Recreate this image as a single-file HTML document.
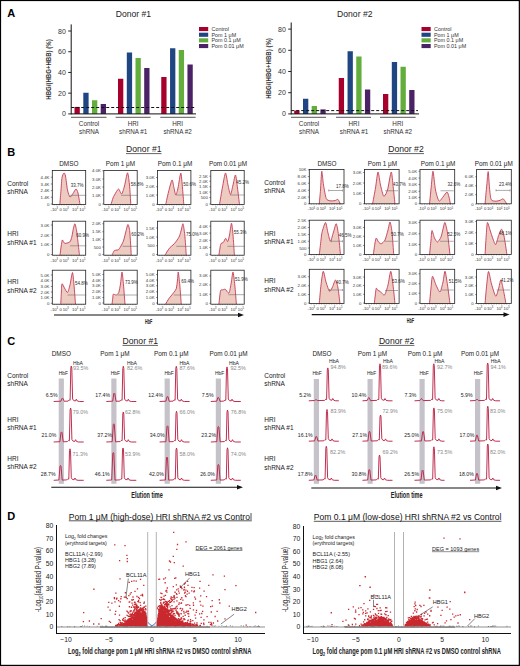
<!DOCTYPE html>
<html><head><meta charset="utf-8"><title>Figure</title>
<style>
html,body{margin:0;padding:0;background:#fff;}
body{width:520px;height:666px;overflow:hidden;}
svg{display:block;font-family:"Liberation Sans", sans-serif;}
</style></head><body>
<svg width="520" height="666" viewBox="0 0 520 666">
<rect x="0" y="0" width="520" height="666" fill="#fff"/>
<text x="7.2" y="16.7" font-size="11" fill="#000" font-weight="bold">A</text>
<text x="7.2" y="155.5" font-size="11" fill="#000" font-weight="bold">B</text>
<text x="7.2" y="344.5" font-size="11" fill="#000" font-weight="bold">C</text>
<text x="7.2" y="519.5" font-size="11" fill="#000" font-weight="bold">D</text>
<text x="133.4" y="17.4" font-size="8.6" fill="#222" text-anchor="middle">Donor #1</text>
<line x1="71.2" y1="24.4" x2="71.2" y2="114.4" stroke="#111" stroke-width="1"/>
<line x1="68.2" y1="113.9" x2="71.2" y2="113.9" stroke="#111" stroke-width="0.9"/>
<text x="65.9" y="116.4" font-size="7" fill="#333" text-anchor="end">0</text>
<line x1="68.2" y1="93.18" x2="71.2" y2="93.18" stroke="#111" stroke-width="0.9"/>
<text x="65.9" y="95.68" font-size="7" fill="#333" text-anchor="end">20</text>
<line x1="68.2" y1="72.46" x2="71.2" y2="72.46" stroke="#111" stroke-width="0.9"/>
<text x="65.9" y="74.96" font-size="7" fill="#333" text-anchor="end">40</text>
<line x1="68.2" y1="51.74" x2="71.2" y2="51.74" stroke="#111" stroke-width="0.9"/>
<text x="65.9" y="54.24" font-size="7" fill="#333" text-anchor="end">60</text>
<line x1="68.2" y1="31.02" x2="71.2" y2="31.02" stroke="#111" stroke-width="0.9"/>
<text x="65.9" y="33.52" font-size="7" fill="#333" text-anchor="end">80</text>
<text transform="translate(51.4 69.5) rotate(-90)" x="0" y="0" font-size="7.4" fill="#333" text-anchor="middle" font-weight="bold" textLength="60.5" lengthAdjust="spacingAndGlyphs">HBG/(HBG+HBB) (%)</text>
<rect x="74.5" y="106.9" width="5.3" height="7" fill="#a8002c"/>
<rect x="83.3" y="92.75" width="5.3" height="21.15" fill="#1f4582"/>
<rect x="92" y="100.25" width="5.3" height="13.65" fill="#62ad3c"/>
<rect x="100.7" y="104" width="5.3" height="9.9" fill="#4b2266"/>
<rect x="118" y="78.75" width="5.3" height="35.15" fill="#a8002c"/>
<rect x="126.8" y="52.5" width="5.3" height="61.4" fill="#1f4582"/>
<rect x="135.5" y="58" width="5.3" height="55.9" fill="#62ad3c"/>
<rect x="144.2" y="68" width="5.3" height="45.9" fill="#4b2266"/>
<rect x="161.25" y="77" width="5.3" height="36.9" fill="#a8002c"/>
<rect x="170.05" y="48.25" width="5.3" height="65.65" fill="#1f4582"/>
<rect x="178.75" y="50" width="5.3" height="63.9" fill="#62ad3c"/>
<rect x="187.45" y="64.5" width="5.3" height="49.4" fill="#4b2266"/>
<line x1="71.2" y1="113.9" x2="196" y2="113.9" stroke="#111" stroke-width="1"/>
<line x1="71.2" y1="107.5" x2="195" y2="107.5" stroke="#111" stroke-width="1" stroke-dasharray="3 2"/>
<line x1="71" y1="117.3" x2="106.5" y2="117.3" stroke="#555" stroke-width="1"/>
<line x1="115.6" y1="117.3" x2="150.6" y2="117.3" stroke="#555" stroke-width="1"/>
<line x1="160.25" y1="117.3" x2="195.6" y2="117.3" stroke="#555" stroke-width="1"/>
<text x="89" y="125.6" font-size="6.3" fill="#333" text-anchor="middle">Control</text>
<text x="89" y="133.6" font-size="6.3" fill="#333" text-anchor="middle">shRNA</text>
<text x="133.2" y="125.6" font-size="6.3" fill="#333" text-anchor="middle">HRI</text>
<text x="133.2" y="133.6" font-size="6.3" fill="#333" text-anchor="middle">shRNA #1</text>
<text x="177.6" y="125.6" font-size="6.3" fill="#333" text-anchor="middle">HRI</text>
<text x="177.6" y="133.6" font-size="6.3" fill="#333" text-anchor="middle">shRNA #2</text>
<rect x="199" y="27" width="9.2" height="4.1" fill="#a8002c"/>
<text x="211.5" y="31" font-size="5.4" fill="#333">Control</text>
<rect x="199" y="32.7" width="9.2" height="4.1" fill="#1f4582"/>
<text x="211.5" y="36.7" font-size="5.4" fill="#333">Pom 1 μM</text>
<rect x="199" y="38.3" width="9.2" height="4.1" fill="#62ad3c"/>
<text x="211.5" y="42.3" font-size="5.4" fill="#333">Pom 0.1 μM</text>
<rect x="199" y="44" width="9.2" height="4.1" fill="#4b2266"/>
<text x="211.5" y="48" font-size="5.4" fill="#333">Pom 0.01 μM</text>
<text x="354.8" y="17.4" font-size="8.6" fill="#222" text-anchor="middle">Donor #2</text>
<line x1="291.2" y1="22.5" x2="291.2" y2="114.4" stroke="#111" stroke-width="1"/>
<line x1="288.2" y1="113.9" x2="291.2" y2="113.9" stroke="#111" stroke-width="0.9"/>
<text x="285.9" y="116.4" font-size="7" fill="#333" text-anchor="end">0</text>
<line x1="288.2" y1="92.7" x2="291.2" y2="92.7" stroke="#111" stroke-width="0.9"/>
<text x="285.9" y="95.2" font-size="7" fill="#333" text-anchor="end">20</text>
<line x1="288.2" y1="71.5" x2="291.2" y2="71.5" stroke="#111" stroke-width="0.9"/>
<text x="285.9" y="74" font-size="7" fill="#333" text-anchor="end">40</text>
<line x1="288.2" y1="50.3" x2="291.2" y2="50.3" stroke="#111" stroke-width="0.9"/>
<text x="285.9" y="52.8" font-size="7" fill="#333" text-anchor="end">60</text>
<line x1="288.2" y1="29.1" x2="291.2" y2="29.1" stroke="#111" stroke-width="0.9"/>
<text x="285.9" y="31.6" font-size="7" fill="#333" text-anchor="end">80</text>
<text transform="translate(271.1 68.4) rotate(-90)" x="0" y="0" font-size="7.4" fill="#333" text-anchor="middle" font-weight="bold" textLength="60.5" lengthAdjust="spacingAndGlyphs">HBG/(HBG+HBB) (%)</text>
<rect x="294.2" y="110.6" width="5.3" height="3.3" fill="#a8002c"/>
<rect x="303" y="98.75" width="5.3" height="15.15" fill="#1f4582"/>
<rect x="311.7" y="106" width="5.3" height="7.9" fill="#62ad3c"/>
<rect x="320.4" y="109.4" width="5.3" height="4.5" fill="#4b2266"/>
<rect x="338.75" y="78" width="5.3" height="35.9" fill="#a8002c"/>
<rect x="347.55" y="51.25" width="5.3" height="62.65" fill="#1f4582"/>
<rect x="356.25" y="56.5" width="5.3" height="57.4" fill="#62ad3c"/>
<rect x="364.95" y="89.5" width="5.3" height="24.4" fill="#4b2266"/>
<rect x="383" y="94" width="5.3" height="19.9" fill="#a8002c"/>
<rect x="391.8" y="62" width="5.3" height="51.9" fill="#1f4582"/>
<rect x="400.5" y="66.75" width="5.3" height="47.15" fill="#62ad3c"/>
<rect x="409.2" y="90" width="5.3" height="23.9" fill="#4b2266"/>
<line x1="291.2" y1="113.9" x2="419" y2="113.9" stroke="#111" stroke-width="1"/>
<line x1="291.2" y1="110.6" x2="418" y2="110.6" stroke="#111" stroke-width="1" stroke-dasharray="3 2"/>
<line x1="291" y1="117.3" x2="326" y2="117.3" stroke="#555" stroke-width="1"/>
<line x1="336" y1="117.3" x2="371" y2="117.3" stroke="#555" stroke-width="1"/>
<line x1="380" y1="117.3" x2="415.6" y2="117.3" stroke="#555" stroke-width="1"/>
<text x="309" y="125.6" font-size="6.3" fill="#333" text-anchor="middle">Control</text>
<text x="309" y="133.6" font-size="6.3" fill="#333" text-anchor="middle">shRNA</text>
<text x="354" y="125.6" font-size="6.3" fill="#333" text-anchor="middle">HRI</text>
<text x="354" y="133.6" font-size="6.3" fill="#333" text-anchor="middle">shRNA #1</text>
<text x="397.8" y="125.6" font-size="6.3" fill="#333" text-anchor="middle">HRI</text>
<text x="397.8" y="133.6" font-size="6.3" fill="#333" text-anchor="middle">shRNA #2</text>
<rect x="421.5" y="27" width="9.2" height="4.1" fill="#a8002c"/>
<text x="434" y="31" font-size="5.4" fill="#333">Control</text>
<rect x="421.5" y="32.7" width="9.2" height="4.1" fill="#1f4582"/>
<text x="434" y="36.7" font-size="5.4" fill="#333">Pom 1 μM</text>
<rect x="421.5" y="38.3" width="9.2" height="4.1" fill="#62ad3c"/>
<text x="434" y="42.3" font-size="5.4" fill="#333">Pom 0.1 μM</text>
<rect x="421.5" y="44" width="9.2" height="4.1" fill="#4b2266"/>
<text x="434" y="48" font-size="5.4" fill="#333">Pom 0.01 μM</text>
<text x="143.8" y="152.25" font-size="8.6" fill="#222" text-anchor="middle">Donor #1</text>
<line x1="126" y1="153.6" x2="161.5" y2="153.6" stroke="#222" stroke-width="0.7"/>
<text x="406" y="152.25" font-size="8.6" fill="#222" text-anchor="middle">Donor #2</text>
<line x1="388" y1="153.6" x2="424" y2="153.6" stroke="#222" stroke-width="0.7"/>
<text x="68.8" y="166.3" font-size="6.4" fill="#222" text-anchor="middle">DMSO</text>
<text x="120.5" y="166.3" font-size="6.4" fill="#222" text-anchor="middle">Pom 1 μM</text>
<text x="175" y="166.3" font-size="6.4" fill="#222" text-anchor="middle">Pom 0.1 μM</text>
<text x="228" y="166.3" font-size="6.4" fill="#222" text-anchor="middle">Pom 0.01 μM</text>
<text x="327" y="166.3" font-size="6.4" fill="#222" text-anchor="middle">DMSO</text>
<text x="382.5" y="166.3" font-size="6.4" fill="#222" text-anchor="middle">Pom 1 μM</text>
<text x="438" y="166.3" font-size="6.4" fill="#222" text-anchor="middle">Pom 0.1 μM</text>
<text x="493.8" y="166.3" font-size="6.4" fill="#222" text-anchor="middle">Pom 0.01 μM</text>
<text x="7.3" y="185.5" font-size="6.5" fill="#222">Control</text>
<text x="7.3" y="193.75" font-size="6.5" fill="#222">shRNA</text>
<text x="7.3" y="236" font-size="6.5" fill="#222">HRI</text>
<text x="7.3" y="244.5" font-size="6.5" fill="#222">shRNA #1</text>
<text x="7.3" y="283.75" font-size="6.5" fill="#222">HRI</text>
<text x="7.3" y="292.5" font-size="6.5" fill="#222">shRNA #2</text>
<text x="264.3" y="185" font-size="6.5" fill="#222">Control</text>
<text x="264.3" y="193" font-size="6.5" fill="#222">shRNA</text>
<text x="264.3" y="235.5" font-size="6.5" fill="#222">HRI</text>
<text x="264.3" y="243.75" font-size="6.5" fill="#222">shRNA #1</text>
<text x="264.3" y="283" font-size="6.5" fill="#222">HRI</text>
<text x="264.3" y="291.75" font-size="6.5" fill="#222">shRNA #2</text>
<path d="M59.8 204.5C59.94 202.76 60.74 193.24 61 190C61.26 186.76 61.64 179.54 62 177.5C62.36 175.46 63.58 173.18 64 173C64.42 172.82 65.08 173.96 65.5 176C65.92 178.04 66.96 187.48 67.5 190C68.04 192.52 69.34 196.58 70 197C70.66 197.42 72.28 194.46 73 193.5C73.72 192.54 75.4 189.06 76 189C76.6 188.94 77.52 191.14 78 193C78.48 194.86 79.76 203.12 80 204.5L80 204.5Z" fill="#edcbc0" stroke="none"/>
<path d="M59.8 204.5C59.94 202.76 60.74 193.24 61 190C61.26 186.76 61.64 179.54 62 177.5C62.36 175.46 63.58 173.18 64 173C64.42 172.82 65.08 173.96 65.5 176C65.92 178.04 66.96 187.48 67.5 190C68.04 192.52 69.34 196.58 70 197C70.66 197.42 72.28 194.46 73 193.5C73.72 192.54 75.4 189.06 76 189C76.6 188.94 77.52 191.14 78 193C78.48 194.86 79.76 203.12 80 204.5" fill="none" stroke="#c43a58" stroke-width="0.9" stroke-linejoin="round"/>
<rect x="52.3" y="170.5" width="33.4" height="34" fill="none" stroke="#222" stroke-width="0.8"/>
<line x1="50.8" y1="177.25" x2="52.3" y2="177.25" stroke="#222" stroke-width="0.5"/>
<text x="49.4" y="178.75" font-size="4.3" fill="#333" text-anchor="end">4.4K</text>
<line x1="50.8" y1="184" x2="52.3" y2="184" stroke="#222" stroke-width="0.5"/>
<text x="49.4" y="185.5" font-size="4.3" fill="#333" text-anchor="end">3.4K</text>
<line x1="50.8" y1="190.6" x2="52.3" y2="190.6" stroke="#222" stroke-width="0.5"/>
<text x="49.4" y="192.1" font-size="4.3" fill="#333" text-anchor="end">2.4K</text>
<line x1="50.8" y1="197.25" x2="52.3" y2="197.25" stroke="#222" stroke-width="0.5"/>
<text x="49.4" y="198.75" font-size="4.3" fill="#333" text-anchor="end">1.4K</text>
<line x1="50.8" y1="204" x2="52.3" y2="204" stroke="#222" stroke-width="0.5"/>
<text x="49.4" y="205.5" font-size="4.3" fill="#333" text-anchor="end">0</text>
<line x1="54.3" y1="204.5" x2="54.3" y2="205.4" stroke="#222" stroke-width="0.4"/>
<line x1="56.75" y1="204.5" x2="56.75" y2="205.4" stroke="#222" stroke-width="0.4"/>
<line x1="59.2" y1="204.5" x2="59.2" y2="205.4" stroke="#222" stroke-width="0.4"/>
<line x1="61.65" y1="204.5" x2="61.65" y2="205.4" stroke="#222" stroke-width="0.4"/>
<line x1="64.1" y1="204.5" x2="64.1" y2="205.4" stroke="#222" stroke-width="0.4"/>
<line x1="66.55" y1="204.5" x2="66.55" y2="205.4" stroke="#222" stroke-width="0.4"/>
<line x1="69" y1="204.5" x2="69" y2="205.4" stroke="#222" stroke-width="0.4"/>
<line x1="71.45" y1="204.5" x2="71.45" y2="205.4" stroke="#222" stroke-width="0.4"/>
<line x1="73.9" y1="204.5" x2="73.9" y2="205.4" stroke="#222" stroke-width="0.4"/>
<line x1="76.35" y1="204.5" x2="76.35" y2="205.4" stroke="#222" stroke-width="0.4"/>
<line x1="78.8" y1="204.5" x2="78.8" y2="205.4" stroke="#222" stroke-width="0.4"/>
<line x1="81.25" y1="204.5" x2="81.25" y2="205.4" stroke="#222" stroke-width="0.4"/>
<line x1="83.7" y1="204.5" x2="83.7" y2="205.4" stroke="#222" stroke-width="0.4"/>
<text x="50.5" y="210.9" font-size="4.2" fill="#333">-10<tspan font-size="2.6" dy="-1.6">3</tspan></text>
<text x="59.6" y="210.9" font-size="4.2" fill="#333">0</text>
<text x="62.7" y="210.9" font-size="4.2" fill="#333">10<tspan font-size="2.6" dy="-1.6">3</tspan></text>
<text x="72.1" y="210.9" font-size="4.2" fill="#333">10<tspan font-size="2.6" dy="-1.6">4</tspan></text>
<text x="79.3" y="210.9" font-size="4.2" fill="#333">10<tspan font-size="2.6" dy="-1.6">5</tspan></text>
<line x1="70" y1="195.3" x2="86.3" y2="195.3" stroke="#666" stroke-width="0.55"/>
<text x="70.8" y="186.5" font-size="4.5" fill="#2a2a2a">33.7%</text>
<path d="M111 204.5C111.24 203.72 112.58 199.14 113 198C113.42 196.86 113.84 196.08 114.5 195C115.16 193.92 117.65 189.12 118.5 189C119.35 188.88 120.88 194.36 121.6 194C122.32 193.64 123.79 188.54 124.5 186C125.21 183.46 126.9 172.92 127.5 172.8C128.1 172.68 129.1 181.2 129.5 185C129.9 188.8 130.64 202.16 130.8 204.5L130.8 204.5Z" fill="#edcbc0" stroke="none"/>
<path d="M111 204.5C111.24 203.72 112.58 199.14 113 198C113.42 196.86 113.84 196.08 114.5 195C115.16 193.92 117.65 189.12 118.5 189C119.35 188.88 120.88 194.36 121.6 194C122.32 193.64 123.79 188.54 124.5 186C125.21 183.46 126.9 172.92 127.5 172.8C128.1 172.68 129.1 181.2 129.5 185C129.9 188.8 130.64 202.16 130.8 204.5" fill="none" stroke="#c43a58" stroke-width="0.9" stroke-linejoin="round"/>
<rect x="103.8" y="170.5" width="33.4" height="34" fill="none" stroke="#222" stroke-width="0.8"/>
<line x1="102.3" y1="170.8" x2="103.8" y2="170.8" stroke="#222" stroke-width="0.5"/>
<text x="100.9" y="172.3" font-size="4.3" fill="#333" text-anchor="end">4.0K</text>
<line x1="102.3" y1="179" x2="103.8" y2="179" stroke="#222" stroke-width="0.5"/>
<text x="100.9" y="180.5" font-size="4.3" fill="#333" text-anchor="end">3.0K</text>
<line x1="102.3" y1="187" x2="103.8" y2="187" stroke="#222" stroke-width="0.5"/>
<text x="100.9" y="188.5" font-size="4.3" fill="#333" text-anchor="end">2.0K</text>
<line x1="102.3" y1="195" x2="103.8" y2="195" stroke="#222" stroke-width="0.5"/>
<text x="100.9" y="196.5" font-size="4.3" fill="#333" text-anchor="end">1.0K</text>
<line x1="102.3" y1="204" x2="103.8" y2="204" stroke="#222" stroke-width="0.5"/>
<text x="100.9" y="205.5" font-size="4.3" fill="#333" text-anchor="end">0</text>
<line x1="105.8" y1="204.5" x2="105.8" y2="205.4" stroke="#222" stroke-width="0.4"/>
<line x1="108.25" y1="204.5" x2="108.25" y2="205.4" stroke="#222" stroke-width="0.4"/>
<line x1="110.7" y1="204.5" x2="110.7" y2="205.4" stroke="#222" stroke-width="0.4"/>
<line x1="113.15" y1="204.5" x2="113.15" y2="205.4" stroke="#222" stroke-width="0.4"/>
<line x1="115.6" y1="204.5" x2="115.6" y2="205.4" stroke="#222" stroke-width="0.4"/>
<line x1="118.05" y1="204.5" x2="118.05" y2="205.4" stroke="#222" stroke-width="0.4"/>
<line x1="120.5" y1="204.5" x2="120.5" y2="205.4" stroke="#222" stroke-width="0.4"/>
<line x1="122.95" y1="204.5" x2="122.95" y2="205.4" stroke="#222" stroke-width="0.4"/>
<line x1="125.4" y1="204.5" x2="125.4" y2="205.4" stroke="#222" stroke-width="0.4"/>
<line x1="127.85" y1="204.5" x2="127.85" y2="205.4" stroke="#222" stroke-width="0.4"/>
<line x1="130.3" y1="204.5" x2="130.3" y2="205.4" stroke="#222" stroke-width="0.4"/>
<line x1="132.75" y1="204.5" x2="132.75" y2="205.4" stroke="#222" stroke-width="0.4"/>
<line x1="135.2" y1="204.5" x2="135.2" y2="205.4" stroke="#222" stroke-width="0.4"/>
<text x="102" y="210.9" font-size="4.2" fill="#333">-10<tspan font-size="2.6" dy="-1.6">3</tspan></text>
<text x="111.1" y="210.9" font-size="4.2" fill="#333">0</text>
<text x="114.2" y="210.9" font-size="4.2" fill="#333">10<tspan font-size="2.6" dy="-1.6">3</tspan></text>
<text x="123.6" y="210.9" font-size="4.2" fill="#333">10<tspan font-size="2.6" dy="-1.6">4</tspan></text>
<text x="130.8" y="210.9" font-size="4.2" fill="#333">10<tspan font-size="2.6" dy="-1.6">5</tspan></text>
<line x1="121" y1="195.3" x2="137.8" y2="195.3" stroke="#666" stroke-width="0.55"/>
<text x="130.8" y="186" font-size="4.5" fill="#2a2a2a">58.8%</text>
<path d="M165.7 204.5C166.04 203 167.74 194.94 168.5 192C169.26 189.06 171.34 180.48 172 180C172.66 179.52 173.54 186.2 174 188C174.46 189.8 175.32 195 175.8 195C176.28 195 177.4 190.64 178 188C178.6 185.36 180.26 173 180.8 173C181.34 173 182.14 184.22 182.5 188C182.86 191.78 183.64 202.52 183.8 204.5L183.8 204.5Z" fill="#edcbc0" stroke="none"/>
<path d="M165.7 204.5C166.04 203 167.74 194.94 168.5 192C169.26 189.06 171.34 180.48 172 180C172.66 179.52 173.54 186.2 174 188C174.46 189.8 175.32 195 175.8 195C176.28 195 177.4 190.64 178 188C178.6 185.36 180.26 173 180.8 173C181.34 173 182.14 184.22 182.5 188C182.86 191.78 183.64 202.52 183.8 204.5" fill="none" stroke="#c43a58" stroke-width="0.9" stroke-linejoin="round"/>
<rect x="157.5" y="170.5" width="33.4" height="34" fill="none" stroke="#222" stroke-width="0.8"/>
<line x1="156" y1="177.5" x2="157.5" y2="177.5" stroke="#222" stroke-width="0.5"/>
<text x="154.6" y="179" font-size="4.3" fill="#333" text-anchor="end">3.0K</text>
<line x1="156" y1="186.75" x2="157.5" y2="186.75" stroke="#222" stroke-width="0.5"/>
<text x="154.6" y="188.25" font-size="4.3" fill="#333" text-anchor="end">2.0K</text>
<line x1="156" y1="195" x2="157.5" y2="195" stroke="#222" stroke-width="0.5"/>
<text x="154.6" y="196.5" font-size="4.3" fill="#333" text-anchor="end">1.0K</text>
<line x1="156" y1="204.3" x2="157.5" y2="204.3" stroke="#222" stroke-width="0.5"/>
<text x="154.6" y="205.8" font-size="4.3" fill="#333" text-anchor="end">0</text>
<line x1="159.5" y1="204.5" x2="159.5" y2="205.4" stroke="#222" stroke-width="0.4"/>
<line x1="161.95" y1="204.5" x2="161.95" y2="205.4" stroke="#222" stroke-width="0.4"/>
<line x1="164.4" y1="204.5" x2="164.4" y2="205.4" stroke="#222" stroke-width="0.4"/>
<line x1="166.85" y1="204.5" x2="166.85" y2="205.4" stroke="#222" stroke-width="0.4"/>
<line x1="169.3" y1="204.5" x2="169.3" y2="205.4" stroke="#222" stroke-width="0.4"/>
<line x1="171.75" y1="204.5" x2="171.75" y2="205.4" stroke="#222" stroke-width="0.4"/>
<line x1="174.2" y1="204.5" x2="174.2" y2="205.4" stroke="#222" stroke-width="0.4"/>
<line x1="176.65" y1="204.5" x2="176.65" y2="205.4" stroke="#222" stroke-width="0.4"/>
<line x1="179.1" y1="204.5" x2="179.1" y2="205.4" stroke="#222" stroke-width="0.4"/>
<line x1="181.55" y1="204.5" x2="181.55" y2="205.4" stroke="#222" stroke-width="0.4"/>
<line x1="184" y1="204.5" x2="184" y2="205.4" stroke="#222" stroke-width="0.4"/>
<line x1="186.45" y1="204.5" x2="186.45" y2="205.4" stroke="#222" stroke-width="0.4"/>
<line x1="188.9" y1="204.5" x2="188.9" y2="205.4" stroke="#222" stroke-width="0.4"/>
<text x="155.7" y="210.9" font-size="4.2" fill="#333">-10<tspan font-size="2.6" dy="-1.6">3</tspan></text>
<text x="164.8" y="210.9" font-size="4.2" fill="#333">0</text>
<text x="167.9" y="210.9" font-size="4.2" fill="#333">10<tspan font-size="2.6" dy="-1.6">3</tspan></text>
<text x="177.3" y="210.9" font-size="4.2" fill="#333">10<tspan font-size="2.6" dy="-1.6">4</tspan></text>
<text x="184.5" y="210.9" font-size="4.2" fill="#333">10<tspan font-size="2.6" dy="-1.6">5</tspan></text>
<line x1="175.8" y1="195" x2="191.5" y2="195" stroke="#666" stroke-width="0.55"/>
<text x="183.3" y="185.5" font-size="4.5" fill="#2a2a2a">50.6%</text>
<path d="M219.5 204.5C219.86 202.4 221.78 190.78 222.5 187C223.22 183.22 224.84 173.24 225.5 173C226.16 172.76 227.4 182.42 228 185C228.6 187.58 229.9 194.5 230.5 194.5C231.1 194.5 232.4 187.34 233 185C233.6 182.66 234.96 174.64 235.5 175C236.04 175.36 237.02 184.46 237.5 188C237.98 191.54 239.26 202.52 239.5 204.5L239.5 204.5Z" fill="#edcbc0" stroke="none"/>
<path d="M219.5 204.5C219.86 202.4 221.78 190.78 222.5 187C223.22 183.22 224.84 173.24 225.5 173C226.16 172.76 227.4 182.42 228 185C228.6 187.58 229.9 194.5 230.5 194.5C231.1 194.5 232.4 187.34 233 185C233.6 182.66 234.96 174.64 235.5 175C236.04 175.36 237.02 184.46 237.5 188C237.98 191.54 239.26 202.52 239.5 204.5" fill="none" stroke="#c43a58" stroke-width="0.9" stroke-linejoin="round"/>
<rect x="210.8" y="170.5" width="33.4" height="34" fill="none" stroke="#222" stroke-width="0.8"/>
<line x1="209.3" y1="176.25" x2="210.8" y2="176.25" stroke="#222" stroke-width="0.5"/>
<text x="207.9" y="177.75" font-size="4.3" fill="#333" text-anchor="end">2.5K</text>
<line x1="209.3" y1="181.25" x2="210.8" y2="181.25" stroke="#222" stroke-width="0.5"/>
<text x="207.9" y="182.75" font-size="4.3" fill="#333" text-anchor="end">2.0K</text>
<line x1="209.3" y1="186.75" x2="210.8" y2="186.75" stroke="#222" stroke-width="0.5"/>
<text x="207.9" y="188.25" font-size="4.3" fill="#333" text-anchor="end">1.5K</text>
<line x1="209.3" y1="192" x2="210.8" y2="192" stroke="#222" stroke-width="0.5"/>
<text x="207.9" y="193.5" font-size="4.3" fill="#333" text-anchor="end">1.0K</text>
<line x1="209.3" y1="197.5" x2="210.8" y2="197.5" stroke="#222" stroke-width="0.5"/>
<text x="207.9" y="199" font-size="4.3" fill="#333" text-anchor="end">500</text>
<line x1="209.3" y1="204" x2="210.8" y2="204" stroke="#222" stroke-width="0.5"/>
<text x="207.9" y="205.5" font-size="4.3" fill="#333" text-anchor="end">0</text>
<line x1="212.8" y1="204.5" x2="212.8" y2="205.4" stroke="#222" stroke-width="0.4"/>
<line x1="215.25" y1="204.5" x2="215.25" y2="205.4" stroke="#222" stroke-width="0.4"/>
<line x1="217.7" y1="204.5" x2="217.7" y2="205.4" stroke="#222" stroke-width="0.4"/>
<line x1="220.15" y1="204.5" x2="220.15" y2="205.4" stroke="#222" stroke-width="0.4"/>
<line x1="222.6" y1="204.5" x2="222.6" y2="205.4" stroke="#222" stroke-width="0.4"/>
<line x1="225.05" y1="204.5" x2="225.05" y2="205.4" stroke="#222" stroke-width="0.4"/>
<line x1="227.5" y1="204.5" x2="227.5" y2="205.4" stroke="#222" stroke-width="0.4"/>
<line x1="229.95" y1="204.5" x2="229.95" y2="205.4" stroke="#222" stroke-width="0.4"/>
<line x1="232.4" y1="204.5" x2="232.4" y2="205.4" stroke="#222" stroke-width="0.4"/>
<line x1="234.85" y1="204.5" x2="234.85" y2="205.4" stroke="#222" stroke-width="0.4"/>
<line x1="237.3" y1="204.5" x2="237.3" y2="205.4" stroke="#222" stroke-width="0.4"/>
<line x1="239.75" y1="204.5" x2="239.75" y2="205.4" stroke="#222" stroke-width="0.4"/>
<line x1="242.2" y1="204.5" x2="242.2" y2="205.4" stroke="#222" stroke-width="0.4"/>
<text x="209" y="210.9" font-size="4.2" fill="#333">-10<tspan font-size="2.6" dy="-1.6">3</tspan></text>
<text x="218.1" y="210.9" font-size="4.2" fill="#333">0</text>
<text x="221.2" y="210.9" font-size="4.2" fill="#333">10<tspan font-size="2.6" dy="-1.6">3</tspan></text>
<text x="230.6" y="210.9" font-size="4.2" fill="#333">10<tspan font-size="2.6" dy="-1.6">4</tspan></text>
<text x="237.8" y="210.9" font-size="4.2" fill="#333">10<tspan font-size="2.6" dy="-1.6">5</tspan></text>
<line x1="230" y1="195" x2="244.8" y2="195" stroke="#666" stroke-width="0.55"/>
<text x="236.3" y="183.8" font-size="4.5" fill="#2a2a2a">45.2%</text>
<path d="M60 255.2C60.14 254.1 60.92 247.82 61.2 246C61.48 244.18 62.02 240.48 62.3 240C62.58 239.52 63.18 241.58 63.5 242C63.82 242.42 64.58 243.38 65 243.5C65.42 243.62 66.52 243.12 67 243C67.48 242.88 68.58 242.74 69 242.5C69.42 242.26 70.14 241.78 70.5 241C70.86 240.22 71.64 237.56 72 236C72.36 234.44 73.14 229.46 73.5 228C73.86 226.54 74.6 223.32 75 223.8C75.4 224.28 76.4 229.46 76.8 232C77.2 234.54 77.98 242.22 78.3 245C78.62 247.78 79.36 253.98 79.5 255.2L79.5 255.2Z" fill="#edcbc0" stroke="none"/>
<path d="M60 255.2C60.14 254.1 60.92 247.82 61.2 246C61.48 244.18 62.02 240.48 62.3 240C62.58 239.52 63.18 241.58 63.5 242C63.82 242.42 64.58 243.38 65 243.5C65.42 243.62 66.52 243.12 67 243C67.48 242.88 68.58 242.74 69 242.5C69.42 242.26 70.14 241.78 70.5 241C70.86 240.22 71.64 237.56 72 236C72.36 234.44 73.14 229.46 73.5 228C73.86 226.54 74.6 223.32 75 223.8C75.4 224.28 76.4 229.46 76.8 232C77.2 234.54 77.98 242.22 78.3 245C78.62 247.78 79.36 253.98 79.5 255.2" fill="none" stroke="#c43a58" stroke-width="0.9" stroke-linejoin="round"/>
<rect x="52.3" y="221.2" width="33.4" height="34" fill="none" stroke="#222" stroke-width="0.8"/>
<line x1="50.8" y1="225" x2="52.3" y2="225" stroke="#222" stroke-width="0.5"/>
<text x="49.4" y="226.5" font-size="4.3" fill="#333" text-anchor="end">3.0K</text>
<line x1="50.8" y1="235" x2="52.3" y2="235" stroke="#222" stroke-width="0.5"/>
<text x="49.4" y="236.5" font-size="4.3" fill="#333" text-anchor="end">2.0K</text>
<line x1="50.8" y1="244.5" x2="52.3" y2="244.5" stroke="#222" stroke-width="0.5"/>
<text x="49.4" y="246" font-size="4.3" fill="#333" text-anchor="end">1.0K</text>
<line x1="50.8" y1="254.5" x2="52.3" y2="254.5" stroke="#222" stroke-width="0.5"/>
<text x="49.4" y="256" font-size="4.3" fill="#333" text-anchor="end">0</text>
<line x1="54.3" y1="255.2" x2="54.3" y2="256.1" stroke="#222" stroke-width="0.4"/>
<line x1="56.75" y1="255.2" x2="56.75" y2="256.1" stroke="#222" stroke-width="0.4"/>
<line x1="59.2" y1="255.2" x2="59.2" y2="256.1" stroke="#222" stroke-width="0.4"/>
<line x1="61.65" y1="255.2" x2="61.65" y2="256.1" stroke="#222" stroke-width="0.4"/>
<line x1="64.1" y1="255.2" x2="64.1" y2="256.1" stroke="#222" stroke-width="0.4"/>
<line x1="66.55" y1="255.2" x2="66.55" y2="256.1" stroke="#222" stroke-width="0.4"/>
<line x1="69" y1="255.2" x2="69" y2="256.1" stroke="#222" stroke-width="0.4"/>
<line x1="71.45" y1="255.2" x2="71.45" y2="256.1" stroke="#222" stroke-width="0.4"/>
<line x1="73.9" y1="255.2" x2="73.9" y2="256.1" stroke="#222" stroke-width="0.4"/>
<line x1="76.35" y1="255.2" x2="76.35" y2="256.1" stroke="#222" stroke-width="0.4"/>
<line x1="78.8" y1="255.2" x2="78.8" y2="256.1" stroke="#222" stroke-width="0.4"/>
<line x1="81.25" y1="255.2" x2="81.25" y2="256.1" stroke="#222" stroke-width="0.4"/>
<line x1="83.7" y1="255.2" x2="83.7" y2="256.1" stroke="#222" stroke-width="0.4"/>
<text x="50.5" y="261.6" font-size="4.2" fill="#333">-10<tspan font-size="2.6" dy="-1.6">3</tspan></text>
<text x="59.6" y="261.6" font-size="4.2" fill="#333">0</text>
<text x="62.7" y="261.6" font-size="4.2" fill="#333">10<tspan font-size="2.6" dy="-1.6">3</tspan></text>
<text x="72.1" y="261.6" font-size="4.2" fill="#333">10<tspan font-size="2.6" dy="-1.6">4</tspan></text>
<text x="79.3" y="261.6" font-size="4.2" fill="#333">10<tspan font-size="2.6" dy="-1.6">5</tspan></text>
<line x1="70" y1="245.8" x2="86.3" y2="245.8" stroke="#666" stroke-width="0.55"/>
<text x="76.3" y="236.7" font-size="4.5" fill="#2a2a2a">60.9%</text>
<path d="M112 255.2C112.18 254.82 113.2 252.56 113.5 252C113.8 251.44 114.08 250.74 114.5 250.5C114.92 250.26 116.49 250.12 117 250C117.51 249.88 118.21 250.1 118.75 249.5C119.29 248.9 120.9 246.14 121.5 245C122.1 243.86 123.21 241.68 123.75 240C124.29 238.32 125.49 232.86 126 231C126.51 229.14 127.54 224.38 128 224.5C128.46 224.62 129.41 228.32 129.8 232C130.19 235.68 131.08 252.42 131.25 255.2L131.25 255.2Z" fill="#edcbc0" stroke="none"/>
<path d="M112 255.2C112.18 254.82 113.2 252.56 113.5 252C113.8 251.44 114.08 250.74 114.5 250.5C114.92 250.26 116.49 250.12 117 250C117.51 249.88 118.21 250.1 118.75 249.5C119.29 248.9 120.9 246.14 121.5 245C122.1 243.86 123.21 241.68 123.75 240C124.29 238.32 125.49 232.86 126 231C126.51 229.14 127.54 224.38 128 224.5C128.46 224.62 129.41 228.32 129.8 232C130.19 235.68 131.08 252.42 131.25 255.2" fill="none" stroke="#c43a58" stroke-width="0.9" stroke-linejoin="round"/>
<rect x="103.8" y="221.2" width="33.4" height="34" fill="none" stroke="#222" stroke-width="0.8"/>
<line x1="102.3" y1="223.75" x2="103.8" y2="223.75" stroke="#222" stroke-width="0.5"/>
<text x="100.9" y="225.25" font-size="4.3" fill="#333" text-anchor="end">2.0K</text>
<line x1="102.3" y1="231.75" x2="103.8" y2="231.75" stroke="#222" stroke-width="0.5"/>
<text x="100.9" y="233.25" font-size="4.3" fill="#333" text-anchor="end">1.5K</text>
<line x1="102.3" y1="239.25" x2="103.8" y2="239.25" stroke="#222" stroke-width="0.5"/>
<text x="100.9" y="240.75" font-size="4.3" fill="#333" text-anchor="end">1.0K</text>
<line x1="102.3" y1="247" x2="103.8" y2="247" stroke="#222" stroke-width="0.5"/>
<text x="100.9" y="248.5" font-size="4.3" fill="#333" text-anchor="end">500</text>
<line x1="102.3" y1="254.5" x2="103.8" y2="254.5" stroke="#222" stroke-width="0.5"/>
<text x="100.9" y="256" font-size="4.3" fill="#333" text-anchor="end">0</text>
<line x1="105.8" y1="255.2" x2="105.8" y2="256.1" stroke="#222" stroke-width="0.4"/>
<line x1="108.25" y1="255.2" x2="108.25" y2="256.1" stroke="#222" stroke-width="0.4"/>
<line x1="110.7" y1="255.2" x2="110.7" y2="256.1" stroke="#222" stroke-width="0.4"/>
<line x1="113.15" y1="255.2" x2="113.15" y2="256.1" stroke="#222" stroke-width="0.4"/>
<line x1="115.6" y1="255.2" x2="115.6" y2="256.1" stroke="#222" stroke-width="0.4"/>
<line x1="118.05" y1="255.2" x2="118.05" y2="256.1" stroke="#222" stroke-width="0.4"/>
<line x1="120.5" y1="255.2" x2="120.5" y2="256.1" stroke="#222" stroke-width="0.4"/>
<line x1="122.95" y1="255.2" x2="122.95" y2="256.1" stroke="#222" stroke-width="0.4"/>
<line x1="125.4" y1="255.2" x2="125.4" y2="256.1" stroke="#222" stroke-width="0.4"/>
<line x1="127.85" y1="255.2" x2="127.85" y2="256.1" stroke="#222" stroke-width="0.4"/>
<line x1="130.3" y1="255.2" x2="130.3" y2="256.1" stroke="#222" stroke-width="0.4"/>
<line x1="132.75" y1="255.2" x2="132.75" y2="256.1" stroke="#222" stroke-width="0.4"/>
<line x1="135.2" y1="255.2" x2="135.2" y2="256.1" stroke="#222" stroke-width="0.4"/>
<text x="102" y="261.6" font-size="4.2" fill="#333">-10<tspan font-size="2.6" dy="-1.6">3</tspan></text>
<text x="111.1" y="261.6" font-size="4.2" fill="#333">0</text>
<text x="114.2" y="261.6" font-size="4.2" fill="#333">10<tspan font-size="2.6" dy="-1.6">3</tspan></text>
<text x="123.6" y="261.6" font-size="4.2" fill="#333">10<tspan font-size="2.6" dy="-1.6">4</tspan></text>
<text x="130.8" y="261.6" font-size="4.2" fill="#333">10<tspan font-size="2.6" dy="-1.6">5</tspan></text>
<line x1="122.5" y1="246.3" x2="137.8" y2="246.3" stroke="#666" stroke-width="0.55"/>
<text x="131.3" y="236.2" font-size="4.5" fill="#2a2a2a">60.2%</text>
<path d="M165 255.2C165.3 254.7 166.9 251.92 167.5 251C168.1 250.08 169.34 248.22 170 247.5C170.66 246.78 172.25 245.75 173 245C173.75 244.25 175.47 242.33 176.25 241.25C177.03 240.17 178.87 237.47 179.5 236C180.13 234.53 181.08 230.46 181.5 229C181.92 227.54 182.6 223.08 183 223.8C183.4 224.52 184.41 231.23 184.8 235C185.19 238.77 186.08 252.78 186.25 255.2L186.25 255.2Z" fill="#edcbc0" stroke="none"/>
<path d="M165 255.2C165.3 254.7 166.9 251.92 167.5 251C168.1 250.08 169.34 248.22 170 247.5C170.66 246.78 172.25 245.75 173 245C173.75 244.25 175.47 242.33 176.25 241.25C177.03 240.17 178.87 237.47 179.5 236C180.13 234.53 181.08 230.46 181.5 229C181.92 227.54 182.6 223.08 183 223.8C183.4 224.52 184.41 231.23 184.8 235C185.19 238.77 186.08 252.78 186.25 255.2" fill="none" stroke="#c43a58" stroke-width="0.9" stroke-linejoin="round"/>
<rect x="157.5" y="221.2" width="33.4" height="34" fill="none" stroke="#222" stroke-width="0.8"/>
<line x1="156" y1="228" x2="157.5" y2="228" stroke="#222" stroke-width="0.5"/>
<text x="154.6" y="229.5" font-size="4.3" fill="#333" text-anchor="end">1.5K</text>
<line x1="156" y1="237" x2="157.5" y2="237" stroke="#222" stroke-width="0.5"/>
<text x="154.6" y="238.5" font-size="4.3" fill="#333" text-anchor="end">1.0K</text>
<line x1="156" y1="245.75" x2="157.5" y2="245.75" stroke="#222" stroke-width="0.5"/>
<text x="154.6" y="247.25" font-size="4.3" fill="#333" text-anchor="end">500</text>
<line x1="156" y1="254.5" x2="157.5" y2="254.5" stroke="#222" stroke-width="0.5"/>
<text x="154.6" y="256" font-size="4.3" fill="#333" text-anchor="end">0</text>
<line x1="159.5" y1="255.2" x2="159.5" y2="256.1" stroke="#222" stroke-width="0.4"/>
<line x1="161.95" y1="255.2" x2="161.95" y2="256.1" stroke="#222" stroke-width="0.4"/>
<line x1="164.4" y1="255.2" x2="164.4" y2="256.1" stroke="#222" stroke-width="0.4"/>
<line x1="166.85" y1="255.2" x2="166.85" y2="256.1" stroke="#222" stroke-width="0.4"/>
<line x1="169.3" y1="255.2" x2="169.3" y2="256.1" stroke="#222" stroke-width="0.4"/>
<line x1="171.75" y1="255.2" x2="171.75" y2="256.1" stroke="#222" stroke-width="0.4"/>
<line x1="174.2" y1="255.2" x2="174.2" y2="256.1" stroke="#222" stroke-width="0.4"/>
<line x1="176.65" y1="255.2" x2="176.65" y2="256.1" stroke="#222" stroke-width="0.4"/>
<line x1="179.1" y1="255.2" x2="179.1" y2="256.1" stroke="#222" stroke-width="0.4"/>
<line x1="181.55" y1="255.2" x2="181.55" y2="256.1" stroke="#222" stroke-width="0.4"/>
<line x1="184" y1="255.2" x2="184" y2="256.1" stroke="#222" stroke-width="0.4"/>
<line x1="186.45" y1="255.2" x2="186.45" y2="256.1" stroke="#222" stroke-width="0.4"/>
<line x1="188.9" y1="255.2" x2="188.9" y2="256.1" stroke="#222" stroke-width="0.4"/>
<text x="155.7" y="261.6" font-size="4.2" fill="#333">-10<tspan font-size="2.6" dy="-1.6">3</tspan></text>
<text x="164.8" y="261.6" font-size="4.2" fill="#333">0</text>
<text x="167.9" y="261.6" font-size="4.2" fill="#333">10<tspan font-size="2.6" dy="-1.6">3</tspan></text>
<text x="177.3" y="261.6" font-size="4.2" fill="#333">10<tspan font-size="2.6" dy="-1.6">4</tspan></text>
<text x="184.5" y="261.6" font-size="4.2" fill="#333">10<tspan font-size="2.6" dy="-1.6">5</tspan></text>
<line x1="176.25" y1="246.3" x2="191.5" y2="246.3" stroke="#666" stroke-width="0.55"/>
<text x="186" y="236.2" font-size="4.5" fill="#2a2a2a">75.0%</text>
<path d="M218.9 255.2C219.03 254.34 219.75 249.39 220 248C220.25 246.61 220.59 244.28 221 243.6C221.41 242.92 222.84 242.94 223.4 242.3C223.96 241.66 225.18 238.38 225.7 238.3C226.22 238.22 227.24 242 227.7 241.6C228.16 241.2 229.04 237.21 229.5 235C229.96 232.79 231.08 223.2 231.5 223.2C231.92 223.2 232.65 231.16 233 235C233.35 238.84 234.23 252.78 234.4 255.2L234.4 255.2Z" fill="#edcbc0" stroke="none"/>
<path d="M218.9 255.2C219.03 254.34 219.75 249.39 220 248C220.25 246.61 220.59 244.28 221 243.6C221.41 242.92 222.84 242.94 223.4 242.3C223.96 241.66 225.18 238.38 225.7 238.3C226.22 238.22 227.24 242 227.7 241.6C228.16 241.2 229.04 237.21 229.5 235C229.96 232.79 231.08 223.2 231.5 223.2C231.92 223.2 232.65 231.16 233 235C233.35 238.84 234.23 252.78 234.4 255.2" fill="none" stroke="#c43a58" stroke-width="0.9" stroke-linejoin="round"/>
<rect x="210.8" y="221.2" width="33.4" height="34" fill="none" stroke="#222" stroke-width="0.8"/>
<line x1="209.3" y1="226.2" x2="210.8" y2="226.2" stroke="#222" stroke-width="0.5"/>
<text x="207.9" y="227.7" font-size="4.3" fill="#333" text-anchor="end">4.0K</text>
<line x1="209.3" y1="233.1" x2="210.8" y2="233.1" stroke="#222" stroke-width="0.5"/>
<text x="207.9" y="234.6" font-size="4.3" fill="#333" text-anchor="end">3.0K</text>
<line x1="209.3" y1="240.3" x2="210.8" y2="240.3" stroke="#222" stroke-width="0.5"/>
<text x="207.9" y="241.8" font-size="4.3" fill="#333" text-anchor="end">2.0K</text>
<line x1="209.3" y1="247.4" x2="210.8" y2="247.4" stroke="#222" stroke-width="0.5"/>
<text x="207.9" y="248.9" font-size="4.3" fill="#333" text-anchor="end">1.0K</text>
<line x1="209.3" y1="254.4" x2="210.8" y2="254.4" stroke="#222" stroke-width="0.5"/>
<text x="207.9" y="255.9" font-size="4.3" fill="#333" text-anchor="end">0</text>
<line x1="212.8" y1="255.2" x2="212.8" y2="256.1" stroke="#222" stroke-width="0.4"/>
<line x1="215.25" y1="255.2" x2="215.25" y2="256.1" stroke="#222" stroke-width="0.4"/>
<line x1="217.7" y1="255.2" x2="217.7" y2="256.1" stroke="#222" stroke-width="0.4"/>
<line x1="220.15" y1="255.2" x2="220.15" y2="256.1" stroke="#222" stroke-width="0.4"/>
<line x1="222.6" y1="255.2" x2="222.6" y2="256.1" stroke="#222" stroke-width="0.4"/>
<line x1="225.05" y1="255.2" x2="225.05" y2="256.1" stroke="#222" stroke-width="0.4"/>
<line x1="227.5" y1="255.2" x2="227.5" y2="256.1" stroke="#222" stroke-width="0.4"/>
<line x1="229.95" y1="255.2" x2="229.95" y2="256.1" stroke="#222" stroke-width="0.4"/>
<line x1="232.4" y1="255.2" x2="232.4" y2="256.1" stroke="#222" stroke-width="0.4"/>
<line x1="234.85" y1="255.2" x2="234.85" y2="256.1" stroke="#222" stroke-width="0.4"/>
<line x1="237.3" y1="255.2" x2="237.3" y2="256.1" stroke="#222" stroke-width="0.4"/>
<line x1="239.75" y1="255.2" x2="239.75" y2="256.1" stroke="#222" stroke-width="0.4"/>
<line x1="242.2" y1="255.2" x2="242.2" y2="256.1" stroke="#222" stroke-width="0.4"/>
<text x="209" y="261.6" font-size="4.2" fill="#333">-10<tspan font-size="2.6" dy="-1.6">3</tspan></text>
<text x="218.1" y="261.6" font-size="4.2" fill="#333">0</text>
<text x="221.2" y="261.6" font-size="4.2" fill="#333">10<tspan font-size="2.6" dy="-1.6">3</tspan></text>
<text x="230.6" y="261.6" font-size="4.2" fill="#333">10<tspan font-size="2.6" dy="-1.6">4</tspan></text>
<text x="237.8" y="261.6" font-size="4.2" fill="#333">10<tspan font-size="2.6" dy="-1.6">5</tspan></text>
<line x1="227.4" y1="246.3" x2="244.8" y2="246.3" stroke="#666" stroke-width="0.55"/>
<text x="233.7" y="234" font-size="4.5" fill="#2a2a2a">55.3%</text>
<path d="M60.75 304.2C60.83 302.74 61.25 294.45 61.4 292C61.55 289.55 61.63 284.28 62 283.8C62.37 283.32 63.84 286.96 64.5 288C65.16 289.04 66.84 292.86 67.5 292.5C68.16 292.14 69.4 287.4 70 285C70.6 282.6 72.02 272.5 72.5 272.5C72.98 272.5 73.64 281.2 74 285C74.36 288.8 75.32 301.9 75.5 304.2L75.5 304.2Z" fill="#edcbc0" stroke="none"/>
<path d="M60.75 304.2C60.83 302.74 61.25 294.45 61.4 292C61.55 289.55 61.63 284.28 62 283.8C62.37 283.32 63.84 286.96 64.5 288C65.16 289.04 66.84 292.86 67.5 292.5C68.16 292.14 69.4 287.4 70 285C70.6 282.6 72.02 272.5 72.5 272.5C72.98 272.5 73.64 281.2 74 285C74.36 288.8 75.32 301.9 75.5 304.2" fill="none" stroke="#c43a58" stroke-width="0.9" stroke-linejoin="round"/>
<rect x="52.3" y="270.2" width="33.4" height="34" fill="none" stroke="#222" stroke-width="0.8"/>
<line x1="50.8" y1="275" x2="52.3" y2="275" stroke="#222" stroke-width="0.5"/>
<text x="49.4" y="276.5" font-size="4.3" fill="#333" text-anchor="end">5.0K</text>
<line x1="50.8" y1="280.75" x2="52.3" y2="280.75" stroke="#222" stroke-width="0.5"/>
<text x="49.4" y="282.25" font-size="4.3" fill="#333" text-anchor="end">4.0K</text>
<line x1="50.8" y1="286.5" x2="52.3" y2="286.5" stroke="#222" stroke-width="0.5"/>
<text x="49.4" y="288" font-size="4.3" fill="#333" text-anchor="end">3.0K</text>
<line x1="50.8" y1="292" x2="52.3" y2="292" stroke="#222" stroke-width="0.5"/>
<text x="49.4" y="293.5" font-size="4.3" fill="#333" text-anchor="end">2.0K</text>
<line x1="50.8" y1="297.5" x2="52.3" y2="297.5" stroke="#222" stroke-width="0.5"/>
<text x="49.4" y="299" font-size="4.3" fill="#333" text-anchor="end">1.0K</text>
<line x1="50.8" y1="303.25" x2="52.3" y2="303.25" stroke="#222" stroke-width="0.5"/>
<text x="49.4" y="304.75" font-size="4.3" fill="#333" text-anchor="end">0</text>
<line x1="54.3" y1="304.2" x2="54.3" y2="305.1" stroke="#222" stroke-width="0.4"/>
<line x1="56.75" y1="304.2" x2="56.75" y2="305.1" stroke="#222" stroke-width="0.4"/>
<line x1="59.2" y1="304.2" x2="59.2" y2="305.1" stroke="#222" stroke-width="0.4"/>
<line x1="61.65" y1="304.2" x2="61.65" y2="305.1" stroke="#222" stroke-width="0.4"/>
<line x1="64.1" y1="304.2" x2="64.1" y2="305.1" stroke="#222" stroke-width="0.4"/>
<line x1="66.55" y1="304.2" x2="66.55" y2="305.1" stroke="#222" stroke-width="0.4"/>
<line x1="69" y1="304.2" x2="69" y2="305.1" stroke="#222" stroke-width="0.4"/>
<line x1="71.45" y1="304.2" x2="71.45" y2="305.1" stroke="#222" stroke-width="0.4"/>
<line x1="73.9" y1="304.2" x2="73.9" y2="305.1" stroke="#222" stroke-width="0.4"/>
<line x1="76.35" y1="304.2" x2="76.35" y2="305.1" stroke="#222" stroke-width="0.4"/>
<line x1="78.8" y1="304.2" x2="78.8" y2="305.1" stroke="#222" stroke-width="0.4"/>
<line x1="81.25" y1="304.2" x2="81.25" y2="305.1" stroke="#222" stroke-width="0.4"/>
<line x1="83.7" y1="304.2" x2="83.7" y2="305.1" stroke="#222" stroke-width="0.4"/>
<text x="50.5" y="310.6" font-size="4.2" fill="#333">-10<tspan font-size="2.6" dy="-1.6">3</tspan></text>
<text x="59.6" y="310.6" font-size="4.2" fill="#333">0</text>
<text x="62.7" y="310.6" font-size="4.2" fill="#333">10<tspan font-size="2.6" dy="-1.6">3</tspan></text>
<text x="72.1" y="310.6" font-size="4.2" fill="#333">10<tspan font-size="2.6" dy="-1.6">4</tspan></text>
<text x="79.3" y="310.6" font-size="4.2" fill="#333">10<tspan font-size="2.6" dy="-1.6">5</tspan></text>
<line x1="67.5" y1="295" x2="86.3" y2="295" stroke="#666" stroke-width="0.55"/>
<text x="75" y="284.8" font-size="4.5" fill="#2a2a2a">54.8%</text>
<path d="M112 304.2C112.1 303.46 112.65 299.19 112.8 298C112.95 296.81 112.84 294.61 113.25 294.25C113.66 293.89 115.59 295.21 116.25 295C116.91 294.79 118.24 293.82 118.75 292.5C119.26 291.18 120.11 286.46 120.5 284C120.89 281.54 121.64 271.88 122 272C122.36 272.12 123.14 281.14 123.5 285C123.86 288.86 124.82 301.9 125 304.2L125 304.2Z" fill="#edcbc0" stroke="none"/>
<path d="M112 304.2C112.1 303.46 112.65 299.19 112.8 298C112.95 296.81 112.84 294.61 113.25 294.25C113.66 293.89 115.59 295.21 116.25 295C116.91 294.79 118.24 293.82 118.75 292.5C119.26 291.18 120.11 286.46 120.5 284C120.89 281.54 121.64 271.88 122 272C122.36 272.12 123.14 281.14 123.5 285C123.86 288.86 124.82 301.9 125 304.2" fill="none" stroke="#c43a58" stroke-width="0.9" stroke-linejoin="round"/>
<rect x="103.8" y="270.2" width="33.4" height="34" fill="none" stroke="#222" stroke-width="0.8"/>
<line x1="102.3" y1="274.5" x2="103.8" y2="274.5" stroke="#222" stroke-width="0.5"/>
<text x="100.9" y="276" font-size="4.3" fill="#333" text-anchor="end">5.0K</text>
<line x1="102.3" y1="280" x2="103.8" y2="280" stroke="#222" stroke-width="0.5"/>
<text x="100.9" y="281.5" font-size="4.3" fill="#333" text-anchor="end">4.0K</text>
<line x1="102.3" y1="285.75" x2="103.8" y2="285.75" stroke="#222" stroke-width="0.5"/>
<text x="100.9" y="287.25" font-size="4.3" fill="#333" text-anchor="end">3.0K</text>
<line x1="102.3" y1="291.75" x2="103.8" y2="291.75" stroke="#222" stroke-width="0.5"/>
<text x="100.9" y="293.25" font-size="4.3" fill="#333" text-anchor="end">2.0K</text>
<line x1="102.3" y1="297.5" x2="103.8" y2="297.5" stroke="#222" stroke-width="0.5"/>
<text x="100.9" y="299" font-size="4.3" fill="#333" text-anchor="end">1.0K</text>
<line x1="102.3" y1="303" x2="103.8" y2="303" stroke="#222" stroke-width="0.5"/>
<text x="100.9" y="304.5" font-size="4.3" fill="#333" text-anchor="end">0</text>
<line x1="105.8" y1="304.2" x2="105.8" y2="305.1" stroke="#222" stroke-width="0.4"/>
<line x1="108.25" y1="304.2" x2="108.25" y2="305.1" stroke="#222" stroke-width="0.4"/>
<line x1="110.7" y1="304.2" x2="110.7" y2="305.1" stroke="#222" stroke-width="0.4"/>
<line x1="113.15" y1="304.2" x2="113.15" y2="305.1" stroke="#222" stroke-width="0.4"/>
<line x1="115.6" y1="304.2" x2="115.6" y2="305.1" stroke="#222" stroke-width="0.4"/>
<line x1="118.05" y1="304.2" x2="118.05" y2="305.1" stroke="#222" stroke-width="0.4"/>
<line x1="120.5" y1="304.2" x2="120.5" y2="305.1" stroke="#222" stroke-width="0.4"/>
<line x1="122.95" y1="304.2" x2="122.95" y2="305.1" stroke="#222" stroke-width="0.4"/>
<line x1="125.4" y1="304.2" x2="125.4" y2="305.1" stroke="#222" stroke-width="0.4"/>
<line x1="127.85" y1="304.2" x2="127.85" y2="305.1" stroke="#222" stroke-width="0.4"/>
<line x1="130.3" y1="304.2" x2="130.3" y2="305.1" stroke="#222" stroke-width="0.4"/>
<line x1="132.75" y1="304.2" x2="132.75" y2="305.1" stroke="#222" stroke-width="0.4"/>
<line x1="135.2" y1="304.2" x2="135.2" y2="305.1" stroke="#222" stroke-width="0.4"/>
<text x="102" y="310.6" font-size="4.2" fill="#333">-10<tspan font-size="2.6" dy="-1.6">3</tspan></text>
<text x="111.1" y="310.6" font-size="4.2" fill="#333">0</text>
<text x="114.2" y="310.6" font-size="4.2" fill="#333">10<tspan font-size="2.6" dy="-1.6">3</tspan></text>
<text x="123.6" y="310.6" font-size="4.2" fill="#333">10<tspan font-size="2.6" dy="-1.6">4</tspan></text>
<text x="130.8" y="310.6" font-size="4.2" fill="#333">10<tspan font-size="2.6" dy="-1.6">5</tspan></text>
<line x1="117.5" y1="295" x2="137.8" y2="295" stroke="#666" stroke-width="0.55"/>
<text x="125" y="283.5" font-size="4.5" fill="#2a2a2a">73.9%</text>
<path d="M165.5 304.2C165.89 303.55 168.09 299.73 168.75 298.75C169.41 297.77 170.4 296.75 171 296C171.6 295.25 173.12 293.37 173.75 292.5C174.38 291.63 175.8 290.25 176.25 288.75C176.7 287.25 177.26 282.01 177.5 280C177.74 277.99 177.97 271.4 178.25 272C178.53 272.6 179.44 281.14 179.8 285C180.16 288.86 181.08 301.9 181.25 304.2L181.25 304.2Z" fill="#edcbc0" stroke="none"/>
<path d="M165.5 304.2C165.89 303.55 168.09 299.73 168.75 298.75C169.41 297.77 170.4 296.75 171 296C171.6 295.25 173.12 293.37 173.75 292.5C174.38 291.63 175.8 290.25 176.25 288.75C176.7 287.25 177.26 282.01 177.5 280C177.74 277.99 177.97 271.4 178.25 272C178.53 272.6 179.44 281.14 179.8 285C180.16 288.86 181.08 301.9 181.25 304.2" fill="none" stroke="#c43a58" stroke-width="0.9" stroke-linejoin="round"/>
<rect x="157.5" y="270.2" width="33.4" height="34" fill="none" stroke="#222" stroke-width="0.8"/>
<line x1="156" y1="274.5" x2="157.5" y2="274.5" stroke="#222" stroke-width="0.5"/>
<text x="154.6" y="276" font-size="4.3" fill="#333" text-anchor="end">5.0K</text>
<line x1="156" y1="280" x2="157.5" y2="280" stroke="#222" stroke-width="0.5"/>
<text x="154.6" y="281.5" font-size="4.3" fill="#333" text-anchor="end">4.0K</text>
<line x1="156" y1="285.75" x2="157.5" y2="285.75" stroke="#222" stroke-width="0.5"/>
<text x="154.6" y="287.25" font-size="4.3" fill="#333" text-anchor="end">3.0K</text>
<line x1="156" y1="291.75" x2="157.5" y2="291.75" stroke="#222" stroke-width="0.5"/>
<text x="154.6" y="293.25" font-size="4.3" fill="#333" text-anchor="end">2.0K</text>
<line x1="156" y1="297.5" x2="157.5" y2="297.5" stroke="#222" stroke-width="0.5"/>
<text x="154.6" y="299" font-size="4.3" fill="#333" text-anchor="end">1.0K</text>
<line x1="156" y1="303" x2="157.5" y2="303" stroke="#222" stroke-width="0.5"/>
<text x="154.6" y="304.5" font-size="4.3" fill="#333" text-anchor="end">0</text>
<line x1="159.5" y1="304.2" x2="159.5" y2="305.1" stroke="#222" stroke-width="0.4"/>
<line x1="161.95" y1="304.2" x2="161.95" y2="305.1" stroke="#222" stroke-width="0.4"/>
<line x1="164.4" y1="304.2" x2="164.4" y2="305.1" stroke="#222" stroke-width="0.4"/>
<line x1="166.85" y1="304.2" x2="166.85" y2="305.1" stroke="#222" stroke-width="0.4"/>
<line x1="169.3" y1="304.2" x2="169.3" y2="305.1" stroke="#222" stroke-width="0.4"/>
<line x1="171.75" y1="304.2" x2="171.75" y2="305.1" stroke="#222" stroke-width="0.4"/>
<line x1="174.2" y1="304.2" x2="174.2" y2="305.1" stroke="#222" stroke-width="0.4"/>
<line x1="176.65" y1="304.2" x2="176.65" y2="305.1" stroke="#222" stroke-width="0.4"/>
<line x1="179.1" y1="304.2" x2="179.1" y2="305.1" stroke="#222" stroke-width="0.4"/>
<line x1="181.55" y1="304.2" x2="181.55" y2="305.1" stroke="#222" stroke-width="0.4"/>
<line x1="184" y1="304.2" x2="184" y2="305.1" stroke="#222" stroke-width="0.4"/>
<line x1="186.45" y1="304.2" x2="186.45" y2="305.1" stroke="#222" stroke-width="0.4"/>
<line x1="188.9" y1="304.2" x2="188.9" y2="305.1" stroke="#222" stroke-width="0.4"/>
<text x="155.7" y="310.6" font-size="4.2" fill="#333">-10<tspan font-size="2.6" dy="-1.6">3</tspan></text>
<text x="164.8" y="310.6" font-size="4.2" fill="#333">0</text>
<text x="167.9" y="310.6" font-size="4.2" fill="#333">10<tspan font-size="2.6" dy="-1.6">3</tspan></text>
<text x="177.3" y="310.6" font-size="4.2" fill="#333">10<tspan font-size="2.6" dy="-1.6">4</tspan></text>
<text x="184.5" y="310.6" font-size="4.2" fill="#333">10<tspan font-size="2.6" dy="-1.6">5</tspan></text>
<line x1="173.75" y1="295" x2="191.5" y2="295" stroke="#666" stroke-width="0.55"/>
<text x="181.3" y="283" font-size="4.5" fill="#2a2a2a">69.4%</text>
<path d="M218.9 304.2C219.01 303.22 219.58 297.67 219.8 296C220.02 294.33 220.32 291.04 220.7 290.3C221.08 289.56 222.45 289.92 223 289.8C223.55 289.68 224.58 288.92 225.3 289.3C226.02 289.68 228.29 293.76 229 293C229.71 292.24 230.72 285.51 231.2 283C231.68 280.49 232.57 271.86 233 272.1C233.43 272.34 234.39 281.15 234.8 285C235.21 288.85 236.21 301.9 236.4 304.2L236.4 304.2Z" fill="#edcbc0" stroke="none"/>
<path d="M218.9 304.2C219.01 303.22 219.58 297.67 219.8 296C220.02 294.33 220.32 291.04 220.7 290.3C221.08 289.56 222.45 289.92 223 289.8C223.55 289.68 224.58 288.92 225.3 289.3C226.02 289.68 228.29 293.76 229 293C229.71 292.24 230.72 285.51 231.2 283C231.68 280.49 232.57 271.86 233 272.1C233.43 272.34 234.39 281.15 234.8 285C235.21 288.85 236.21 301.9 236.4 304.2" fill="none" stroke="#c43a58" stroke-width="0.9" stroke-linejoin="round"/>
<rect x="210.8" y="270.2" width="33.4" height="34" fill="none" stroke="#222" stroke-width="0.8"/>
<line x1="209.3" y1="275.9" x2="210.8" y2="275.9" stroke="#222" stroke-width="0.5"/>
<text x="207.9" y="277.4" font-size="4.3" fill="#333" text-anchor="end">3.0K</text>
<line x1="209.3" y1="284.9" x2="210.8" y2="284.9" stroke="#222" stroke-width="0.5"/>
<text x="207.9" y="286.4" font-size="4.3" fill="#333" text-anchor="end">2.0K</text>
<line x1="209.3" y1="294.3" x2="210.8" y2="294.3" stroke="#222" stroke-width="0.5"/>
<text x="207.9" y="295.8" font-size="4.3" fill="#333" text-anchor="end">1.0K</text>
<line x1="209.3" y1="303.3" x2="210.8" y2="303.3" stroke="#222" stroke-width="0.5"/>
<text x="207.9" y="304.8" font-size="4.3" fill="#333" text-anchor="end">0</text>
<line x1="212.8" y1="304.2" x2="212.8" y2="305.1" stroke="#222" stroke-width="0.4"/>
<line x1="215.25" y1="304.2" x2="215.25" y2="305.1" stroke="#222" stroke-width="0.4"/>
<line x1="217.7" y1="304.2" x2="217.7" y2="305.1" stroke="#222" stroke-width="0.4"/>
<line x1="220.15" y1="304.2" x2="220.15" y2="305.1" stroke="#222" stroke-width="0.4"/>
<line x1="222.6" y1="304.2" x2="222.6" y2="305.1" stroke="#222" stroke-width="0.4"/>
<line x1="225.05" y1="304.2" x2="225.05" y2="305.1" stroke="#222" stroke-width="0.4"/>
<line x1="227.5" y1="304.2" x2="227.5" y2="305.1" stroke="#222" stroke-width="0.4"/>
<line x1="229.95" y1="304.2" x2="229.95" y2="305.1" stroke="#222" stroke-width="0.4"/>
<line x1="232.4" y1="304.2" x2="232.4" y2="305.1" stroke="#222" stroke-width="0.4"/>
<line x1="234.85" y1="304.2" x2="234.85" y2="305.1" stroke="#222" stroke-width="0.4"/>
<line x1="237.3" y1="304.2" x2="237.3" y2="305.1" stroke="#222" stroke-width="0.4"/>
<line x1="239.75" y1="304.2" x2="239.75" y2="305.1" stroke="#222" stroke-width="0.4"/>
<line x1="242.2" y1="304.2" x2="242.2" y2="305.1" stroke="#222" stroke-width="0.4"/>
<text x="209" y="310.6" font-size="4.2" fill="#333">-10<tspan font-size="2.6" dy="-1.6">3</tspan></text>
<text x="218.1" y="310.6" font-size="4.2" fill="#333">0</text>
<text x="221.2" y="310.6" font-size="4.2" fill="#333">10<tspan font-size="2.6" dy="-1.6">3</tspan></text>
<text x="230.6" y="310.6" font-size="4.2" fill="#333">10<tspan font-size="2.6" dy="-1.6">4</tspan></text>
<text x="237.8" y="310.6" font-size="4.2" fill="#333">10<tspan font-size="2.6" dy="-1.6">5</tspan></text>
<line x1="228.4" y1="294.7" x2="244.8" y2="294.7" stroke="#666" stroke-width="0.55"/>
<text x="235" y="281.2" font-size="4.5" fill="#2a2a2a">51.9%</text>
<path d="M319.25 204.3C319.4 202.58 320.2 193.96 320.5 190C320.8 186.04 321.39 171.9 321.75 171.3C322.11 170.7 322.96 181.74 323.5 185C324.04 188.26 325.47 196.6 326.25 198.5C327.03 200.4 328.95 200.55 330 200.8C331.05 201.05 334.04 200.76 335 200.6C335.96 200.44 337.34 199.06 338 199.5C338.66 199.94 340.2 203.72 340.5 204.3L340.5 203.8Z" fill="#edcbc0" stroke="none"/>
<path d="M319.25 204.3C319.4 202.58 320.2 193.96 320.5 190C320.8 186.04 321.39 171.9 321.75 171.3C322.11 170.7 322.96 181.74 323.5 185C324.04 188.26 325.47 196.6 326.25 198.5C327.03 200.4 328.95 200.55 330 200.8C331.05 201.05 334.04 200.76 335 200.6C335.96 200.44 337.34 199.06 338 199.5C338.66 199.94 340.2 203.72 340.5 204.3" fill="none" stroke="#c43a58" stroke-width="0.9" stroke-linejoin="round"/>
<rect x="309.3" y="169.5" width="34.7" height="34.3" fill="none" stroke="#222" stroke-width="0.8"/>
<line x1="307.8" y1="169.8" x2="309.3" y2="169.8" stroke="#222" stroke-width="0.5"/>
<text x="306.4" y="171.3" font-size="4.3" fill="#333" text-anchor="end">10K</text>
<line x1="307.8" y1="176.5" x2="309.3" y2="176.5" stroke="#222" stroke-width="0.5"/>
<text x="306.4" y="178" font-size="4.3" fill="#333" text-anchor="end">8.0K</text>
<line x1="307.8" y1="183.25" x2="309.3" y2="183.25" stroke="#222" stroke-width="0.5"/>
<text x="306.4" y="184.75" font-size="4.3" fill="#333" text-anchor="end">6.0K</text>
<line x1="307.8" y1="190.25" x2="309.3" y2="190.25" stroke="#222" stroke-width="0.5"/>
<text x="306.4" y="191.75" font-size="4.3" fill="#333" text-anchor="end">4.0K</text>
<line x1="307.8" y1="197" x2="309.3" y2="197" stroke="#222" stroke-width="0.5"/>
<text x="306.4" y="198.5" font-size="4.3" fill="#333" text-anchor="end">2.0K</text>
<line x1="307.8" y1="203.75" x2="309.3" y2="203.75" stroke="#222" stroke-width="0.5"/>
<text x="306.4" y="205.25" font-size="4.3" fill="#333" text-anchor="end">0</text>
<line x1="311.3" y1="203.8" x2="311.3" y2="204.7" stroke="#222" stroke-width="0.4"/>
<line x1="313.86" y1="203.8" x2="313.86" y2="204.7" stroke="#222" stroke-width="0.4"/>
<line x1="316.42" y1="203.8" x2="316.42" y2="204.7" stroke="#222" stroke-width="0.4"/>
<line x1="318.98" y1="203.8" x2="318.98" y2="204.7" stroke="#222" stroke-width="0.4"/>
<line x1="321.53" y1="203.8" x2="321.53" y2="204.7" stroke="#222" stroke-width="0.4"/>
<line x1="324.09" y1="203.8" x2="324.09" y2="204.7" stroke="#222" stroke-width="0.4"/>
<line x1="326.65" y1="203.8" x2="326.65" y2="204.7" stroke="#222" stroke-width="0.4"/>
<line x1="329.21" y1="203.8" x2="329.21" y2="204.7" stroke="#222" stroke-width="0.4"/>
<line x1="331.77" y1="203.8" x2="331.77" y2="204.7" stroke="#222" stroke-width="0.4"/>
<line x1="334.32" y1="203.8" x2="334.32" y2="204.7" stroke="#222" stroke-width="0.4"/>
<line x1="336.88" y1="203.8" x2="336.88" y2="204.7" stroke="#222" stroke-width="0.4"/>
<line x1="339.44" y1="203.8" x2="339.44" y2="204.7" stroke="#222" stroke-width="0.4"/>
<line x1="342" y1="203.8" x2="342" y2="204.7" stroke="#222" stroke-width="0.4"/>
<text x="307.5" y="210.2" font-size="4.2" fill="#333">-10<tspan font-size="2.6" dy="-1.6">3</tspan></text>
<text x="316.6" y="210.2" font-size="4.2" fill="#333">0</text>
<text x="319.7" y="210.2" font-size="4.2" fill="#333">10<tspan font-size="2.6" dy="-1.6">3</tspan></text>
<text x="329.1" y="210.2" font-size="4.2" fill="#333">10<tspan font-size="2.6" dy="-1.6">4</tspan></text>
<text x="336.3" y="210.2" font-size="4.2" fill="#333">10<tspan font-size="2.6" dy="-1.6">5</tspan></text>
<line x1="328.75" y1="190.5" x2="342.5" y2="190.5" stroke="#666" stroke-width="0.55"/>
<line x1="328.75" y1="189.5" x2="328.75" y2="191.5" stroke="#555" stroke-width="0.5"/>
<line x1="342.5" y1="189.5" x2="342.5" y2="191.5" stroke="#555" stroke-width="0.5"/>
<text x="336" y="187.5" font-size="4.5" fill="#2a2a2a">17.8%</text>
<path d="M372.5 204.3C372.86 202.34 374.84 191.88 375.5 188C376.16 184.12 377.4 172.36 378 172C378.6 171.64 379.81 182.1 380.5 185C381.19 187.9 382.91 195.6 383.75 196.2C384.59 196.8 386.6 192.9 387.5 190C388.4 187.1 390.55 172.24 391.25 172C391.95 171.76 392.85 184.12 393.3 188C393.75 191.88 394.8 202.34 395 204.3L395 203.8Z" fill="#edcbc0" stroke="none"/>
<path d="M372.5 204.3C372.86 202.34 374.84 191.88 375.5 188C376.16 184.12 377.4 172.36 378 172C378.6 171.64 379.81 182.1 380.5 185C381.19 187.9 382.91 195.6 383.75 196.2C384.59 196.8 386.6 192.9 387.5 190C388.4 187.1 390.55 172.24 391.25 172C391.95 171.76 392.85 184.12 393.3 188C393.75 191.88 394.8 202.34 395 204.3" fill="none" stroke="#c43a58" stroke-width="0.9" stroke-linejoin="round"/>
<rect x="364.4" y="169.5" width="34.7" height="34.3" fill="none" stroke="#222" stroke-width="0.8"/>
<line x1="362.9" y1="172.5" x2="364.4" y2="172.5" stroke="#222" stroke-width="0.5"/>
<text x="361.5" y="174" font-size="4.3" fill="#333" text-anchor="end">3.0K</text>
<line x1="362.9" y1="183" x2="364.4" y2="183" stroke="#222" stroke-width="0.5"/>
<text x="361.5" y="184.5" font-size="4.3" fill="#333" text-anchor="end">2.0K</text>
<line x1="362.9" y1="193.25" x2="364.4" y2="193.25" stroke="#222" stroke-width="0.5"/>
<text x="361.5" y="194.75" font-size="4.3" fill="#333" text-anchor="end">1.0K</text>
<line x1="362.9" y1="203.75" x2="364.4" y2="203.75" stroke="#222" stroke-width="0.5"/>
<text x="361.5" y="205.25" font-size="4.3" fill="#333" text-anchor="end">0</text>
<line x1="366.4" y1="203.8" x2="366.4" y2="204.7" stroke="#222" stroke-width="0.4"/>
<line x1="368.96" y1="203.8" x2="368.96" y2="204.7" stroke="#222" stroke-width="0.4"/>
<line x1="371.52" y1="203.8" x2="371.52" y2="204.7" stroke="#222" stroke-width="0.4"/>
<line x1="374.07" y1="203.8" x2="374.07" y2="204.7" stroke="#222" stroke-width="0.4"/>
<line x1="376.63" y1="203.8" x2="376.63" y2="204.7" stroke="#222" stroke-width="0.4"/>
<line x1="379.19" y1="203.8" x2="379.19" y2="204.7" stroke="#222" stroke-width="0.4"/>
<line x1="381.75" y1="203.8" x2="381.75" y2="204.7" stroke="#222" stroke-width="0.4"/>
<line x1="384.31" y1="203.8" x2="384.31" y2="204.7" stroke="#222" stroke-width="0.4"/>
<line x1="386.87" y1="203.8" x2="386.87" y2="204.7" stroke="#222" stroke-width="0.4"/>
<line x1="389.42" y1="203.8" x2="389.42" y2="204.7" stroke="#222" stroke-width="0.4"/>
<line x1="391.98" y1="203.8" x2="391.98" y2="204.7" stroke="#222" stroke-width="0.4"/>
<line x1="394.54" y1="203.8" x2="394.54" y2="204.7" stroke="#222" stroke-width="0.4"/>
<line x1="397.1" y1="203.8" x2="397.1" y2="204.7" stroke="#222" stroke-width="0.4"/>
<text x="362.6" y="210.2" font-size="4.2" fill="#333">-10<tspan font-size="2.6" dy="-1.6">3</tspan></text>
<text x="371.7" y="210.2" font-size="4.2" fill="#333">0</text>
<text x="374.8" y="210.2" font-size="4.2" fill="#333">10<tspan font-size="2.6" dy="-1.6">3</tspan></text>
<text x="384.2" y="210.2" font-size="4.2" fill="#333">10<tspan font-size="2.6" dy="-1.6">4</tspan></text>
<text x="391.4" y="210.2" font-size="4.2" fill="#333">10<tspan font-size="2.6" dy="-1.6">5</tspan></text>
<line x1="385" y1="190.75" x2="398" y2="190.75" stroke="#666" stroke-width="0.55"/>
<text x="393" y="186.2" font-size="4.5" fill="#2a2a2a">43.7%</text>
<path d="M429.5 204.3C429.72 202.1 430.88 189.97 431.3 186C431.72 182.03 432.5 170.77 433 171.25C433.5 171.73 434.78 186.43 435.5 190C436.22 193.57 438.1 200.16 439 201C439.9 201.84 442.04 198.08 443 197C443.96 195.92 446.28 192 447 192C447.72 192 448.58 195.52 449 197C449.42 198.48 450.32 203.42 450.5 204.3L450.5 203.8Z" fill="#edcbc0" stroke="none"/>
<path d="M429.5 204.3C429.72 202.1 430.88 189.97 431.3 186C431.72 182.03 432.5 170.77 433 171.25C433.5 171.73 434.78 186.43 435.5 190C436.22 193.57 438.1 200.16 439 201C439.9 201.84 442.04 198.08 443 197C443.96 195.92 446.28 192 447 192C447.72 192 448.58 195.52 449 197C449.42 198.48 450.32 203.42 450.5 204.3" fill="none" stroke="#c43a58" stroke-width="0.9" stroke-linejoin="round"/>
<rect x="420" y="169.5" width="34.7" height="34.3" fill="none" stroke="#222" stroke-width="0.8"/>
<line x1="418.5" y1="171.25" x2="420" y2="171.25" stroke="#222" stroke-width="0.5"/>
<text x="417.1" y="172.75" font-size="4.3" fill="#333" text-anchor="end">5.0K</text>
<line x1="418.5" y1="178" x2="420" y2="178" stroke="#222" stroke-width="0.5"/>
<text x="417.1" y="179.5" font-size="4.3" fill="#333" text-anchor="end">4.0K</text>
<line x1="418.5" y1="184.5" x2="420" y2="184.5" stroke="#222" stroke-width="0.5"/>
<text x="417.1" y="186" font-size="4.3" fill="#333" text-anchor="end">3.0K</text>
<line x1="418.5" y1="191.25" x2="420" y2="191.25" stroke="#222" stroke-width="0.5"/>
<text x="417.1" y="192.75" font-size="4.3" fill="#333" text-anchor="end">2.0K</text>
<line x1="418.5" y1="197.5" x2="420" y2="197.5" stroke="#222" stroke-width="0.5"/>
<text x="417.1" y="199" font-size="4.3" fill="#333" text-anchor="end">1.0K</text>
<line x1="418.5" y1="203.75" x2="420" y2="203.75" stroke="#222" stroke-width="0.5"/>
<text x="417.1" y="205.25" font-size="4.3" fill="#333" text-anchor="end">0</text>
<line x1="422" y1="203.8" x2="422" y2="204.7" stroke="#222" stroke-width="0.4"/>
<line x1="424.56" y1="203.8" x2="424.56" y2="204.7" stroke="#222" stroke-width="0.4"/>
<line x1="427.12" y1="203.8" x2="427.12" y2="204.7" stroke="#222" stroke-width="0.4"/>
<line x1="429.68" y1="203.8" x2="429.68" y2="204.7" stroke="#222" stroke-width="0.4"/>
<line x1="432.23" y1="203.8" x2="432.23" y2="204.7" stroke="#222" stroke-width="0.4"/>
<line x1="434.79" y1="203.8" x2="434.79" y2="204.7" stroke="#222" stroke-width="0.4"/>
<line x1="437.35" y1="203.8" x2="437.35" y2="204.7" stroke="#222" stroke-width="0.4"/>
<line x1="439.91" y1="203.8" x2="439.91" y2="204.7" stroke="#222" stroke-width="0.4"/>
<line x1="442.47" y1="203.8" x2="442.47" y2="204.7" stroke="#222" stroke-width="0.4"/>
<line x1="445.02" y1="203.8" x2="445.02" y2="204.7" stroke="#222" stroke-width="0.4"/>
<line x1="447.58" y1="203.8" x2="447.58" y2="204.7" stroke="#222" stroke-width="0.4"/>
<line x1="450.14" y1="203.8" x2="450.14" y2="204.7" stroke="#222" stroke-width="0.4"/>
<line x1="452.7" y1="203.8" x2="452.7" y2="204.7" stroke="#222" stroke-width="0.4"/>
<text x="418.2" y="210.2" font-size="4.2" fill="#333">-10<tspan font-size="2.6" dy="-1.6">3</tspan></text>
<text x="427.3" y="210.2" font-size="4.2" fill="#333">0</text>
<text x="430.4" y="210.2" font-size="4.2" fill="#333">10<tspan font-size="2.6" dy="-1.6">3</tspan></text>
<text x="439.8" y="210.2" font-size="4.2" fill="#333">10<tspan font-size="2.6" dy="-1.6">4</tspan></text>
<text x="447" y="210.2" font-size="4.2" fill="#333">10<tspan font-size="2.6" dy="-1.6">5</tspan></text>
<line x1="440.5" y1="190.75" x2="453.75" y2="190.75" stroke="#666" stroke-width="0.55"/>
<text x="447.5" y="186.2" font-size="4.5" fill="#2a2a2a">32.6%</text>
<path d="M485 204.3C485.22 201.98 486.42 188.92 486.8 185C487.18 181.08 487.88 171.24 488.2 171.6C488.52 171.96 489.14 184.64 489.5 188C489.86 191.36 490.42 198.02 491.2 199.6C491.98 201.18 494.94 201.12 496 201.2C497.06 201.28 499.16 200.59 500 200.3C500.84 200.01 502.4 198.72 503 198.8C503.6 198.88 504.52 200.34 505 201C505.48 201.66 506.76 203.9 507 204.3L507 203.8Z" fill="#edcbc0" stroke="none"/>
<path d="M485 204.3C485.22 201.98 486.42 188.92 486.8 185C487.18 181.08 487.88 171.24 488.2 171.6C488.52 171.96 489.14 184.64 489.5 188C489.86 191.36 490.42 198.02 491.2 199.6C491.98 201.18 494.94 201.12 496 201.2C497.06 201.28 499.16 200.59 500 200.3C500.84 200.01 502.4 198.72 503 198.8C503.6 198.88 504.52 200.34 505 201C505.48 201.66 506.76 203.9 507 204.3" fill="none" stroke="#c43a58" stroke-width="0.9" stroke-linejoin="round"/>
<rect x="476.6" y="169.5" width="34.7" height="34.3" fill="none" stroke="#222" stroke-width="0.8"/>
<line x1="475.1" y1="176.8" x2="476.6" y2="176.8" stroke="#222" stroke-width="0.5"/>
<text x="473.7" y="178.3" font-size="4.3" fill="#333" text-anchor="end">6.0K</text>
<line x1="475.1" y1="185.8" x2="476.6" y2="185.8" stroke="#222" stroke-width="0.5"/>
<text x="473.7" y="187.3" font-size="4.3" fill="#333" text-anchor="end">4.0K</text>
<line x1="475.1" y1="194.7" x2="476.6" y2="194.7" stroke="#222" stroke-width="0.5"/>
<text x="473.7" y="196.2" font-size="4.3" fill="#333" text-anchor="end">2.0K</text>
<line x1="475.1" y1="204" x2="476.6" y2="204" stroke="#222" stroke-width="0.5"/>
<text x="473.7" y="205.5" font-size="4.3" fill="#333" text-anchor="end">0</text>
<line x1="478.6" y1="203.8" x2="478.6" y2="204.7" stroke="#222" stroke-width="0.4"/>
<line x1="481.16" y1="203.8" x2="481.16" y2="204.7" stroke="#222" stroke-width="0.4"/>
<line x1="483.72" y1="203.8" x2="483.72" y2="204.7" stroke="#222" stroke-width="0.4"/>
<line x1="486.28" y1="203.8" x2="486.28" y2="204.7" stroke="#222" stroke-width="0.4"/>
<line x1="488.83" y1="203.8" x2="488.83" y2="204.7" stroke="#222" stroke-width="0.4"/>
<line x1="491.39" y1="203.8" x2="491.39" y2="204.7" stroke="#222" stroke-width="0.4"/>
<line x1="493.95" y1="203.8" x2="493.95" y2="204.7" stroke="#222" stroke-width="0.4"/>
<line x1="496.51" y1="203.8" x2="496.51" y2="204.7" stroke="#222" stroke-width="0.4"/>
<line x1="499.07" y1="203.8" x2="499.07" y2="204.7" stroke="#222" stroke-width="0.4"/>
<line x1="501.62" y1="203.8" x2="501.62" y2="204.7" stroke="#222" stroke-width="0.4"/>
<line x1="504.18" y1="203.8" x2="504.18" y2="204.7" stroke="#222" stroke-width="0.4"/>
<line x1="506.74" y1="203.8" x2="506.74" y2="204.7" stroke="#222" stroke-width="0.4"/>
<line x1="509.3" y1="203.8" x2="509.3" y2="204.7" stroke="#222" stroke-width="0.4"/>
<text x="474.8" y="210.2" font-size="4.2" fill="#333">-10<tspan font-size="2.6" dy="-1.6">3</tspan></text>
<text x="483.9" y="210.2" font-size="4.2" fill="#333">0</text>
<text x="487" y="210.2" font-size="4.2" fill="#333">10<tspan font-size="2.6" dy="-1.6">3</tspan></text>
<text x="496.4" y="210.2" font-size="4.2" fill="#333">10<tspan font-size="2.6" dy="-1.6">4</tspan></text>
<text x="503.6" y="210.2" font-size="4.2" fill="#333">10<tspan font-size="2.6" dy="-1.6">5</tspan></text>
<line x1="496" y1="190.4" x2="510" y2="190.4" stroke="#666" stroke-width="0.55"/>
<line x1="496" y1="189.4" x2="496" y2="191.4" stroke="#555" stroke-width="0.5"/>
<line x1="510" y1="189.4" x2="510" y2="191.4" stroke="#555" stroke-width="0.5"/>
<text x="499" y="185.5" font-size="4.5" fill="#2a2a2a">23.4%</text>
<path d="M319.25 255C319.46 253.2 320.67 242.7 321 240C321.33 237.3 321.46 234.6 322 232.5C322.54 230.4 324.78 222.44 325.5 222.5C326.22 222.56 327.4 230.75 328 233C328.6 235.25 329.84 241.37 330.5 241.25C331.16 241.13 332.81 234.1 333.5 232C334.19 229.9 335.65 223.39 336.25 223.75C336.85 224.11 337.99 231.25 338.5 235C339.01 238.75 340.26 252.6 340.5 255L340.5 254.5Z" fill="#edcbc0" stroke="none"/>
<path d="M319.25 255C319.46 253.2 320.67 242.7 321 240C321.33 237.3 321.46 234.6 322 232.5C322.54 230.4 324.78 222.44 325.5 222.5C326.22 222.56 327.4 230.75 328 233C328.6 235.25 329.84 241.37 330.5 241.25C331.16 241.13 332.81 234.1 333.5 232C334.19 229.9 335.65 223.39 336.25 223.75C336.85 224.11 337.99 231.25 338.5 235C339.01 238.75 340.26 252.6 340.5 255" fill="none" stroke="#c43a58" stroke-width="0.9" stroke-linejoin="round"/>
<rect x="309.3" y="220.2" width="34.7" height="34.3" fill="none" stroke="#222" stroke-width="0.8"/>
<line x1="307.8" y1="220.75" x2="309.3" y2="220.75" stroke="#222" stroke-width="0.5"/>
<text x="306.4" y="222.25" font-size="4.3" fill="#333" text-anchor="end">2.5K</text>
<line x1="307.8" y1="227.5" x2="309.3" y2="227.5" stroke="#222" stroke-width="0.5"/>
<text x="306.4" y="229" font-size="4.3" fill="#333" text-anchor="end">2.0K</text>
<line x1="307.8" y1="234.5" x2="309.3" y2="234.5" stroke="#222" stroke-width="0.5"/>
<text x="306.4" y="236" font-size="4.3" fill="#333" text-anchor="end">1.5K</text>
<line x1="307.8" y1="241.25" x2="309.3" y2="241.25" stroke="#222" stroke-width="0.5"/>
<text x="306.4" y="242.75" font-size="4.3" fill="#333" text-anchor="end">1.0K</text>
<line x1="307.8" y1="248" x2="309.3" y2="248" stroke="#222" stroke-width="0.5"/>
<text x="306.4" y="249.5" font-size="4.3" fill="#333" text-anchor="end">500</text>
<line x1="307.8" y1="254.5" x2="309.3" y2="254.5" stroke="#222" stroke-width="0.5"/>
<text x="306.4" y="256" font-size="4.3" fill="#333" text-anchor="end">0</text>
<line x1="311.3" y1="254.5" x2="311.3" y2="255.4" stroke="#222" stroke-width="0.4"/>
<line x1="313.86" y1="254.5" x2="313.86" y2="255.4" stroke="#222" stroke-width="0.4"/>
<line x1="316.42" y1="254.5" x2="316.42" y2="255.4" stroke="#222" stroke-width="0.4"/>
<line x1="318.98" y1="254.5" x2="318.98" y2="255.4" stroke="#222" stroke-width="0.4"/>
<line x1="321.53" y1="254.5" x2="321.53" y2="255.4" stroke="#222" stroke-width="0.4"/>
<line x1="324.09" y1="254.5" x2="324.09" y2="255.4" stroke="#222" stroke-width="0.4"/>
<line x1="326.65" y1="254.5" x2="326.65" y2="255.4" stroke="#222" stroke-width="0.4"/>
<line x1="329.21" y1="254.5" x2="329.21" y2="255.4" stroke="#222" stroke-width="0.4"/>
<line x1="331.77" y1="254.5" x2="331.77" y2="255.4" stroke="#222" stroke-width="0.4"/>
<line x1="334.32" y1="254.5" x2="334.32" y2="255.4" stroke="#222" stroke-width="0.4"/>
<line x1="336.88" y1="254.5" x2="336.88" y2="255.4" stroke="#222" stroke-width="0.4"/>
<line x1="339.44" y1="254.5" x2="339.44" y2="255.4" stroke="#222" stroke-width="0.4"/>
<line x1="342" y1="254.5" x2="342" y2="255.4" stroke="#222" stroke-width="0.4"/>
<text x="307.5" y="260.9" font-size="4.2" fill="#333">-10<tspan font-size="2.6" dy="-1.6">3</tspan></text>
<text x="316.6" y="260.9" font-size="4.2" fill="#333">0</text>
<text x="319.7" y="260.9" font-size="4.2" fill="#333">10<tspan font-size="2.6" dy="-1.6">3</tspan></text>
<text x="329.1" y="260.9" font-size="4.2" fill="#333">10<tspan font-size="2.6" dy="-1.6">4</tspan></text>
<text x="336.3" y="260.9" font-size="4.2" fill="#333">10<tspan font-size="2.6" dy="-1.6">5</tspan></text>
<line x1="331.25" y1="241.25" x2="342.5" y2="241.25" stroke="#666" stroke-width="0.55"/>
<line x1="331.25" y1="240.25" x2="331.25" y2="242.25" stroke="#555" stroke-width="0.5"/>
<line x1="342.5" y1="240.25" x2="342.5" y2="242.25" stroke="#555" stroke-width="0.5"/>
<text x="338.75" y="236.9" font-size="4.5" fill="#2a2a2a">46.5%</text>
<path d="M373.25 255C373.46 253.56 374.64 245.04 375 243C375.36 240.96 375.83 238.12 376.25 238C376.67 237.88 377.9 241.31 378.5 242C379.1 242.69 380.47 243.99 381.25 243.75C382.03 243.51 384.19 241.65 385 240C385.81 238.35 387.4 232.16 388 230C388.6 227.84 389.52 221.76 390 222C390.48 222.24 391.55 228.04 392 232C392.45 235.96 393.54 252.24 393.75 255L393.75 254.5Z" fill="#edcbc0" stroke="none"/>
<path d="M373.25 255C373.46 253.56 374.64 245.04 375 243C375.36 240.96 375.83 238.12 376.25 238C376.67 237.88 377.9 241.31 378.5 242C379.1 242.69 380.47 243.99 381.25 243.75C382.03 243.51 384.19 241.65 385 240C385.81 238.35 387.4 232.16 388 230C388.6 227.84 389.52 221.76 390 222C390.48 222.24 391.55 228.04 392 232C392.45 235.96 393.54 252.24 393.75 255" fill="none" stroke="#c43a58" stroke-width="0.9" stroke-linejoin="round"/>
<rect x="364.4" y="220.2" width="34.7" height="34.3" fill="none" stroke="#222" stroke-width="0.8"/>
<line x1="362.9" y1="227.5" x2="364.4" y2="227.5" stroke="#222" stroke-width="0.5"/>
<text x="361.5" y="229" font-size="4.3" fill="#333" text-anchor="end">3.0K</text>
<line x1="362.9" y1="236.25" x2="364.4" y2="236.25" stroke="#222" stroke-width="0.5"/>
<text x="361.5" y="237.75" font-size="4.3" fill="#333" text-anchor="end">2.0K</text>
<line x1="362.9" y1="245.5" x2="364.4" y2="245.5" stroke="#222" stroke-width="0.5"/>
<text x="361.5" y="247" font-size="4.3" fill="#333" text-anchor="end">1.0K</text>
<line x1="362.9" y1="254.5" x2="364.4" y2="254.5" stroke="#222" stroke-width="0.5"/>
<text x="361.5" y="256" font-size="4.3" fill="#333" text-anchor="end">0</text>
<line x1="366.4" y1="254.5" x2="366.4" y2="255.4" stroke="#222" stroke-width="0.4"/>
<line x1="368.96" y1="254.5" x2="368.96" y2="255.4" stroke="#222" stroke-width="0.4"/>
<line x1="371.52" y1="254.5" x2="371.52" y2="255.4" stroke="#222" stroke-width="0.4"/>
<line x1="374.07" y1="254.5" x2="374.07" y2="255.4" stroke="#222" stroke-width="0.4"/>
<line x1="376.63" y1="254.5" x2="376.63" y2="255.4" stroke="#222" stroke-width="0.4"/>
<line x1="379.19" y1="254.5" x2="379.19" y2="255.4" stroke="#222" stroke-width="0.4"/>
<line x1="381.75" y1="254.5" x2="381.75" y2="255.4" stroke="#222" stroke-width="0.4"/>
<line x1="384.31" y1="254.5" x2="384.31" y2="255.4" stroke="#222" stroke-width="0.4"/>
<line x1="386.87" y1="254.5" x2="386.87" y2="255.4" stroke="#222" stroke-width="0.4"/>
<line x1="389.42" y1="254.5" x2="389.42" y2="255.4" stroke="#222" stroke-width="0.4"/>
<line x1="391.98" y1="254.5" x2="391.98" y2="255.4" stroke="#222" stroke-width="0.4"/>
<line x1="394.54" y1="254.5" x2="394.54" y2="255.4" stroke="#222" stroke-width="0.4"/>
<line x1="397.1" y1="254.5" x2="397.1" y2="255.4" stroke="#222" stroke-width="0.4"/>
<text x="362.6" y="260.9" font-size="4.2" fill="#333">-10<tspan font-size="2.6" dy="-1.6">3</tspan></text>
<text x="371.7" y="260.9" font-size="4.2" fill="#333">0</text>
<text x="374.8" y="260.9" font-size="4.2" fill="#333">10<tspan font-size="2.6" dy="-1.6">3</tspan></text>
<text x="384.2" y="260.9" font-size="4.2" fill="#333">10<tspan font-size="2.6" dy="-1.6">4</tspan></text>
<text x="391.4" y="260.9" font-size="4.2" fill="#333">10<tspan font-size="2.6" dy="-1.6">5</tspan></text>
<line x1="385" y1="241.25" x2="398" y2="241.25" stroke="#666" stroke-width="0.55"/>
<text x="391" y="236.2" font-size="4.5" fill="#2a2a2a">50.7%</text>
<path d="M429.5 255C429.68 253.2 430.7 242.94 431 240C431.3 237.06 431.58 230.74 432 230.5C432.42 230.26 433.84 236.62 434.5 238C435.16 239.38 436.72 242.12 437.5 242C438.28 241.88 440.28 238.8 441 237C441.72 235.2 443.02 228.74 443.5 227C443.98 225.26 444.52 221.78 445 222.5C445.48 223.22 446.9 229.1 447.5 233C448.1 236.9 449.7 252.36 450 255L450 254.5Z" fill="#edcbc0" stroke="none"/>
<path d="M429.5 255C429.68 253.2 430.7 242.94 431 240C431.3 237.06 431.58 230.74 432 230.5C432.42 230.26 433.84 236.62 434.5 238C435.16 239.38 436.72 242.12 437.5 242C438.28 241.88 440.28 238.8 441 237C441.72 235.2 443.02 228.74 443.5 227C443.98 225.26 444.52 221.78 445 222.5C445.48 223.22 446.9 229.1 447.5 233C448.1 236.9 449.7 252.36 450 255" fill="none" stroke="#c43a58" stroke-width="0.9" stroke-linejoin="round"/>
<rect x="420" y="220.2" width="34.7" height="34.3" fill="none" stroke="#222" stroke-width="0.8"/>
<line x1="418.5" y1="222.5" x2="420" y2="222.5" stroke="#222" stroke-width="0.5"/>
<text x="417.1" y="224" font-size="4.3" fill="#333" text-anchor="end">3.0K</text>
<line x1="418.5" y1="233.75" x2="420" y2="233.75" stroke="#222" stroke-width="0.5"/>
<text x="417.1" y="235.25" font-size="4.3" fill="#333" text-anchor="end">2.0K</text>
<line x1="418.5" y1="244.5" x2="420" y2="244.5" stroke="#222" stroke-width="0.5"/>
<text x="417.1" y="246" font-size="4.3" fill="#333" text-anchor="end">1.0K</text>
<line x1="418.5" y1="254.5" x2="420" y2="254.5" stroke="#222" stroke-width="0.5"/>
<text x="417.1" y="256" font-size="4.3" fill="#333" text-anchor="end">0</text>
<line x1="422" y1="254.5" x2="422" y2="255.4" stroke="#222" stroke-width="0.4"/>
<line x1="424.56" y1="254.5" x2="424.56" y2="255.4" stroke="#222" stroke-width="0.4"/>
<line x1="427.12" y1="254.5" x2="427.12" y2="255.4" stroke="#222" stroke-width="0.4"/>
<line x1="429.68" y1="254.5" x2="429.68" y2="255.4" stroke="#222" stroke-width="0.4"/>
<line x1="432.23" y1="254.5" x2="432.23" y2="255.4" stroke="#222" stroke-width="0.4"/>
<line x1="434.79" y1="254.5" x2="434.79" y2="255.4" stroke="#222" stroke-width="0.4"/>
<line x1="437.35" y1="254.5" x2="437.35" y2="255.4" stroke="#222" stroke-width="0.4"/>
<line x1="439.91" y1="254.5" x2="439.91" y2="255.4" stroke="#222" stroke-width="0.4"/>
<line x1="442.47" y1="254.5" x2="442.47" y2="255.4" stroke="#222" stroke-width="0.4"/>
<line x1="445.02" y1="254.5" x2="445.02" y2="255.4" stroke="#222" stroke-width="0.4"/>
<line x1="447.58" y1="254.5" x2="447.58" y2="255.4" stroke="#222" stroke-width="0.4"/>
<line x1="450.14" y1="254.5" x2="450.14" y2="255.4" stroke="#222" stroke-width="0.4"/>
<line x1="452.7" y1="254.5" x2="452.7" y2="255.4" stroke="#222" stroke-width="0.4"/>
<text x="418.2" y="260.9" font-size="4.2" fill="#333">-10<tspan font-size="2.6" dy="-1.6">3</tspan></text>
<text x="427.3" y="260.9" font-size="4.2" fill="#333">0</text>
<text x="430.4" y="260.9" font-size="4.2" fill="#333">10<tspan font-size="2.6" dy="-1.6">3</tspan></text>
<text x="439.8" y="260.9" font-size="4.2" fill="#333">10<tspan font-size="2.6" dy="-1.6">4</tspan></text>
<text x="447" y="260.9" font-size="4.2" fill="#333">10<tspan font-size="2.6" dy="-1.6">5</tspan></text>
<line x1="440" y1="241.25" x2="453.75" y2="241.25" stroke="#666" stroke-width="0.55"/>
<text x="447.5" y="235.7" font-size="4.5" fill="#2a2a2a">52.5%</text>
<path d="M485 255C485.14 252.72 485.91 239.89 486.2 236C486.49 232.11 486.94 223.32 487.4 222.6C487.86 221.88 489.33 228.03 490 230C490.67 231.97 492.32 237.25 493 239C493.68 240.75 495.04 244.96 495.7 244.6C496.36 244.24 497.8 237.85 498.5 236C499.2 234.15 500.84 229.2 501.5 229.2C502.16 229.2 503.34 232.9 504 236C504.66 239.1 506.64 252.72 507 255L507 254.5Z" fill="#edcbc0" stroke="none"/>
<path d="M485 255C485.14 252.72 485.91 239.89 486.2 236C486.49 232.11 486.94 223.32 487.4 222.6C487.86 221.88 489.33 228.03 490 230C490.67 231.97 492.32 237.25 493 239C493.68 240.75 495.04 244.96 495.7 244.6C496.36 244.24 497.8 237.85 498.5 236C499.2 234.15 500.84 229.2 501.5 229.2C502.16 229.2 503.34 232.9 504 236C504.66 239.1 506.64 252.72 507 255" fill="none" stroke="#c43a58" stroke-width="0.9" stroke-linejoin="round"/>
<rect x="476.6" y="220.2" width="34.7" height="34.3" fill="none" stroke="#222" stroke-width="0.8"/>
<line x1="475.1" y1="221.5" x2="476.6" y2="221.5" stroke="#222" stroke-width="0.5"/>
<text x="473.7" y="223" font-size="4.3" fill="#333" text-anchor="end">3.0K</text>
<line x1="475.1" y1="232.8" x2="476.6" y2="232.8" stroke="#222" stroke-width="0.5"/>
<text x="473.7" y="234.3" font-size="4.3" fill="#333" text-anchor="end">2.0K</text>
<line x1="475.1" y1="243.5" x2="476.6" y2="243.5" stroke="#222" stroke-width="0.5"/>
<text x="473.7" y="245" font-size="4.3" fill="#333" text-anchor="end">1.0K</text>
<line x1="475.1" y1="254.6" x2="476.6" y2="254.6" stroke="#222" stroke-width="0.5"/>
<text x="473.7" y="256.1" font-size="4.3" fill="#333" text-anchor="end">0</text>
<line x1="478.6" y1="254.5" x2="478.6" y2="255.4" stroke="#222" stroke-width="0.4"/>
<line x1="481.16" y1="254.5" x2="481.16" y2="255.4" stroke="#222" stroke-width="0.4"/>
<line x1="483.72" y1="254.5" x2="483.72" y2="255.4" stroke="#222" stroke-width="0.4"/>
<line x1="486.28" y1="254.5" x2="486.28" y2="255.4" stroke="#222" stroke-width="0.4"/>
<line x1="488.83" y1="254.5" x2="488.83" y2="255.4" stroke="#222" stroke-width="0.4"/>
<line x1="491.39" y1="254.5" x2="491.39" y2="255.4" stroke="#222" stroke-width="0.4"/>
<line x1="493.95" y1="254.5" x2="493.95" y2="255.4" stroke="#222" stroke-width="0.4"/>
<line x1="496.51" y1="254.5" x2="496.51" y2="255.4" stroke="#222" stroke-width="0.4"/>
<line x1="499.07" y1="254.5" x2="499.07" y2="255.4" stroke="#222" stroke-width="0.4"/>
<line x1="501.62" y1="254.5" x2="501.62" y2="255.4" stroke="#222" stroke-width="0.4"/>
<line x1="504.18" y1="254.5" x2="504.18" y2="255.4" stroke="#222" stroke-width="0.4"/>
<line x1="506.74" y1="254.5" x2="506.74" y2="255.4" stroke="#222" stroke-width="0.4"/>
<line x1="509.3" y1="254.5" x2="509.3" y2="255.4" stroke="#222" stroke-width="0.4"/>
<text x="474.8" y="260.9" font-size="4.2" fill="#333">-10<tspan font-size="2.6" dy="-1.6">3</tspan></text>
<text x="483.9" y="260.9" font-size="4.2" fill="#333">0</text>
<text x="487" y="260.9" font-size="4.2" fill="#333">10<tspan font-size="2.6" dy="-1.6">3</tspan></text>
<text x="496.4" y="260.9" font-size="4.2" fill="#333">10<tspan font-size="2.6" dy="-1.6">4</tspan></text>
<text x="503.6" y="260.9" font-size="4.2" fill="#333">10<tspan font-size="2.6" dy="-1.6">5</tspan></text>
<line x1="496.6" y1="241.2" x2="510" y2="241.2" stroke="#666" stroke-width="0.55"/>
<text x="499" y="234.7" font-size="4.5" fill="#2a2a2a">48.1%</text>
<path d="M319.25 303.8C319.46 301.54 320.52 288.91 321 285C321.48 281.09 322.65 271.61 323.25 271.25C323.85 270.89 325.25 279.6 326 282C326.75 284.4 328.72 290.65 329.5 291.25C330.28 291.85 331.78 288.35 332.5 287C333.22 285.65 334.84 279.88 335.5 280C336.16 280.12 337.46 285.14 338 288C338.54 290.86 339.76 301.9 340 303.8L340 303.6Z" fill="#edcbc0" stroke="none"/>
<path d="M319.25 303.8C319.46 301.54 320.52 288.91 321 285C321.48 281.09 322.65 271.61 323.25 271.25C323.85 270.89 325.25 279.6 326 282C326.75 284.4 328.72 290.65 329.5 291.25C330.28 291.85 331.78 288.35 332.5 287C333.22 285.65 334.84 279.88 335.5 280C336.16 280.12 337.46 285.14 338 288C338.54 290.86 339.76 301.9 340 303.8" fill="none" stroke="#c43a58" stroke-width="0.9" stroke-linejoin="round"/>
<rect x="309.3" y="269.3" width="34.7" height="34.3" fill="none" stroke="#222" stroke-width="0.8"/>
<line x1="307.8" y1="276.75" x2="309.3" y2="276.75" stroke="#222" stroke-width="0.5"/>
<text x="306.4" y="278.25" font-size="4.3" fill="#333" text-anchor="end">3.0K</text>
<line x1="307.8" y1="285.75" x2="309.3" y2="285.75" stroke="#222" stroke-width="0.5"/>
<text x="306.4" y="287.25" font-size="4.3" fill="#333" text-anchor="end">2.0K</text>
<line x1="307.8" y1="294.5" x2="309.3" y2="294.5" stroke="#222" stroke-width="0.5"/>
<text x="306.4" y="296" font-size="4.3" fill="#333" text-anchor="end">1.0K</text>
<line x1="307.8" y1="303" x2="309.3" y2="303" stroke="#222" stroke-width="0.5"/>
<text x="306.4" y="304.5" font-size="4.3" fill="#333" text-anchor="end">0</text>
<line x1="311.3" y1="303.6" x2="311.3" y2="304.5" stroke="#222" stroke-width="0.4"/>
<line x1="313.86" y1="303.6" x2="313.86" y2="304.5" stroke="#222" stroke-width="0.4"/>
<line x1="316.42" y1="303.6" x2="316.42" y2="304.5" stroke="#222" stroke-width="0.4"/>
<line x1="318.98" y1="303.6" x2="318.98" y2="304.5" stroke="#222" stroke-width="0.4"/>
<line x1="321.53" y1="303.6" x2="321.53" y2="304.5" stroke="#222" stroke-width="0.4"/>
<line x1="324.09" y1="303.6" x2="324.09" y2="304.5" stroke="#222" stroke-width="0.4"/>
<line x1="326.65" y1="303.6" x2="326.65" y2="304.5" stroke="#222" stroke-width="0.4"/>
<line x1="329.21" y1="303.6" x2="329.21" y2="304.5" stroke="#222" stroke-width="0.4"/>
<line x1="331.77" y1="303.6" x2="331.77" y2="304.5" stroke="#222" stroke-width="0.4"/>
<line x1="334.32" y1="303.6" x2="334.32" y2="304.5" stroke="#222" stroke-width="0.4"/>
<line x1="336.88" y1="303.6" x2="336.88" y2="304.5" stroke="#222" stroke-width="0.4"/>
<line x1="339.44" y1="303.6" x2="339.44" y2="304.5" stroke="#222" stroke-width="0.4"/>
<line x1="342" y1="303.6" x2="342" y2="304.5" stroke="#222" stroke-width="0.4"/>
<text x="307.5" y="310" font-size="4.2" fill="#333">-10<tspan font-size="2.6" dy="-1.6">3</tspan></text>
<text x="316.6" y="310" font-size="4.2" fill="#333">0</text>
<text x="319.7" y="310" font-size="4.2" fill="#333">10<tspan font-size="2.6" dy="-1.6">3</tspan></text>
<text x="329.1" y="310" font-size="4.2" fill="#333">10<tspan font-size="2.6" dy="-1.6">4</tspan></text>
<text x="336.3" y="310" font-size="4.2" fill="#333">10<tspan font-size="2.6" dy="-1.6">5</tspan></text>
<line x1="329.5" y1="290" x2="342.5" y2="290" stroke="#666" stroke-width="0.55"/>
<line x1="329.5" y1="289" x2="329.5" y2="291" stroke="#555" stroke-width="0.5"/>
<line x1="342.5" y1="289" x2="342.5" y2="291" stroke="#555" stroke-width="0.5"/>
<text x="336" y="283.9" font-size="4.5" fill="#2a2a2a">40.7%</text>
<path d="M374.25 303.8C374.38 302.74 375.06 296.87 375.3 295C375.54 293.13 375.93 288.79 376.25 288.25C376.57 287.71 377.55 290.14 378 290.5C378.45 290.86 379.22 290.71 380 291.25C380.78 291.79 383.54 295.75 384.5 295C385.46 294.25 387.25 287.85 388 285C388.75 282.15 390.15 271.25 390.75 271.25C391.35 271.25 392.49 281.09 393 285C393.51 288.91 394.76 301.54 395 303.8L395 303.6Z" fill="#edcbc0" stroke="none"/>
<path d="M374.25 303.8C374.38 302.74 375.06 296.87 375.3 295C375.54 293.13 375.93 288.79 376.25 288.25C376.57 287.71 377.55 290.14 378 290.5C378.45 290.86 379.22 290.71 380 291.25C380.78 291.79 383.54 295.75 384.5 295C385.46 294.25 387.25 287.85 388 285C388.75 282.15 390.15 271.25 390.75 271.25C391.35 271.25 392.49 281.09 393 285C393.51 288.91 394.76 301.54 395 303.8" fill="none" stroke="#c43a58" stroke-width="0.9" stroke-linejoin="round"/>
<rect x="364.4" y="269.3" width="34.7" height="34.3" fill="none" stroke="#222" stroke-width="0.8"/>
<line x1="362.9" y1="277" x2="364.4" y2="277" stroke="#222" stroke-width="0.5"/>
<text x="361.5" y="278.5" font-size="4.3" fill="#333" text-anchor="end">3.0K</text>
<line x1="362.9" y1="285.5" x2="364.4" y2="285.5" stroke="#222" stroke-width="0.5"/>
<text x="361.5" y="287" font-size="4.3" fill="#333" text-anchor="end">2.0K</text>
<line x1="362.9" y1="294.25" x2="364.4" y2="294.25" stroke="#222" stroke-width="0.5"/>
<text x="361.5" y="295.75" font-size="4.3" fill="#333" text-anchor="end">1.0K</text>
<line x1="362.9" y1="303" x2="364.4" y2="303" stroke="#222" stroke-width="0.5"/>
<text x="361.5" y="304.5" font-size="4.3" fill="#333" text-anchor="end">0</text>
<line x1="366.4" y1="303.6" x2="366.4" y2="304.5" stroke="#222" stroke-width="0.4"/>
<line x1="368.96" y1="303.6" x2="368.96" y2="304.5" stroke="#222" stroke-width="0.4"/>
<line x1="371.52" y1="303.6" x2="371.52" y2="304.5" stroke="#222" stroke-width="0.4"/>
<line x1="374.07" y1="303.6" x2="374.07" y2="304.5" stroke="#222" stroke-width="0.4"/>
<line x1="376.63" y1="303.6" x2="376.63" y2="304.5" stroke="#222" stroke-width="0.4"/>
<line x1="379.19" y1="303.6" x2="379.19" y2="304.5" stroke="#222" stroke-width="0.4"/>
<line x1="381.75" y1="303.6" x2="381.75" y2="304.5" stroke="#222" stroke-width="0.4"/>
<line x1="384.31" y1="303.6" x2="384.31" y2="304.5" stroke="#222" stroke-width="0.4"/>
<line x1="386.87" y1="303.6" x2="386.87" y2="304.5" stroke="#222" stroke-width="0.4"/>
<line x1="389.42" y1="303.6" x2="389.42" y2="304.5" stroke="#222" stroke-width="0.4"/>
<line x1="391.98" y1="303.6" x2="391.98" y2="304.5" stroke="#222" stroke-width="0.4"/>
<line x1="394.54" y1="303.6" x2="394.54" y2="304.5" stroke="#222" stroke-width="0.4"/>
<line x1="397.1" y1="303.6" x2="397.1" y2="304.5" stroke="#222" stroke-width="0.4"/>
<text x="362.6" y="310" font-size="4.2" fill="#333">-10<tspan font-size="2.6" dy="-1.6">3</tspan></text>
<text x="371.7" y="310" font-size="4.2" fill="#333">0</text>
<text x="374.8" y="310" font-size="4.2" fill="#333">10<tspan font-size="2.6" dy="-1.6">3</tspan></text>
<text x="384.2" y="310" font-size="4.2" fill="#333">10<tspan font-size="2.6" dy="-1.6">4</tspan></text>
<text x="391.4" y="310" font-size="4.2" fill="#333">10<tspan font-size="2.6" dy="-1.6">5</tspan></text>
<line x1="385" y1="290.5" x2="398" y2="290.5" stroke="#666" stroke-width="0.55"/>
<text x="392" y="283.2" font-size="4.5" fill="#2a2a2a">53.6%</text>
<path d="M429.5 303.8C429.68 301.9 430.64 291.31 431 288C431.36 284.69 431.9 276.61 432.5 276.25C433.1 275.89 435.1 283.11 436 285C436.9 286.89 439.16 292.36 440 292C440.84 291.64 442.4 284.49 443 282C443.6 279.51 444.46 270.89 445 271.25C445.54 271.61 446.9 281.09 447.5 285C448.1 288.91 449.7 301.54 450 303.8L450 303.6Z" fill="#edcbc0" stroke="none"/>
<path d="M429.5 303.8C429.68 301.9 430.64 291.31 431 288C431.36 284.69 431.9 276.61 432.5 276.25C433.1 275.89 435.1 283.11 436 285C436.9 286.89 439.16 292.36 440 292C440.84 291.64 442.4 284.49 443 282C443.6 279.51 444.46 270.89 445 271.25C445.54 271.61 446.9 281.09 447.5 285C448.1 288.91 449.7 301.54 450 303.8" fill="none" stroke="#c43a58" stroke-width="0.9" stroke-linejoin="round"/>
<rect x="420" y="269.3" width="34.7" height="34.3" fill="none" stroke="#222" stroke-width="0.8"/>
<line x1="418.5" y1="273.75" x2="420" y2="273.75" stroke="#222" stroke-width="0.5"/>
<text x="417.1" y="275.25" font-size="4.3" fill="#333" text-anchor="end">3.0K</text>
<line x1="418.5" y1="283.75" x2="420" y2="283.75" stroke="#222" stroke-width="0.5"/>
<text x="417.1" y="285.25" font-size="4.3" fill="#333" text-anchor="end">2.0K</text>
<line x1="418.5" y1="293.25" x2="420" y2="293.25" stroke="#222" stroke-width="0.5"/>
<text x="417.1" y="294.75" font-size="4.3" fill="#333" text-anchor="end">1.0K</text>
<line x1="418.5" y1="303" x2="420" y2="303" stroke="#222" stroke-width="0.5"/>
<text x="417.1" y="304.5" font-size="4.3" fill="#333" text-anchor="end">0</text>
<line x1="422" y1="303.6" x2="422" y2="304.5" stroke="#222" stroke-width="0.4"/>
<line x1="424.56" y1="303.6" x2="424.56" y2="304.5" stroke="#222" stroke-width="0.4"/>
<line x1="427.12" y1="303.6" x2="427.12" y2="304.5" stroke="#222" stroke-width="0.4"/>
<line x1="429.68" y1="303.6" x2="429.68" y2="304.5" stroke="#222" stroke-width="0.4"/>
<line x1="432.23" y1="303.6" x2="432.23" y2="304.5" stroke="#222" stroke-width="0.4"/>
<line x1="434.79" y1="303.6" x2="434.79" y2="304.5" stroke="#222" stroke-width="0.4"/>
<line x1="437.35" y1="303.6" x2="437.35" y2="304.5" stroke="#222" stroke-width="0.4"/>
<line x1="439.91" y1="303.6" x2="439.91" y2="304.5" stroke="#222" stroke-width="0.4"/>
<line x1="442.47" y1="303.6" x2="442.47" y2="304.5" stroke="#222" stroke-width="0.4"/>
<line x1="445.02" y1="303.6" x2="445.02" y2="304.5" stroke="#222" stroke-width="0.4"/>
<line x1="447.58" y1="303.6" x2="447.58" y2="304.5" stroke="#222" stroke-width="0.4"/>
<line x1="450.14" y1="303.6" x2="450.14" y2="304.5" stroke="#222" stroke-width="0.4"/>
<line x1="452.7" y1="303.6" x2="452.7" y2="304.5" stroke="#222" stroke-width="0.4"/>
<text x="418.2" y="310" font-size="4.2" fill="#333">-10<tspan font-size="2.6" dy="-1.6">3</tspan></text>
<text x="427.3" y="310" font-size="4.2" fill="#333">0</text>
<text x="430.4" y="310" font-size="4.2" fill="#333">10<tspan font-size="2.6" dy="-1.6">3</tspan></text>
<text x="439.8" y="310" font-size="4.2" fill="#333">10<tspan font-size="2.6" dy="-1.6">4</tspan></text>
<text x="447" y="310" font-size="4.2" fill="#333">10<tspan font-size="2.6" dy="-1.6">5</tspan></text>
<line x1="441.25" y1="290" x2="453.75" y2="290" stroke="#666" stroke-width="0.55"/>
<text x="448.75" y="283.2" font-size="4.5" fill="#2a2a2a">51.5%</text>
<path d="M485 303.8C485.2 301.54 486.28 288.88 486.7 285C487.12 281.12 487.92 271.62 488.5 271.5C489.08 271.38 490.64 281.04 491.5 284C492.36 286.96 494.86 295.6 495.7 296.2C496.54 296.8 497.89 290.94 498.5 289C499.11 287.06 500.26 280.12 500.8 280C501.34 279.88 502.38 285.14 503 288C503.62 290.86 505.64 301.9 506 303.8L506 303.6Z" fill="#edcbc0" stroke="none"/>
<path d="M485 303.8C485.2 301.54 486.28 288.88 486.7 285C487.12 281.12 487.92 271.62 488.5 271.5C489.08 271.38 490.64 281.04 491.5 284C492.36 286.96 494.86 295.6 495.7 296.2C496.54 296.8 497.89 290.94 498.5 289C499.11 287.06 500.26 280.12 500.8 280C501.34 279.88 502.38 285.14 503 288C503.62 290.86 505.64 301.9 506 303.8" fill="none" stroke="#c43a58" stroke-width="0.9" stroke-linejoin="round"/>
<rect x="476.6" y="269.3" width="34.7" height="34.3" fill="none" stroke="#222" stroke-width="0.8"/>
<line x1="475.1" y1="277" x2="476.6" y2="277" stroke="#222" stroke-width="0.5"/>
<text x="473.7" y="278.5" font-size="4.3" fill="#333" text-anchor="end">3.0K</text>
<line x1="475.1" y1="285.8" x2="476.6" y2="285.8" stroke="#222" stroke-width="0.5"/>
<text x="473.7" y="287.3" font-size="4.3" fill="#333" text-anchor="end">2.0K</text>
<line x1="475.1" y1="294.6" x2="476.6" y2="294.6" stroke="#222" stroke-width="0.5"/>
<text x="473.7" y="296.1" font-size="4.3" fill="#333" text-anchor="end">1.0K</text>
<line x1="475.1" y1="303.5" x2="476.6" y2="303.5" stroke="#222" stroke-width="0.5"/>
<text x="473.7" y="305" font-size="4.3" fill="#333" text-anchor="end">0</text>
<line x1="478.6" y1="303.6" x2="478.6" y2="304.5" stroke="#222" stroke-width="0.4"/>
<line x1="481.16" y1="303.6" x2="481.16" y2="304.5" stroke="#222" stroke-width="0.4"/>
<line x1="483.72" y1="303.6" x2="483.72" y2="304.5" stroke="#222" stroke-width="0.4"/>
<line x1="486.28" y1="303.6" x2="486.28" y2="304.5" stroke="#222" stroke-width="0.4"/>
<line x1="488.83" y1="303.6" x2="488.83" y2="304.5" stroke="#222" stroke-width="0.4"/>
<line x1="491.39" y1="303.6" x2="491.39" y2="304.5" stroke="#222" stroke-width="0.4"/>
<line x1="493.95" y1="303.6" x2="493.95" y2="304.5" stroke="#222" stroke-width="0.4"/>
<line x1="496.51" y1="303.6" x2="496.51" y2="304.5" stroke="#222" stroke-width="0.4"/>
<line x1="499.07" y1="303.6" x2="499.07" y2="304.5" stroke="#222" stroke-width="0.4"/>
<line x1="501.62" y1="303.6" x2="501.62" y2="304.5" stroke="#222" stroke-width="0.4"/>
<line x1="504.18" y1="303.6" x2="504.18" y2="304.5" stroke="#222" stroke-width="0.4"/>
<line x1="506.74" y1="303.6" x2="506.74" y2="304.5" stroke="#222" stroke-width="0.4"/>
<line x1="509.3" y1="303.6" x2="509.3" y2="304.5" stroke="#222" stroke-width="0.4"/>
<text x="474.8" y="310" font-size="4.2" fill="#333">-10<tspan font-size="2.6" dy="-1.6">3</tspan></text>
<text x="483.9" y="310" font-size="4.2" fill="#333">0</text>
<text x="487" y="310" font-size="4.2" fill="#333">10<tspan font-size="2.6" dy="-1.6">3</tspan></text>
<text x="496.4" y="310" font-size="4.2" fill="#333">10<tspan font-size="2.6" dy="-1.6">4</tspan></text>
<text x="503.6" y="310" font-size="4.2" fill="#333">10<tspan font-size="2.6" dy="-1.6">5</tspan></text>
<line x1="496.6" y1="290" x2="510" y2="290" stroke="#666" stroke-width="0.55"/>
<text x="500.8" y="281.9" font-size="4.5" fill="#2a2a2a">41.2%</text>
<line x1="54" y1="315" x2="240" y2="315" stroke="#111" stroke-width="1.1"/>
<path d="M238 312.7L244 315L238 317.3Z" fill="#111"/>
<line x1="311.75" y1="314.6" x2="505.5" y2="314.6" stroke="#111" stroke-width="1.1"/>
<path d="M503.5 312.3L509.5 314.6L503.5 316.9Z" fill="#111"/>
<text x="148.7" y="323.6" font-size="6.6" fill="#222" text-anchor="middle" font-weight="bold" textLength="7.3" lengthAdjust="spacingAndGlyphs">HbF</text>
<text x="410.5" y="323.4" font-size="6.6" fill="#222" text-anchor="middle" font-weight="bold" textLength="7.3" lengthAdjust="spacingAndGlyphs">HbF</text>
<text x="140.3" y="344" font-size="8.6" fill="#222" text-anchor="middle">Donor #1</text>
<line x1="122.5" y1="345.4" x2="158" y2="345.4" stroke="#222" stroke-width="0.7"/>
<text x="396.6" y="344" font-size="8.6" fill="#222" text-anchor="middle">Donor #2</text>
<line x1="378.7" y1="345.4" x2="414.4" y2="345.4" stroke="#222" stroke-width="0.7"/>
<text x="61.3" y="355.5" font-size="6.4" fill="#222" text-anchor="middle">DMSO</text>
<text x="115" y="355.5" font-size="6.4" fill="#222" text-anchor="middle">Pom 1 μM</text>
<text x="171.3" y="355.5" font-size="6.4" fill="#222" text-anchor="middle">Pom 0.1 μM</text>
<text x="228.5" y="355.5" font-size="6.4" fill="#222" text-anchor="middle">Pom 0.01 μM</text>
<text x="322" y="355.5" font-size="6.4" fill="#222" text-anchor="middle">DMSO</text>
<text x="372.5" y="355.5" font-size="6.4" fill="#222" text-anchor="middle">Pom 1 μM</text>
<text x="425" y="355.5" font-size="6.4" fill="#222" text-anchor="middle">Pom 0.1 μM</text>
<text x="480" y="355.5" font-size="6.4" fill="#222" text-anchor="middle">Pom 0.01 μM</text>
<text x="7.3" y="378" font-size="6.5" fill="#222">Control</text>
<text x="7.3" y="385.5" font-size="6.5" fill="#222">shRNA</text>
<text x="7.3" y="421.8" font-size="6.5" fill="#222">HRI</text>
<text x="7.3" y="430" font-size="6.5" fill="#222">shRNA #1</text>
<text x="7.3" y="461" font-size="6.5" fill="#222">HRI</text>
<text x="7.3" y="469.3" font-size="6.5" fill="#222">shRNA #2</text>
<text x="264.3" y="378" font-size="6.5" fill="#222">Control</text>
<text x="264.3" y="385.5" font-size="6.5" fill="#222">shRNA</text>
<text x="264.3" y="422" font-size="6.5" fill="#222">HRI</text>
<text x="264.3" y="429.5" font-size="6.5" fill="#222">shRNA #1</text>
<text x="264.3" y="461.25" font-size="6.5" fill="#222">HRI</text>
<text x="264.3" y="469.5" font-size="6.5" fill="#222">shRNA #2</text>
<rect x="58.7" y="378.5" width="5.2" height="105.3" fill="#c5c3c9"/>
<rect x="111.3" y="378.5" width="5.2" height="105.3" fill="#c5c3c9"/>
<rect x="164.6" y="378.5" width="5.2" height="105.3" fill="#c5c3c9"/>
<rect x="215.8" y="378.5" width="5.2" height="105.3" fill="#c5c3c9"/>
<rect x="313.8" y="379" width="5.2" height="104.8" fill="#c5c3c9"/>
<rect x="367.5" y="379" width="5.2" height="104.8" fill="#c5c3c9"/>
<rect x="419.5" y="379" width="5.2" height="104.8" fill="#c5c3c9"/>
<rect x="475" y="379" width="5.2" height="104.8" fill="#c5c3c9"/>
<path d="M53.7 401.5L60.9 401.2L62 398.6L62.5 398L63 398.6L64.2 401.3L68.1 401.1L69.3 399.9L70.1 400.3L70.8 368L71.3 366L71.8 368L72.6 399L73.8 400.7L75.5 400.9L76.3 399.2L77.3 401L79.3 401.5L83.7 401.5" fill="none" stroke="#bc2448" stroke-width="0.95" stroke-linejoin="round"/>
<text x="57.5" y="397" font-size="5.2" fill="#222" text-anchor="end">6.5%</text>
<text x="73" y="370.2" font-size="5.4" fill="#888">93.5%</text>
<text x="73" y="364.6" font-size="5.1" fill="#222">HbA</text>
<text x="58.75" y="375.2" font-size="4.9" fill="#222">HbF</text>
<path d="M106.3 401.5L112.7 401.2L113.8 393.6L114.3 393L114.8 393.6L116 401.3L120.1 401.1L121.3 399.9L122.1 400.3L122.8 368.3L123.3 366.3L123.8 368.3L124.6 399L125.8 400.7L127.5 400.9L128.3 399.2L129.3 401L131.3 401.5L136.3 401.5" fill="none" stroke="#bc2448" stroke-width="0.95" stroke-linejoin="round"/>
<text x="110" y="397" font-size="5.2" fill="#222" text-anchor="end">17.4%</text>
<text x="127" y="370.2" font-size="5.4" fill="#888">82.6%</text>
<text x="127" y="364.6" font-size="5.1" fill="#222">HbA</text>
<text x="110.75" y="375.2" font-size="4.9" fill="#222">HbF</text>
<path d="M159.6 401.5L165.9 401.2L167 396.9L167.5 396.3L168 396.9L169.2 401.3L173.1 401.1L174.3 399.9L175.1 400.3L175.8 368.3L176.3 366.3L176.8 368.3L177.6 399L178.8 400.7L180.5 400.9L181.3 399.2L182.3 401L184.3 401.5L189.6 401.5" fill="none" stroke="#bc2448" stroke-width="0.95" stroke-linejoin="round"/>
<text x="163" y="397" font-size="5.2" fill="#222" text-anchor="end">12.4%</text>
<text x="179.5" y="370.2" font-size="5.4" fill="#888">87.6%</text>
<text x="179.5" y="364.6" font-size="5.1" fill="#222">HbA</text>
<text x="164.5" y="375.2" font-size="4.9" fill="#222">HbF</text>
<path d="M210.8 401.5L216.7 401.2L217.8 397.8L218.3 397.2L218.8 397.8L220 401.3L223.8 401.1L225 399.9L225.8 400.3L226.5 368.9L227 366.9L227.5 368.9L228.3 399L229.5 400.7L231.2 400.9L232 399.2L233 401L235 401.5L240.8 401.5" fill="none" stroke="#bc2448" stroke-width="0.95" stroke-linejoin="round"/>
<text x="213.6" y="397" font-size="5.2" fill="#222" text-anchor="end">7.5%</text>
<text x="230.4" y="370.2" font-size="5.4" fill="#888">92.5%</text>
<text x="229" y="364.6" font-size="5.1" fill="#222">HbA</text>
<text x="214.9" y="375.2" font-size="4.9" fill="#222">HbF</text>
<path d="M53.7 442L59.9 441.7L61 432.5L61.5 431.9L62 432.5L63.2 441.8L67.4 441.6L68.6 440.4L69.4 440.8L70.1 410L70.6 408L71.1 410L71.9 439.5L73.1 441.2L74.8 441.4L75.6 439.7L76.6 441.5L78.6 442L83.7 442" fill="none" stroke="#bc2448" stroke-width="0.95" stroke-linejoin="round"/>
<text x="56.3" y="436.5" font-size="5.2" fill="#222" text-anchor="end">21.0%</text>
<text x="72.8" y="413.7" font-size="5.4" fill="#888">79.0%</text>
<path d="M106.3 442L112.2 441.7L113.3 424.4L113.8 423.8L114.3 424.4L115.5 441.8L120.1 441.6L121.3 440.4L122.1 440.8L122.8 414L123.3 412L123.8 414L124.6 439.5L125.8 441.2L127.5 441.4L128.3 439.7L129.3 441.5L131.3 442L136.3 442" fill="none" stroke="#bc2448" stroke-width="0.95" stroke-linejoin="round"/>
<text x="112" y="436.5" font-size="5.2" fill="#222" text-anchor="end">37.2%</text>
<text x="125" y="413.7" font-size="5.4" fill="#888">62.8%</text>
<path d="M159.6 442L165.9 441.7L167 426.4L167.5 425.8L168 426.4L169.2 441.8L173.3 441.6L174.5 440.4L175.3 440.8L176 413.3L176.5 411.3L177 413.3L177.8 439.5L179 441.2L180.7 441.4L181.5 439.7L182.5 441.5L184.5 442L189.6 442" fill="none" stroke="#bc2448" stroke-width="0.95" stroke-linejoin="round"/>
<text x="164.5" y="436.5" font-size="5.2" fill="#222" text-anchor="end">34.0%</text>
<text x="179.5" y="413.7" font-size="5.4" fill="#888">66.0%</text>
<path d="M210.8 442L216.8 441.7L217.9 427.1L218.4 426.5L218.9 427.1L220.1 441.8L224.3 441.6L225.5 440.4L226.3 440.8L227 412L227.5 410L228 412L228.8 439.5L230 441.2L231.7 441.4L232.5 439.7L233.5 441.5L235.5 442L240.8 442" fill="none" stroke="#bc2448" stroke-width="0.95" stroke-linejoin="round"/>
<text x="216" y="436.5" font-size="5.2" fill="#222" text-anchor="end">23.2%</text>
<text x="230.7" y="413.7" font-size="5.4" fill="#888">76.8%</text>
<path d="M53.7 480.3L58.9 480L60 466.1L60.5 465.5L61 466.1L62.2 480.1L66.8 479.9L68 478.7L68.8 479.1L69.5 450.8L70 448.8L70.5 450.8L71.3 477.8L72.5 479.5L74.2 479.7L75 478L76 479.8L78 480.3L83.7 480.3" fill="none" stroke="#bc2448" stroke-width="0.95" stroke-linejoin="round"/>
<text x="55.5" y="476" font-size="5.2" fill="#222" text-anchor="end">28.7%</text>
<text x="72.5" y="455.7" font-size="5.4" fill="#888">71.3%</text>
<path d="M106.3 480.3L111.7 480L112.8 453.1L113.3 452.5L113.8 453.1L115 480.1L119.8 479.9L121 478.7L121.8 479.1L122.5 450L123 448L123.5 450L124.3 477.8L125.5 479.5L127.2 479.7L128 478L129 479.8L131 480.3L136.3 480.3" fill="none" stroke="#bc2448" stroke-width="0.95" stroke-linejoin="round"/>
<text x="109.5" y="476" font-size="5.2" fill="#222" text-anchor="end">46.1%</text>
<text x="125" y="455.7" font-size="5.4" fill="#888">53.9%</text>
<path d="M159.6 480.3L165.4 480L166.5 457.6L167 457L167.5 457.6L168.7 480.1L173.3 479.9L174.5 478.7L175.3 479.1L176 450L176.5 448L177 450L177.8 477.8L179 479.5L180.7 479.7L181.5 478L182.5 479.8L184.5 480.3L189.6 480.3" fill="none" stroke="#bc2448" stroke-width="0.95" stroke-linejoin="round"/>
<text x="163.8" y="476" font-size="5.2" fill="#222" text-anchor="end">42.0%</text>
<text x="179.5" y="455.7" font-size="5.4" fill="#888">58.0%</text>
<path d="M210.8 480.3L216.8 480L217.9 465L218.4 464.4L218.9 465L220.1 480.1L224.3 479.9L225.5 478.7L226.3 479.1L227 449.8L227.5 447.8L228 449.8L228.8 477.8L230 479.5L231.7 479.7L232.5 478L233.5 479.8L235.5 480.3L240.8 480.3" fill="none" stroke="#bc2448" stroke-width="0.95" stroke-linejoin="round"/>
<text x="214.9" y="476" font-size="5.2" fill="#222" text-anchor="end">26.0%</text>
<text x="230.7" y="455.7" font-size="5.4" fill="#888">74.0%</text>
<path d="M308.8 400.8L314.4 400.5L315.5 400.1L316 399.5L316.5 400.1L317.7 400.6L324.6 400.4L325.8 399.2L326.6 399.6L327.3 369.9L327.8 367.9L328.3 369.9L329.1 398.3L330.3 400L332 400.2L332.8 398.5L333.8 400.3L335.8 400.8L338.8 400.8" fill="none" stroke="#bc2448" stroke-width="0.95" stroke-linejoin="round"/>
<text x="311" y="397" font-size="5.2" fill="#222" text-anchor="end">5.2%</text>
<text x="330.6" y="368.8" font-size="5.4" fill="#888">94.8%</text>
<text x="329" y="363.1" font-size="5.1" fill="#222">HbA</text>
<text x="312.5" y="375.2" font-size="4.9" fill="#222">HbF</text>
<path d="M362.5 400.8L367.2 400.5L368.3 398.1L368.8 397.5L369.3 398.1L370.5 400.6L376.8 400.4L378 399.2L378.8 399.6L379.5 365.8L380 363.8L380.5 365.8L381.3 398.3L382.5 400L384.2 400.2L385 398.5L386 400.3L388 400.8L392.5 400.8" fill="none" stroke="#bc2448" stroke-width="0.95" stroke-linejoin="round"/>
<text x="366.3" y="397" font-size="5.2" fill="#222" text-anchor="end">10.4%</text>
<text x="382" y="368.8" font-size="5.4" fill="#888">89.6%</text>
<text x="383" y="363.1" font-size="5.1" fill="#222">HbA</text>
<text x="367" y="375.2" font-size="4.9" fill="#222">HbF</text>
<path d="M414.5 400.8L419.9 400.5L421 399.1L421.5 398.5L422 399.1L423.2 400.6L430.6 400.4L431.8 399.2L432.6 399.6L433.3 365.8L433.8 363.8L434.3 365.8L435.1 398.3L436.3 400L438 400.2L438.8 398.5L439.8 400.3L441.8 400.8L444.5 400.8" fill="none" stroke="#bc2448" stroke-width="0.95" stroke-linejoin="round"/>
<text x="416.3" y="397" font-size="5.2" fill="#222" text-anchor="end">7.3%</text>
<text x="437" y="368.8" font-size="5.4" fill="#888">92.7%</text>
<text x="434.5" y="363.1" font-size="5.1" fill="#222">HbA</text>
<text x="419.5" y="375.2" font-size="4.9" fill="#222">HbF</text>
<path d="M470 400.8L475.4 400.5L476.5 399.6L477 399L477.5 399.6L478.7 400.6L484.5 400.4L485.7 399.2L486.5 399.6L487.2 365L487.7 363L488.2 365L489 398.3L490.2 400L491.9 400.2L492.7 398.5L493.7 400.3L495.7 400.8L500 400.8" fill="none" stroke="#bc2448" stroke-width="0.95" stroke-linejoin="round"/>
<text x="472.6" y="397" font-size="5.2" fill="#222" text-anchor="end">5.9%</text>
<text x="490.5" y="368.8" font-size="5.4" fill="#888">94.1%</text>
<text x="490.8" y="363.1" font-size="5.1" fill="#222">HbA</text>
<text x="473.8" y="375.2" font-size="4.9" fill="#222">HbF</text>
<path d="M308.8 441.2L314.7 440.9L315.8 436.9L316.3 436.3L316.8 436.9L318 441L323.8 440.8L325 439.6L325.8 440L326.5 411.5L327 409.5L327.5 411.5L328.3 438.7L329.5 440.4L331.2 440.6L332 438.9L333 440.7L335 441.2L338.8 441.2" fill="none" stroke="#bc2448" stroke-width="0.95" stroke-linejoin="round"/>
<text x="312.5" y="436.6" font-size="5.2" fill="#222" text-anchor="end">16.1%</text>
<text x="330.5" y="412.8" font-size="5.4" fill="#888">83.9%</text>
<path d="M362.5 441.2L367.9 440.9L369 431.9L369.5 431.3L370 431.9L371.2 441L377.3 440.8L378.5 439.6L379.3 440L380 417L380.5 415L381 417L381.8 438.7L383 440.4L384.7 440.6L385.5 438.9L386.5 440.7L388.5 441.2L392.5 441.2" fill="none" stroke="#bc2448" stroke-width="0.95" stroke-linejoin="round"/>
<text x="367" y="436.6" font-size="5.2" fill="#222" text-anchor="end">27.1%</text>
<text x="382.5" y="412.8" font-size="5.4" fill="#888">72.9%</text>
<path d="M414.5 441.2L421.5 440.9L422.6 432L423.1 431.4L423.6 432L424.8 441L430.7 440.8L431.9 439.6L432.7 440L433.4 409.9L433.9 407.9L434.4 409.9L435.2 438.7L436.4 440.4L438.1 440.6L438.9 438.9L439.9 440.7L441.9 441.2L444.5 441.2" fill="none" stroke="#bc2448" stroke-width="0.95" stroke-linejoin="round"/>
<text x="419" y="436.6" font-size="5.2" fill="#222" text-anchor="end">25.0%</text>
<text x="437" y="412.8" font-size="5.4" fill="#888">75.0%</text>
<path d="M470 441.2L475.4 440.9L476.5 435.5L477 434.9L477.5 435.5L478.7 441L484.6 440.8L485.8 439.6L486.6 440L487.3 408.3L487.8 406.3L488.3 408.3L489.1 438.7L490.3 440.4L492 440.6L492.8 438.9L493.8 440.7L495.8 441.2L500 441.2" fill="none" stroke="#bc2448" stroke-width="0.95" stroke-linejoin="round"/>
<text x="474.3" y="436.6" font-size="5.2" fill="#222" text-anchor="end">17.0%</text>
<text x="490" y="412.8" font-size="5.4" fill="#888">83.0%</text>
<path d="M308.8 480.3L313.9 480L315 475.6L315.5 475L316 475.6L317.2 480.1L323.1 479.9L324.3 478.7L325.1 479.1L325.8 448.3L326.3 446.3L326.8 448.3L327.6 477.8L328.8 479.5L330.5 479.7L331.3 478L332.3 479.8L334.3 480.3L338.8 480.3" fill="none" stroke="#bc2448" stroke-width="0.95" stroke-linejoin="round"/>
<text x="312.5" y="475.8" font-size="5.2" fill="#222" text-anchor="end">17.8%</text>
<text x="330" y="454.4" font-size="5.4" fill="#888">82.2%</text>
<path d="M362.5 480.3L367.7 480L368.8 470.1L369.3 469.5L369.8 470.1L371 480.1L376.3 479.9L377.5 478.7L378.3 479.1L379 457L379.5 455L380 457L380.8 477.8L382 479.5L383.7 479.7L384.5 478L385.5 479.8L387.5 480.3L392.5 480.3" fill="none" stroke="#bc2448" stroke-width="0.95" stroke-linejoin="round"/>
<text x="366.3" y="475.8" font-size="5.2" fill="#222" text-anchor="end">30.8%</text>
<text x="382.5" y="454.4" font-size="5.4" fill="#888">69.2%</text>
<path d="M414.5 480.3L421 480L422.1 470.6L422.6 470L423.1 470.6L424.3 480.1L430.7 479.9L431.9 478.7L432.7 479.1L433.4 448.8L433.9 446.8L434.4 448.8L435.2 477.8L436.4 479.5L438.1 479.7L438.9 478L439.9 479.8L441.9 480.3L444.5 480.3" fill="none" stroke="#bc2448" stroke-width="0.95" stroke-linejoin="round"/>
<text x="419" y="475.8" font-size="5.2" fill="#222" text-anchor="end">26.5%</text>
<text x="437" y="454.4" font-size="5.4" fill="#888">73.5%</text>
<path d="M470 480.3L475.4 480L476.5 473.8L477 473.2L477.5 473.8L478.7 480.1L484.6 479.9L485.8 478.7L486.6 479.1L487.3 446L487.8 444L488.3 446L489.1 477.8L490.3 479.5L492 479.7L492.8 478L493.8 479.8L495.8 480.3L500 480.3" fill="none" stroke="#bc2448" stroke-width="0.95" stroke-linejoin="round"/>
<text x="473.8" y="475.8" font-size="5.2" fill="#222" text-anchor="end">18.0%</text>
<text x="490" y="454.4" font-size="5.4" fill="#888">82.0%</text>
<line x1="51.3" y1="487.3" x2="239" y2="487.3" stroke="#111" stroke-width="1.1"/>
<path d="M237 485L243 487.3L237 489.6Z" fill="#111"/>
<line x1="311.3" y1="488" x2="498" y2="488" stroke="#111" stroke-width="1.1"/>
<path d="M496 485.7L502 488L496 490.3Z" fill="#111"/>
<text x="147" y="497.8" font-size="8.4" fill="#222" text-anchor="middle" font-weight="bold" textLength="31.5" lengthAdjust="spacingAndGlyphs">Elution time</text>
<text x="406.7" y="498.2" font-size="8.4" fill="#222" text-anchor="middle" font-weight="bold" textLength="31.8" lengthAdjust="spacingAndGlyphs">Elution time</text>
<text x="68.8" y="519.5" font-size="8.5" fill="#111" textLength="183" lengthAdjust="spacingAndGlyphs">Pom 1 μM (high-dose) HRI shRNA #2 vs Control</text>
<line x1="68.8" y1="520.8" x2="251.8" y2="520.8" stroke="#111" stroke-width="0.7"/>
<line x1="56.5" y1="627" x2="265" y2="627" stroke="#b4b4b4" stroke-width="1.5"/>
<line x1="100" y1="627.2" x2="210" y2="627.2" stroke="#8f8f8f" stroke-width="1.7"/>
<line x1="147.7" y1="532" x2="147.7" y2="625.8" stroke="#a0a0a0" stroke-width="0.8"/>
<line x1="156.3" y1="532" x2="156.3" y2="625.8" stroke="#a0a0a0" stroke-width="0.8"/>
<path d="M148.1 622.3Q152 628.9 155.9 622.3" fill="none" stroke="#4a5bb0" stroke-width="0.9"/>
<path d="M147.2 626.3L147.2 619.82L145.7 615.5L143.2 613.34L139.2 614.78L135.2 617.66L131.2 620.54L127.2 622.7L122.2 624.5L115.2 626.3L115.2 626.3Z" fill="#c9282e"/>
<path d="M156.8 626.3L156.8 621.4L158.3 614.4L160.8 611.6L164.8 613.7L168.8 617.2L172.8 620L178.8 622.8L186.8 624.55L196.8 625.74L204.8 626.3L204.8 626.3Z" fill="#c9282e"/>
<path d="M139.94 613.37h1.3v1.3h-1.3zM120.47 624.24h1.3v1.3h-1.3zM142.95 612.7h1.3v1.3h-1.3zM126.15 624.97h1.3v1.3h-1.3zM128.94 623.21h1.3v1.3h-1.3zM138.11 616.42h1.3v1.3h-1.3zM131.22 615.8h1.3v1.3h-1.3zM138.5 623.2h1.3v1.3h-1.3zM145.83 616.74h1.3v1.3h-1.3zM133.13 617.36h1.3v1.3h-1.3zM143.06 609.08h1.3v1.3h-1.3zM121.59 624.21h1.3v1.3h-1.3zM142.62 610.9h1.3v1.3h-1.3zM140.16 616.13h1.3v1.3h-1.3zM139.75 621.82h1.3v1.3h-1.3zM125.25 622.8h1.3v1.3h-1.3zM139.04 608.94h1.3v1.3h-1.3zM125.31 620.46h1.3v1.3h-1.3zM139.03 611.65h1.3v1.3h-1.3zM135.32 623.48h1.3v1.3h-1.3zM142.97 619.78h1.3v1.3h-1.3zM140.92 610.22h1.3v1.3h-1.3zM137.87 612.58h1.3v1.3h-1.3zM142.53 608.48h1.3v1.3h-1.3zM138.22 619.69h1.3v1.3h-1.3zM136.46 613.91h1.3v1.3h-1.3zM143.65 615.2h1.3v1.3h-1.3zM139.32 619.29h1.3v1.3h-1.3zM131.59 622.72h1.3v1.3h-1.3zM134.05 622.74h1.3v1.3h-1.3zM141.36 624.44h1.3v1.3h-1.3zM115.04 624.85h1.3v1.3h-1.3zM143.44 612.55h1.3v1.3h-1.3zM133.62 617.24h1.3v1.3h-1.3zM143.28 608.96h1.3v1.3h-1.3zM119.02 623.68h1.3v1.3h-1.3zM144.9 618.02h1.3v1.3h-1.3zM138.48 615.82h1.3v1.3h-1.3zM137.66 619.1h1.3v1.3h-1.3zM124.15 624.15h1.3v1.3h-1.3zM135.39 621.44h1.3v1.3h-1.3zM133.55 620.49h1.3v1.3h-1.3zM141.49 609.69h1.3v1.3h-1.3zM140.44 618.99h1.3v1.3h-1.3zM139 613.76h1.3v1.3h-1.3zM130.05 618.03h1.3v1.3h-1.3zM143.46 610.74h1.3v1.3h-1.3zM144.52 616.01h1.3v1.3h-1.3zM145.24 619.06h1.3v1.3h-1.3zM138.25 623.75h1.3v1.3h-1.3zM123.95 622.92h1.3v1.3h-1.3zM140.13 615.75h1.3v1.3h-1.3zM123 623.89h1.3v1.3h-1.3zM134.79 617.48h1.3v1.3h-1.3zM141.69 612.84h1.3v1.3h-1.3zM139.29 610.91h1.3v1.3h-1.3zM139.02 608.82h1.3v1.3h-1.3zM134.7 618.48h1.3v1.3h-1.3zM130.25 618.06h1.3v1.3h-1.3zM143.8 621.3h1.3v1.3h-1.3zM141.35 614.69h1.3v1.3h-1.3zM143.1 615.27h1.3v1.3h-1.3zM136.56 614.87h1.3v1.3h-1.3zM127.93 622.12h1.3v1.3h-1.3zM139.19 608.9h1.3v1.3h-1.3zM139.42 615.46h1.3v1.3h-1.3zM126.48 619.81h1.3v1.3h-1.3zM129.34 618.77h1.3v1.3h-1.3zM123.74 622.75h1.3v1.3h-1.3zM130.71 620.61h1.3v1.3h-1.3zM130.6 622.82h1.3v1.3h-1.3zM141.71 624.28h1.3v1.3h-1.3zM139.64 612.64h1.3v1.3h-1.3zM135.54 615.81h1.3v1.3h-1.3zM142.49 621.93h1.3v1.3h-1.3zM129.51 623.03h1.3v1.3h-1.3zM133.83 617.95h1.3v1.3h-1.3zM140.74 613.08h1.3v1.3h-1.3zM138.19 619.65h1.3v1.3h-1.3zM142.75 616.67h1.3v1.3h-1.3zM120.57 623.99h1.3v1.3h-1.3zM123.92 624.03h1.3v1.3h-1.3zM139.8 622.33h1.3v1.3h-1.3zM144.65 617.04h1.3v1.3h-1.3zM127.65 623.51h1.3v1.3h-1.3zM139.32 608.54h1.3v1.3h-1.3zM135.39 617.18h1.3v1.3h-1.3zM132.88 622.54h1.3v1.3h-1.3zM129.45 618.12h1.3v1.3h-1.3zM132.91 618.76h1.3v1.3h-1.3zM122.73 623.69h1.3v1.3h-1.3zM130.85 621.22h1.3v1.3h-1.3zM128.79 617.94h1.3v1.3h-1.3zM145.12 615.79h1.3v1.3h-1.3zM137.64 623.7h1.3v1.3h-1.3zM139.6 622.51h1.3v1.3h-1.3zM119.95 623.71h1.3v1.3h-1.3zM121.55 622.46h1.3v1.3h-1.3zM140.73 620.94h1.3v1.3h-1.3zM132.39 618.17h1.3v1.3h-1.3zM134.15 616.38h1.3v1.3h-1.3zM127.91 620.14h1.3v1.3h-1.3zM136.38 620.43h1.3v1.3h-1.3zM144.48 613.59h1.3v1.3h-1.3zM121.9 622.15h1.3v1.3h-1.3zM138.05 609.86h1.3v1.3h-1.3zM126.53 621.37h1.3v1.3h-1.3zM131.27 624.26h1.3v1.3h-1.3zM128.95 621.33h1.3v1.3h-1.3zM137.46 617.36h1.3v1.3h-1.3zM142.21 610.68h1.3v1.3h-1.3zM137.16 615.45h1.3v1.3h-1.3zM144.59 620.2h1.3v1.3h-1.3zM142.57 623.05h1.3v1.3h-1.3zM143.08 614.9h1.3v1.3h-1.3zM130.54 621.45h1.3v1.3h-1.3zM143.47 611.6h1.3v1.3h-1.3zM139.03 619.54h1.3v1.3h-1.3zM135.44 614.4h1.3v1.3h-1.3zM134.03 614.2h1.3v1.3h-1.3zM143.34 614.89h1.3v1.3h-1.3zM136.29 623.31h1.3v1.3h-1.3zM139.03 622.91h1.3v1.3h-1.3zM136.13 614.49h1.3v1.3h-1.3zM136.8 618.58h1.3v1.3h-1.3zM142.09 613.87h1.3v1.3h-1.3zM135.69 612.04h1.3v1.3h-1.3zM134.28 619.62h1.3v1.3h-1.3zM133.19 622.08h1.3v1.3h-1.3zM127.84 619.94h1.3v1.3h-1.3zM145.14 617.87h1.3v1.3h-1.3zM143.8 612.21h1.3v1.3h-1.3zM143.16 612.28h1.3v1.3h-1.3zM125.56 621.31h1.3v1.3h-1.3zM125.08 623.77h1.3v1.3h-1.3zM132.36 622.89h1.3v1.3h-1.3zM133.83 621.79h1.3v1.3h-1.3zM132.25 615h1.3v1.3h-1.3zM143.96 622.41h1.3v1.3h-1.3zM140.11 615.97h1.3v1.3h-1.3zM144.69 621.62h1.3v1.3h-1.3zM138.89 612.49h1.3v1.3h-1.3zM126.82 623.67h1.3v1.3h-1.3zM136.86 613.13h1.3v1.3h-1.3zM135.87 613.22h1.3v1.3h-1.3zM130.51 617.28h1.3v1.3h-1.3zM130.41 624.37h1.3v1.3h-1.3zM133.53 618.27h1.3v1.3h-1.3zM124.81 625.03h1.3v1.3h-1.3zM130.73 617.75h1.3v1.3h-1.3zM140.82 618.09h1.3v1.3h-1.3zM137.55 615.9h1.3v1.3h-1.3zM137.32 621.75h1.3v1.3h-1.3zM121.2 622.87h1.3v1.3h-1.3zM143.21 612.62h1.3v1.3h-1.3zM142.74 615.92h1.3v1.3h-1.3zM140.81 618.28h1.3v1.3h-1.3zM135.91 619.7h1.3v1.3h-1.3zM134.34 623.08h1.3v1.3h-1.3zM133.23 614.07h1.3v1.3h-1.3zM145.45 617.11h1.3v1.3h-1.3zM138.25 616.47h1.3v1.3h-1.3zM133.82 620.6h1.3v1.3h-1.3zM135.05 615.6h1.3v1.3h-1.3zM137.64 612.85h1.3v1.3h-1.3zM142.9 622.62h1.3v1.3h-1.3zM140.09 610.3h1.3v1.3h-1.3zM126.88 623.39h1.3v1.3h-1.3zM140.82 616.63h1.3v1.3h-1.3zM132.19 617.85h1.3v1.3h-1.3zM133.5 619.42h1.3v1.3h-1.3zM145.36 616.9h1.3v1.3h-1.3zM145.26 620.33h1.3v1.3h-1.3zM125.03 623.04h1.3v1.3h-1.3zM140.78 609.05h1.3v1.3h-1.3zM128.31 621.22h1.3v1.3h-1.3zM141.31 607.61h1.3v1.3h-1.3zM139.52 619.69h1.3v1.3h-1.3zM134.29 622.81h1.3v1.3h-1.3zM126.6 620.38h1.3v1.3h-1.3zM138.14 611.23h1.3v1.3h-1.3zM139.91 622.98h1.3v1.3h-1.3zM144.83 612.19h1.3v1.3h-1.3zM136.01 614.05h1.3v1.3h-1.3zM133.64 615.25h1.3v1.3h-1.3zM145.33 619.11h1.3v1.3h-1.3zM141.27 613.86h1.3v1.3h-1.3zM140.29 619.22h1.3v1.3h-1.3zM127.67 620.69h1.3v1.3h-1.3zM144.64 622.2h1.3v1.3h-1.3zM130.81 619.01h1.3v1.3h-1.3zM144.1 611.09h1.3v1.3h-1.3zM126.86 624.06h1.3v1.3h-1.3zM131.55 620.52h1.3v1.3h-1.3zM144.19 616.06h1.3v1.3h-1.3zM138.2 617.45h1.3v1.3h-1.3zM138.3 610.09h1.3v1.3h-1.3zM120.49 623.71h1.3v1.3h-1.3zM115.42 624.97h1.3v1.3h-1.3zM136.27 623.58h1.3v1.3h-1.3zM133.14 617.79h1.3v1.3h-1.3zM144.38 611.5h1.3v1.3h-1.3zM136 611.75h1.3v1.3h-1.3zM139.24 609.5h1.3v1.3h-1.3zM130.73 617.13h1.3v1.3h-1.3zM125.61 620.74h1.3v1.3h-1.3zM144.25 613.45h1.3v1.3h-1.3zM141.53 608.2h1.3v1.3h-1.3zM131.61 622.21h1.3v1.3h-1.3zM136.02 621.3h1.3v1.3h-1.3zM140.06 612.82h1.3v1.3h-1.3zM126.97 622.91h1.3v1.3h-1.3zM136.99 622.94h1.3v1.3h-1.3zM144.4 619.73h1.3v1.3h-1.3zM137.82 622.88h1.3v1.3h-1.3zM136.73 620.31h1.3v1.3h-1.3zM136.92 621.22h1.3v1.3h-1.3zM144.77 614.58h1.3v1.3h-1.3zM129.85 620.15h1.3v1.3h-1.3zM140.28 621.07h1.3v1.3h-1.3zM126.39 622.34h1.3v1.3h-1.3zM130.2 619.75h1.3v1.3h-1.3zM129.88 619.83h1.3v1.3h-1.3zM140.99 615.12h1.3v1.3h-1.3zM131.94 621.68h1.3v1.3h-1.3zM120.3 623.02h1.3v1.3h-1.3zM141.17 623.74h1.3v1.3h-1.3zM135.79 616.82h1.3v1.3h-1.3zM137.38 622.92h1.3v1.3h-1.3zM137.7 613.37h1.3v1.3h-1.3zM143.89 618.22h1.3v1.3h-1.3zM144.5 613.58h1.3v1.3h-1.3zM144.59 612.38h1.3v1.3h-1.3zM141.32 618.42h1.3v1.3h-1.3zM132.27 624.45h1.3v1.3h-1.3zM137.75 620.05h1.3v1.3h-1.3zM134.2 612.98h1.3v1.3h-1.3zM126.3 622.57h1.3v1.3h-1.3zM125.06 623.19h1.3v1.3h-1.3zM131.05 617.13h1.3v1.3h-1.3zM138.96 620.88h1.3v1.3h-1.3zM128.26 623.24h1.3v1.3h-1.3zM138.99 618.68h1.3v1.3h-1.3zM139.3 623.09h1.3v1.3h-1.3zM137.07 621.26h1.3v1.3h-1.3zM137.46 610.51h1.3v1.3h-1.3zM134.29 613.34h1.3v1.3h-1.3zM145.2 619.75h1.3v1.3h-1.3zM143.19 618.48h1.3v1.3h-1.3zM144.09 620.29h1.3v1.3h-1.3zM144.54 615.75h1.3v1.3h-1.3zM144.83 618.57h1.3v1.3h-1.3zM128.44 619.89h1.3v1.3h-1.3zM137.52 613.83h1.3v1.3h-1.3zM141.14 618.77h1.3v1.3h-1.3zM138.62 618.16h1.3v1.3h-1.3zM138.95 624.3h1.3v1.3h-1.3zM136.31 611.63h1.3v1.3h-1.3zM138.93 613.19h1.3v1.3h-1.3zM138.34 622.79h1.3v1.3h-1.3zM132.16 624.06h1.3v1.3h-1.3zM133.58 618.44h1.3v1.3h-1.3zM136.9 617.89h1.3v1.3h-1.3zM130.64 618.8h1.3v1.3h-1.3zM138.18 618.3h1.3v1.3h-1.3zM132.34 618.34h1.3v1.3h-1.3zM123.44 623.36h1.3v1.3h-1.3zM134.19 619.17h1.3v1.3h-1.3zM144.1 615.18h1.3v1.3h-1.3zM130.84 622.15h1.3v1.3h-1.3zM145.1 614.19h1.3v1.3h-1.3zM127.75 620.5h1.3v1.3h-1.3zM139.9 613.61h1.3v1.3h-1.3zM132.55 615.93h1.3v1.3h-1.3zM116.74 624.94h1.3v1.3h-1.3zM129.62 621.69h1.3v1.3h-1.3zM139.69 612.72h1.3v1.3h-1.3zM138.34 615.17h1.3v1.3h-1.3zM133.25 618.67h1.3v1.3h-1.3zM135.18 613.05h1.3v1.3h-1.3zM135.82 614.7h1.3v1.3h-1.3zM136.71 616.16h1.3v1.3h-1.3zM138.27 618.56h1.3v1.3h-1.3zM140.16 621.88h1.3v1.3h-1.3zM143.83 622.63h1.3v1.3h-1.3zM123.3 623.18h1.3v1.3h-1.3zM140.65 609.59h1.3v1.3h-1.3zM144.14 616.29h1.3v1.3h-1.3zM141.84 612.1h1.3v1.3h-1.3zM138.46 624.62h1.3v1.3h-1.3zM144.29 622.42h1.3v1.3h-1.3zM144.49 613.92h1.3v1.3h-1.3zM135.29 616.91h1.3v1.3h-1.3zM130.39 621.81h1.3v1.3h-1.3zM136.77 615h1.3v1.3h-1.3zM141.15 622.19h1.3v1.3h-1.3zM130.23 621.75h1.3v1.3h-1.3zM145.23 622.72h1.3v1.3h-1.3zM125.84 623.62h1.3v1.3h-1.3zM130.42 622.24h1.3v1.3h-1.3zM144.21 611.3h1.3v1.3h-1.3zM135.95 621.53h1.3v1.3h-1.3zM139.38 615.76h1.3v1.3h-1.3zM133.18 618.12h1.3v1.3h-1.3zM122.65 624.96h1.3v1.3h-1.3zM140.45 622.98h1.3v1.3h-1.3zM135.93 624.78h1.3v1.3h-1.3zM145.5 616.35h1.3v1.3h-1.3zM116.74 624.49h1.3v1.3h-1.3zM138.58 617.77h1.3v1.3h-1.3zM134.18 619.78h1.3v1.3h-1.3zM135.56 619.44h1.3v1.3h-1.3zM124.08 624.47h1.3v1.3h-1.3zM141.28 616.12h1.3v1.3h-1.3zM145.55 620.21h1.3v1.3h-1.3zM135.56 611.96h1.3v1.3h-1.3zM139.3 618.41h1.3v1.3h-1.3zM121.72 622.25h1.3v1.3h-1.3zM138.82 612.67h1.3v1.3h-1.3zM140.16 612.59h1.3v1.3h-1.3zM139.98 608.23h1.3v1.3h-1.3zM141.11 617.05h1.3v1.3h-1.3zM125.25 621.96h1.3v1.3h-1.3zM127.68 619.62h1.3v1.3h-1.3zM133.54 617.37h1.3v1.3h-1.3zM144.82 618.26h1.3v1.3h-1.3zM141.8 614.97h1.3v1.3h-1.3zM138.36 613.65h1.3v1.3h-1.3zM137.83 616.65h1.3v1.3h-1.3zM139.58 613.29h1.3v1.3h-1.3zM143.5 611.92h1.3v1.3h-1.3zM130.15 618.21h1.3v1.3h-1.3zM134.14 624.27h1.3v1.3h-1.3zM140.04 610.15h1.3v1.3h-1.3zM139.23 610.13h1.3v1.3h-1.3zM145.36 620.79h1.3v1.3h-1.3zM140.07 612.38h1.3v1.3h-1.3zM130.92 623.53h1.3v1.3h-1.3zM134.41 612.64h1.3v1.3h-1.3zM134.32 619.06h1.3v1.3h-1.3zM141.17 616.25h1.3v1.3h-1.3zM131.23 616.21h1.3v1.3h-1.3zM134.77 621.09h1.3v1.3h-1.3zM127.31 619.68h1.3v1.3h-1.3zM131.5 620.34h1.3v1.3h-1.3zM136.85 610.7h1.3v1.3h-1.3zM136.48 614.51h1.3v1.3h-1.3zM138.02 621.96h1.3v1.3h-1.3zM132.39 616.15h1.3v1.3h-1.3zM128.38 618.83h1.3v1.3h-1.3zM143.02 617.59h1.3v1.3h-1.3zM115.46 624.75h1.3v1.3h-1.3zM130.84 620.28h1.3v1.3h-1.3zM135.74 615.85h1.3v1.3h-1.3zM143.72 617.56h1.3v1.3h-1.3zM124.86 620.68h1.3v1.3h-1.3zM139.15 621.64h1.3v1.3h-1.3zM143.18 613.54h1.3v1.3h-1.3zM137.74 612.78h1.3v1.3h-1.3zM121.02 623.74h1.3v1.3h-1.3zM145.08 617.81h1.3v1.3h-1.3zM128.77 619.2h1.3v1.3h-1.3zM136.2 622.44h1.3v1.3h-1.3zM127.68 624.24h1.3v1.3h-1.3zM129.46 618.85h1.3v1.3h-1.3zM137.95 623.59h1.3v1.3h-1.3zM138.89 614.79h1.3v1.3h-1.3zM142.51 621.28h1.3v1.3h-1.3zM132.62 622.74h1.3v1.3h-1.3zM123.05 622.98h1.3v1.3h-1.3zM144.94 620.31h1.3v1.3h-1.3zM118.72 624.29h1.3v1.3h-1.3zM143.34 622.34h1.3v1.3h-1.3zM136.27 620.27h1.3v1.3h-1.3zM134.08 618.39h1.3v1.3h-1.3zM134.38 618.53h1.3v1.3h-1.3zM144.26 623.52h1.3v1.3h-1.3zM133.06 623.39h1.3v1.3h-1.3zM133.95 618.38h1.3v1.3h-1.3zM138.48 615.97h1.3v1.3h-1.3zM145.56 615.28h1.3v1.3h-1.3zM136.21 615.74h1.3v1.3h-1.3zM135.77 616.95h1.3v1.3h-1.3zM121.73 624.71h1.3v1.3h-1.3zM137.79 611.88h1.3v1.3h-1.3zM132.98 616.98h1.3v1.3h-1.3zM144.03 623.8h1.3v1.3h-1.3zM143.45 616.81h1.3v1.3h-1.3zM131.52 623.4h1.3v1.3h-1.3zM135.61 623.48h1.3v1.3h-1.3zM142.14 612.4h1.3v1.3h-1.3zM128.31 623.91h1.3v1.3h-1.3zM139.09 615.05h1.3v1.3h-1.3zM144.85 619.18h1.3v1.3h-1.3zM142.48 621.04h1.3v1.3h-1.3zM127.1 622.61h1.3v1.3h-1.3zM140.61 613.73h1.3v1.3h-1.3zM129.21 620.32h1.3v1.3h-1.3zM137.49 615.11h1.3v1.3h-1.3zM137.62 611.63h1.3v1.3h-1.3zM130.27 618.44h1.3v1.3h-1.3zM142.58 610.15h1.3v1.3h-1.3zM144.73 616.57h1.3v1.3h-1.3zM128.2 623.65h1.3v1.3h-1.3zM120.07 623.32h1.3v1.3h-1.3zM138.86 615.14h1.3v1.3h-1.3zM126.34 620.82h1.3v1.3h-1.3zM137.38 624.46h1.3v1.3h-1.3zM128.66 622.49h1.3v1.3h-1.3zM137.76 616.23h1.3v1.3h-1.3zM137.13 619.67h1.3v1.3h-1.3zM140.73 609.77h1.3v1.3h-1.3zM138.38 617.8h1.3v1.3h-1.3zM134.69 612.83h1.3v1.3h-1.3zM142.32 612.69h1.3v1.3h-1.3zM142.59 622.02h1.3v1.3h-1.3zM117.94 624.09h1.3v1.3h-1.3zM143.68 615.06h1.3v1.3h-1.3zM129.17 620.66h1.3v1.3h-1.3zM139.94 617.72h1.3v1.3h-1.3zM129.88 619.08h1.3v1.3h-1.3zM132.5 623.76h1.3v1.3h-1.3zM141.53 617.7h1.3v1.3h-1.3zM115.93 624.73h1.3v1.3h-1.3zM144.83 613.46h1.3v1.3h-1.3zM115.22 625.12h1.3v1.3h-1.3zM145.83 617.59h1.3v1.3h-1.3zM132.81 620.45h1.3v1.3h-1.3zM137.46 615.81h1.3v1.3h-1.3zM135.12 618.08h1.3v1.3h-1.3zM138.35 621.11h1.3v1.3h-1.3zM141.05 615.38h1.3v1.3h-1.3zM138.23 619.64h1.3v1.3h-1.3zM129.12 618.44h1.3v1.3h-1.3zM139.95 618.62h1.3v1.3h-1.3zM135.3 615.34h1.3v1.3h-1.3zM143.34 619.9h1.3v1.3h-1.3zM138.88 608.77h1.3v1.3h-1.3zM133.99 613.89h1.3v1.3h-1.3zM141.51 610.5h1.3v1.3h-1.3zM133.71 617.34h1.3v1.3h-1.3zM119.66 623.96h1.3v1.3h-1.3zM133.68 614.14h1.3v1.3h-1.3zM141.26 609.19h1.3v1.3h-1.3zM141.31 608.19h1.3v1.3h-1.3zM139.68 612.75h1.3v1.3h-1.3zM133.94 620.87h1.3v1.3h-1.3zM139.94 623.62h1.3v1.3h-1.3zM136.03 622.5h1.3v1.3h-1.3zM143.24 623.06h1.3v1.3h-1.3zM139.95 604.64h1.3v1.3h-1.3zM128.74 606.08h1.3v1.3h-1.3zM109.86 621.78h1.3v1.3h-1.3zM131.11 616.51h1.3v1.3h-1.3zM139.48 609.56h1.3v1.3h-1.3zM145.13 605.56h1.3v1.3h-1.3zM128.73 619.05h1.3v1.3h-1.3zM134.65 612.68h1.3v1.3h-1.3zM134.18 601.54h1.3v1.3h-1.3zM139.87 578.71h1.3v1.3h-1.3zM135.23 605.68h1.3v1.3h-1.3zM137.2 611.33h1.3v1.3h-1.3zM142.28 607.47h1.3v1.3h-1.3zM131.9 613.04h1.3v1.3h-1.3zM135.95 606.74h1.3v1.3h-1.3zM128.84 615.93h1.3v1.3h-1.3zM129.56 611.02h1.3v1.3h-1.3zM137.22 600.95h1.3v1.3h-1.3zM127.34 619.04h1.3v1.3h-1.3zM137.93 599.85h1.3v1.3h-1.3zM145.01 612.33h1.3v1.3h-1.3zM122.14 618.83h1.3v1.3h-1.3zM141.82 593.79h1.3v1.3h-1.3zM134.42 607.3h1.3v1.3h-1.3zM122.93 617.72h1.3v1.3h-1.3zM143.69 601.4h1.3v1.3h-1.3zM131.7 616.84h1.3v1.3h-1.3zM139.92 609.19h1.3v1.3h-1.3zM134.22 613.65h1.3v1.3h-1.3zM135.57 609.38h1.3v1.3h-1.3zM138.52 609.69h1.3v1.3h-1.3zM133.8 614.96h1.3v1.3h-1.3zM132.77 598.93h1.3v1.3h-1.3zM130.88 614.32h1.3v1.3h-1.3zM126.43 614.77h1.3v1.3h-1.3zM143.75 606.37h1.3v1.3h-1.3zM135.82 604.86h1.3v1.3h-1.3zM129.05 618.41h1.3v1.3h-1.3zM143.24 602.79h1.3v1.3h-1.3zM129.75 615.87h1.3v1.3h-1.3zM144.14 611.66h1.3v1.3h-1.3zM143.84 612.23h1.3v1.3h-1.3zM143.17 606.91h1.3v1.3h-1.3zM141.96 595.1h1.3v1.3h-1.3zM141.44 608.6h1.3v1.3h-1.3zM130.75 606.61h1.3v1.3h-1.3zM136.38 604.64h1.3v1.3h-1.3zM129.35 616.07h1.3v1.3h-1.3zM129.18 614.32h1.3v1.3h-1.3zM130.72 610.21h1.3v1.3h-1.3zM137.53 606.6h1.3v1.3h-1.3zM119.66 621.67h1.3v1.3h-1.3zM123.27 620.17h1.3v1.3h-1.3zM124.55 617h1.3v1.3h-1.3zM135.75 608.64h1.3v1.3h-1.3zM127.63 615.62h1.3v1.3h-1.3zM130.39 613.38h1.3v1.3h-1.3zM117.92 622.75h1.3v1.3h-1.3zM135.78 608.48h1.3v1.3h-1.3zM144.96 608.04h1.3v1.3h-1.3zM140.38 594.78h1.3v1.3h-1.3zM139.3 610.78h1.3v1.3h-1.3zM136.12 605.24h1.3v1.3h-1.3zM137.81 609.27h1.3v1.3h-1.3zM137.65 611h1.3v1.3h-1.3zM129.66 610.21h1.3v1.3h-1.3zM139.54 601.88h1.3v1.3h-1.3zM137.9 596.65h1.3v1.3h-1.3zM137.51 610.41h1.3v1.3h-1.3zM119.41 619.94h1.3v1.3h-1.3zM143.54 606.23h1.3v1.3h-1.3zM124.39 621.27h1.3v1.3h-1.3zM143.54 611.92h1.3v1.3h-1.3zM135.82 605.6h1.3v1.3h-1.3zM133.99 613.03h1.3v1.3h-1.3zM132.6 614.27h1.3v1.3h-1.3zM136.25 610.76h1.3v1.3h-1.3zM124.06 621.14h1.3v1.3h-1.3zM127.02 611.23h1.3v1.3h-1.3zM131.5 613.75h1.3v1.3h-1.3zM137.61 609.6h1.3v1.3h-1.3zM138.81 597.87h1.3v1.3h-1.3zM143.11 584.65h1.3v1.3h-1.3zM145.36 613.22h1.3v1.3h-1.3zM122.32 619.61h1.3v1.3h-1.3zM124.42 619.2h1.3v1.3h-1.3zM137.87 606.18h1.3v1.3h-1.3zM133.46 609.57h1.3v1.3h-1.3zM145.19 609.12h1.3v1.3h-1.3zM137.96 601.26h1.3v1.3h-1.3zM183.67 622.72h1.3v1.3h-1.3zM159.6 609.29h1.3v1.3h-1.3zM163.59 624.01h1.3v1.3h-1.3zM164.7 607.65h1.3v1.3h-1.3zM172.27 616.92h1.3v1.3h-1.3zM165.7 613.67h1.3v1.3h-1.3zM168.37 612.45h1.3v1.3h-1.3zM189.22 624.6h1.3v1.3h-1.3zM168.23 613.12h1.3v1.3h-1.3zM180.54 622.61h1.3v1.3h-1.3zM159.19 607.06h1.3v1.3h-1.3zM174.67 623.46h1.3v1.3h-1.3zM165.51 615.29h1.3v1.3h-1.3zM168.32 614.59h1.3v1.3h-1.3zM160.6 623.79h1.3v1.3h-1.3zM165.95 610.63h1.3v1.3h-1.3zM159.33 621.13h1.3v1.3h-1.3zM164.64 624.1h1.3v1.3h-1.3zM161 606.87h1.3v1.3h-1.3zM158.64 618.72h1.3v1.3h-1.3zM166.02 620.58h1.3v1.3h-1.3zM164.94 616.98h1.3v1.3h-1.3zM164.03 614.32h1.3v1.3h-1.3zM158.76 620.41h1.3v1.3h-1.3zM172.97 617.04h1.3v1.3h-1.3zM163.19 610.55h1.3v1.3h-1.3zM170.51 616.14h1.3v1.3h-1.3zM163.17 623.06h1.3v1.3h-1.3zM166.04 610.55h1.3v1.3h-1.3zM166.39 618.38h1.3v1.3h-1.3zM156.9 625.1h1.3v1.3h-1.3zM172.6 615.97h1.3v1.3h-1.3zM187.46 623.32h1.3v1.3h-1.3zM168.01 614.31h1.3v1.3h-1.3zM175.93 619.68h1.3v1.3h-1.3zM164.14 607.12h1.3v1.3h-1.3zM166.59 621.46h1.3v1.3h-1.3zM158.55 620.7h1.3v1.3h-1.3zM159.65 623.82h1.3v1.3h-1.3zM162.27 624.09h1.3v1.3h-1.3zM167.86 621.84h1.3v1.3h-1.3zM159.92 621.38h1.3v1.3h-1.3zM173.38 618.87h1.3v1.3h-1.3zM179.33 622.47h1.3v1.3h-1.3zM159.67 612.33h1.3v1.3h-1.3zM159.08 622.76h1.3v1.3h-1.3zM164.01 612.73h1.3v1.3h-1.3zM171.01 615.29h1.3v1.3h-1.3zM167.09 611.35h1.3v1.3h-1.3zM180.03 624.21h1.3v1.3h-1.3zM159.94 619.46h1.3v1.3h-1.3zM172.94 617.82h1.3v1.3h-1.3zM162.09 610.9h1.3v1.3h-1.3zM159.02 615.27h1.3v1.3h-1.3zM166.86 623.23h1.3v1.3h-1.3zM195.01 624.51h1.3v1.3h-1.3zM163.57 606.95h1.3v1.3h-1.3zM164.94 610.79h1.3v1.3h-1.3zM173.01 618.49h1.3v1.3h-1.3zM162.53 620.38h1.3v1.3h-1.3zM174.56 617.45h1.3v1.3h-1.3zM185.92 623.04h1.3v1.3h-1.3zM173.77 617.81h1.3v1.3h-1.3zM171.99 616.91h1.3v1.3h-1.3zM175.01 623.56h1.3v1.3h-1.3zM160.88 608.32h1.3v1.3h-1.3zM166.53 617.14h1.3v1.3h-1.3zM158.3 611.18h1.3v1.3h-1.3zM172.5 623.44h1.3v1.3h-1.3zM160.57 611.44h1.3v1.3h-1.3zM157.58 617.3h1.3v1.3h-1.3zM172.18 620.31h1.3v1.3h-1.3zM162.9 622.31h1.3v1.3h-1.3zM183.6 624.63h1.3v1.3h-1.3zM176.56 618.66h1.3v1.3h-1.3zM164.43 616.11h1.3v1.3h-1.3zM161.28 623.35h1.3v1.3h-1.3zM171.71 619.65h1.3v1.3h-1.3zM161.32 622.71h1.3v1.3h-1.3zM166.61 619.82h1.3v1.3h-1.3zM163.45 613.64h1.3v1.3h-1.3zM184.77 622.03h1.3v1.3h-1.3zM164.47 607.21h1.3v1.3h-1.3zM165.4 610.41h1.3v1.3h-1.3zM162.63 619.06h1.3v1.3h-1.3zM179.59 623.08h1.3v1.3h-1.3zM184.06 624.87h1.3v1.3h-1.3zM158.41 616.52h1.3v1.3h-1.3zM158.3 617.65h1.3v1.3h-1.3zM171.78 618.55h1.3v1.3h-1.3zM165.31 624.54h1.3v1.3h-1.3zM160.85 616.81h1.3v1.3h-1.3zM171.39 620.58h1.3v1.3h-1.3zM162.67 614.93h1.3v1.3h-1.3zM159.28 618.24h1.3v1.3h-1.3zM160.27 609.52h1.3v1.3h-1.3zM173.19 624.19h1.3v1.3h-1.3zM159.29 613.74h1.3v1.3h-1.3zM170.81 617.1h1.3v1.3h-1.3zM174.98 624.44h1.3v1.3h-1.3zM171.09 623.24h1.3v1.3h-1.3zM158.27 624.44h1.3v1.3h-1.3zM158.01 613.03h1.3v1.3h-1.3zM159.35 612.52h1.3v1.3h-1.3zM159.23 616.74h1.3v1.3h-1.3zM183.88 622.41h1.3v1.3h-1.3zM157.19 617.93h1.3v1.3h-1.3zM170.06 616.19h1.3v1.3h-1.3zM191.96 623.6h1.3v1.3h-1.3zM182.19 622.95h1.3v1.3h-1.3zM173.08 617.13h1.3v1.3h-1.3zM172.86 620.21h1.3v1.3h-1.3zM167.81 617.47h1.3v1.3h-1.3zM171.84 623.68h1.3v1.3h-1.3zM166.9 611.72h1.3v1.3h-1.3zM158.85 619.42h1.3v1.3h-1.3zM169.49 613.12h1.3v1.3h-1.3zM169.87 616.54h1.3v1.3h-1.3zM167 610.32h1.3v1.3h-1.3zM160.42 607.56h1.3v1.3h-1.3zM159.79 614.28h1.3v1.3h-1.3zM160.11 609.86h1.3v1.3h-1.3zM166.7 613.62h1.3v1.3h-1.3zM183.16 625.11h1.3v1.3h-1.3zM175.94 623.03h1.3v1.3h-1.3zM167.48 614.15h1.3v1.3h-1.3zM173.13 618.8h1.3v1.3h-1.3zM159.44 607.75h1.3v1.3h-1.3zM178.91 621.78h1.3v1.3h-1.3zM175.9 622.31h1.3v1.3h-1.3zM175.8 619.92h1.3v1.3h-1.3zM161.52 615.4h1.3v1.3h-1.3zM162.82 615.34h1.3v1.3h-1.3zM157.53 614.57h1.3v1.3h-1.3zM170.84 618.59h1.3v1.3h-1.3zM169.62 623.77h1.3v1.3h-1.3zM173.62 617.94h1.3v1.3h-1.3zM192.42 624.85h1.3v1.3h-1.3zM164.42 612.58h1.3v1.3h-1.3zM175.32 619.82h1.3v1.3h-1.3zM169.32 620.33h1.3v1.3h-1.3zM184.78 624.65h1.3v1.3h-1.3zM159.76 608.74h1.3v1.3h-1.3zM158.19 623.96h1.3v1.3h-1.3zM174.46 625.11h1.3v1.3h-1.3zM159.84 623.41h1.3v1.3h-1.3zM168.05 622.13h1.3v1.3h-1.3zM158.22 617.09h1.3v1.3h-1.3zM182.41 624.92h1.3v1.3h-1.3zM159.26 619.4h1.3v1.3h-1.3zM182.82 623.46h1.3v1.3h-1.3zM171.02 615.37h1.3v1.3h-1.3zM173.82 621.49h1.3v1.3h-1.3zM166.63 614.44h1.3v1.3h-1.3zM188.43 623.8h1.3v1.3h-1.3zM159.54 609.21h1.3v1.3h-1.3zM168.57 614.06h1.3v1.3h-1.3zM167.58 617.02h1.3v1.3h-1.3zM161.15 614.84h1.3v1.3h-1.3zM159.25 607.67h1.3v1.3h-1.3zM165.01 608.19h1.3v1.3h-1.3zM166.86 622.19h1.3v1.3h-1.3zM160.86 611.09h1.3v1.3h-1.3zM179.72 621.83h1.3v1.3h-1.3zM163.42 612.58h1.3v1.3h-1.3zM171.44 619.26h1.3v1.3h-1.3zM173.43 618.2h1.3v1.3h-1.3zM170.75 615.25h1.3v1.3h-1.3zM159.9 606.41h1.3v1.3h-1.3zM181.13 622.42h1.3v1.3h-1.3zM159.99 622.54h1.3v1.3h-1.3zM159.49 613.15h1.3v1.3h-1.3zM176.43 621.61h1.3v1.3h-1.3zM159.87 622.59h1.3v1.3h-1.3zM177.25 619.94h1.3v1.3h-1.3zM183.42 623.87h1.3v1.3h-1.3zM159.16 615.81h1.3v1.3h-1.3zM159.08 616.26h1.3v1.3h-1.3zM166.68 624.23h1.3v1.3h-1.3zM164.23 613.27h1.3v1.3h-1.3zM168.68 612.88h1.3v1.3h-1.3zM171.76 624.39h1.3v1.3h-1.3zM161.65 620.87h1.3v1.3h-1.3zM167.65 618.65h1.3v1.3h-1.3zM162.78 607.39h1.3v1.3h-1.3zM178.64 620.9h1.3v1.3h-1.3zM160.94 617.62h1.3v1.3h-1.3zM166.6 623.06h1.3v1.3h-1.3zM181.98 622.33h1.3v1.3h-1.3zM171.04 617.13h1.3v1.3h-1.3zM175.31 624.86h1.3v1.3h-1.3zM183.73 622.61h1.3v1.3h-1.3zM164.83 617.23h1.3v1.3h-1.3zM165.36 620.94h1.3v1.3h-1.3zM161.11 624.8h1.3v1.3h-1.3zM178.92 622.97h1.3v1.3h-1.3zM162.33 614.25h1.3v1.3h-1.3zM169.87 614.46h1.3v1.3h-1.3zM159.08 614.92h1.3v1.3h-1.3zM170.67 621.68h1.3v1.3h-1.3zM157.59 614.96h1.3v1.3h-1.3zM170.08 622.22h1.3v1.3h-1.3zM157.8 624.74h1.3v1.3h-1.3zM159.42 614.56h1.3v1.3h-1.3zM168.37 617.59h1.3v1.3h-1.3zM162.12 613.95h1.3v1.3h-1.3zM166.46 611.71h1.3v1.3h-1.3zM161.24 619.73h1.3v1.3h-1.3zM181.31 624.56h1.3v1.3h-1.3zM187.83 624.99h1.3v1.3h-1.3zM160.89 619.46h1.3v1.3h-1.3zM178.28 621.2h1.3v1.3h-1.3zM163.01 620.13h1.3v1.3h-1.3zM162.82 606.86h1.3v1.3h-1.3zM181.42 621.88h1.3v1.3h-1.3zM169.02 620.95h1.3v1.3h-1.3zM161.89 618.42h1.3v1.3h-1.3zM164.34 621.82h1.3v1.3h-1.3zM167.49 624.39h1.3v1.3h-1.3zM174.51 618.99h1.3v1.3h-1.3zM188.67 623.38h1.3v1.3h-1.3zM160.09 608.95h1.3v1.3h-1.3zM165.73 620.71h1.3v1.3h-1.3zM161.77 618.49h1.3v1.3h-1.3zM168.34 614.94h1.3v1.3h-1.3zM171.91 620.1h1.3v1.3h-1.3zM174.33 622.27h1.3v1.3h-1.3zM163.43 606.5h1.3v1.3h-1.3zM160.13 606.27h1.3v1.3h-1.3zM181.06 623.17h1.3v1.3h-1.3zM163.62 623.19h1.3v1.3h-1.3zM165.48 614.46h1.3v1.3h-1.3zM189.45 623.18h1.3v1.3h-1.3zM179.28 621.24h1.3v1.3h-1.3zM164.01 621.77h1.3v1.3h-1.3zM158.15 612.87h1.3v1.3h-1.3zM172.92 623.08h1.3v1.3h-1.3zM176.06 619.44h1.3v1.3h-1.3zM185.31 623.82h1.3v1.3h-1.3zM160.42 613.76h1.3v1.3h-1.3zM163.94 619.28h1.3v1.3h-1.3zM169.89 613.6h1.3v1.3h-1.3zM173.57 619.99h1.3v1.3h-1.3zM160.68 609.16h1.3v1.3h-1.3zM189.23 624.96h1.3v1.3h-1.3zM165.36 620.7h1.3v1.3h-1.3zM170.62 624.54h1.3v1.3h-1.3zM164.51 610.98h1.3v1.3h-1.3zM160.66 613.44h1.3v1.3h-1.3zM174.81 618.58h1.3v1.3h-1.3zM161.93 612.83h1.3v1.3h-1.3zM164.27 607.68h1.3v1.3h-1.3zM165.1 615.92h1.3v1.3h-1.3zM189.43 624.38h1.3v1.3h-1.3zM162.26 614.08h1.3v1.3h-1.3zM175.69 624.4h1.3v1.3h-1.3zM166.84 617.28h1.3v1.3h-1.3zM182.1 623.87h1.3v1.3h-1.3zM193.08 624.36h1.3v1.3h-1.3zM169.88 615.82h1.3v1.3h-1.3zM190.05 623.75h1.3v1.3h-1.3zM176.62 623.38h1.3v1.3h-1.3zM158.7 610.02h1.3v1.3h-1.3zM164.81 620.45h1.3v1.3h-1.3zM164.89 612.51h1.3v1.3h-1.3zM171.64 617.2h1.3v1.3h-1.3zM162.47 620.24h1.3v1.3h-1.3zM187.41 624.08h1.3v1.3h-1.3zM158.7 609.69h1.3v1.3h-1.3zM160.77 606.95h1.3v1.3h-1.3zM192.89 624.79h1.3v1.3h-1.3zM158.56 611.62h1.3v1.3h-1.3zM160.51 605.18h1.3v1.3h-1.3zM160.93 610.33h1.3v1.3h-1.3zM158.22 614.13h1.3v1.3h-1.3zM164.94 615.9h1.3v1.3h-1.3zM167.23 618.47h1.3v1.3h-1.3zM172.24 617.21h1.3v1.3h-1.3zM170.35 620.79h1.3v1.3h-1.3zM157.55 624.08h1.3v1.3h-1.3zM158.22 614.36h1.3v1.3h-1.3zM182.88 622.79h1.3v1.3h-1.3zM167.56 616.98h1.3v1.3h-1.3zM163.01 622.22h1.3v1.3h-1.3zM172.23 623.49h1.3v1.3h-1.3zM160.71 610.48h1.3v1.3h-1.3zM160.64 622.23h1.3v1.3h-1.3zM161.23 613.12h1.3v1.3h-1.3zM163.71 615.51h1.3v1.3h-1.3zM159.19 621.79h1.3v1.3h-1.3zM161.81 619.12h1.3v1.3h-1.3zM163.59 616.56h1.3v1.3h-1.3zM160.49 616.27h1.3v1.3h-1.3zM166.31 624.6h1.3v1.3h-1.3zM181.53 624.3h1.3v1.3h-1.3zM167.07 619.16h1.3v1.3h-1.3zM190.58 623.52h1.3v1.3h-1.3zM178.4 623.18h1.3v1.3h-1.3zM186.99 622.85h1.3v1.3h-1.3zM167.46 623.34h1.3v1.3h-1.3zM165.82 614.79h1.3v1.3h-1.3zM167.37 620.42h1.3v1.3h-1.3zM158.18 610.99h1.3v1.3h-1.3zM167.06 615.02h1.3v1.3h-1.3zM168.3 623.76h1.3v1.3h-1.3zM184.75 622.31h1.3v1.3h-1.3zM157.12 621.24h1.3v1.3h-1.3zM171.69 621.87h1.3v1.3h-1.3zM157.68 618.16h1.3v1.3h-1.3zM173.71 620.95h1.3v1.3h-1.3zM162.31 618.55h1.3v1.3h-1.3zM171.25 619.05h1.3v1.3h-1.3zM187.38 624.46h1.3v1.3h-1.3zM162.2 605.58h1.3v1.3h-1.3zM161.26 611.15h1.3v1.3h-1.3zM160.28 618.91h1.3v1.3h-1.3zM167.71 612.02h1.3v1.3h-1.3zM161.22 617.42h1.3v1.3h-1.3zM170.95 615.09h1.3v1.3h-1.3zM161.35 608.95h1.3v1.3h-1.3zM170.3 622.31h1.3v1.3h-1.3zM169.28 620.06h1.3v1.3h-1.3zM163.98 611.36h1.3v1.3h-1.3zM195.77 624.27h1.3v1.3h-1.3zM160.8 605.04h1.3v1.3h-1.3zM164.01 615.14h1.3v1.3h-1.3zM188.52 624.54h1.3v1.3h-1.3zM161.23 616.94h1.3v1.3h-1.3zM165.02 612.62h1.3v1.3h-1.3zM177.85 621.59h1.3v1.3h-1.3zM173.91 617.61h1.3v1.3h-1.3zM162.92 613.62h1.3v1.3h-1.3zM159.59 610.61h1.3v1.3h-1.3zM162.49 621.32h1.3v1.3h-1.3zM182.31 623.73h1.3v1.3h-1.3zM172.94 622.59h1.3v1.3h-1.3zM167.02 617.5h1.3v1.3h-1.3zM160.9 618.17h1.3v1.3h-1.3zM170.81 622.13h1.3v1.3h-1.3zM184.52 624.13h1.3v1.3h-1.3zM169.51 614.47h1.3v1.3h-1.3zM163.23 617.55h1.3v1.3h-1.3zM157.68 619.9h1.3v1.3h-1.3zM177.42 622.58h1.3v1.3h-1.3zM162.99 619.58h1.3v1.3h-1.3zM172.14 616.64h1.3v1.3h-1.3zM162.25 619.2h1.3v1.3h-1.3zM167.75 616.31h1.3v1.3h-1.3zM186.26 624.39h1.3v1.3h-1.3zM173.61 624.41h1.3v1.3h-1.3zM176.09 618.48h1.3v1.3h-1.3zM159.81 609.42h1.3v1.3h-1.3zM170.94 619.63h1.3v1.3h-1.3zM184.6 623.68h1.3v1.3h-1.3zM160.66 612.42h1.3v1.3h-1.3zM165.16 609.2h1.3v1.3h-1.3zM163.09 606.47h1.3v1.3h-1.3zM175.44 618.97h1.3v1.3h-1.3zM160.13 610.14h1.3v1.3h-1.3zM167.29 611.49h1.3v1.3h-1.3zM166.17 619.04h1.3v1.3h-1.3zM161.21 613.45h1.3v1.3h-1.3zM161.9 615.97h1.3v1.3h-1.3zM168.53 617.01h1.3v1.3h-1.3zM164.41 611.56h1.3v1.3h-1.3zM171.98 620.11h1.3v1.3h-1.3zM161.44 609.44h1.3v1.3h-1.3zM161.76 612.36h1.3v1.3h-1.3zM158.63 609.6h1.3v1.3h-1.3zM169.89 616.98h1.3v1.3h-1.3zM167.99 623.39h1.3v1.3h-1.3zM169.74 613.29h1.3v1.3h-1.3zM161.2 618.73h1.3v1.3h-1.3zM156.88 624.01h1.3v1.3h-1.3zM165.63 610.93h1.3v1.3h-1.3zM158.24 609.05h1.3v1.3h-1.3zM174.87 617.5h1.3v1.3h-1.3zM175.56 622.47h1.3v1.3h-1.3zM161.06 613.04h1.3v1.3h-1.3zM166.76 624.54h1.3v1.3h-1.3zM181.81 624.43h1.3v1.3h-1.3zM162.65 614.31h1.3v1.3h-1.3zM167.33 622.39h1.3v1.3h-1.3zM157.59 616.69h1.3v1.3h-1.3zM184.3 623.42h1.3v1.3h-1.3zM157.45 620.92h1.3v1.3h-1.3zM167.29 612.7h1.3v1.3h-1.3zM162.32 615.57h1.3v1.3h-1.3zM158.29 611.06h1.3v1.3h-1.3zM164.29 612.53h1.3v1.3h-1.3zM176.63 619.48h1.3v1.3h-1.3zM159.98 614h1.3v1.3h-1.3zM195.33 624.9h1.3v1.3h-1.3zM157.97 618.52h1.3v1.3h-1.3zM160.22 615.1h1.3v1.3h-1.3zM163.47 606.86h1.3v1.3h-1.3zM165.4 616.36h1.3v1.3h-1.3zM166.75 619.89h1.3v1.3h-1.3zM181 623.19h1.3v1.3h-1.3zM160.88 614.06h1.3v1.3h-1.3zM182.42 624.17h1.3v1.3h-1.3zM185.3 623.45h1.3v1.3h-1.3zM168.86 618.13h1.3v1.3h-1.3zM181.21 621.84h1.3v1.3h-1.3zM166.3 614.62h1.3v1.3h-1.3zM157.92 619.43h1.3v1.3h-1.3zM167.68 616.34h1.3v1.3h-1.3zM164.77 609.54h1.3v1.3h-1.3zM188.87 623.89h1.3v1.3h-1.3zM164.87 619.18h1.3v1.3h-1.3zM163.1 616.88h1.3v1.3h-1.3zM165.46 614.67h1.3v1.3h-1.3zM187.55 624.83h1.3v1.3h-1.3zM170.74 619.09h1.3v1.3h-1.3zM174.24 623.55h1.3v1.3h-1.3zM190.33 624h1.3v1.3h-1.3zM158.26 608.95h1.3v1.3h-1.3zM174.59 622.49h1.3v1.3h-1.3zM175.17 621.05h1.3v1.3h-1.3zM179.37 622.29h1.3v1.3h-1.3zM162.51 615.34h1.3v1.3h-1.3zM176.66 619.42h1.3v1.3h-1.3zM177.55 621.55h1.3v1.3h-1.3zM160.07 610.36h1.3v1.3h-1.3zM181.63 621.36h1.3v1.3h-1.3zM158.7 618.4h1.3v1.3h-1.3zM170.19 621.45h1.3v1.3h-1.3zM172.52 619.76h1.3v1.3h-1.3zM169.39 617.78h1.3v1.3h-1.3zM158.66 613.73h1.3v1.3h-1.3zM171.83 623.48h1.3v1.3h-1.3zM167.82 616.52h1.3v1.3h-1.3zM167.01 610.55h1.3v1.3h-1.3zM157.57 620.55h1.3v1.3h-1.3zM159.99 612.09h1.3v1.3h-1.3zM171.33 614.81h1.3v1.3h-1.3zM187.55 623.74h1.3v1.3h-1.3zM169.82 621.01h1.3v1.3h-1.3zM160.54 624h1.3v1.3h-1.3zM188.72 623.14h1.3v1.3h-1.3zM172.07 619.09h1.3v1.3h-1.3zM158.85 609.04h1.3v1.3h-1.3zM174.99 619.32h1.3v1.3h-1.3zM161.99 606.28h1.3v1.3h-1.3zM162.01 608.37h1.3v1.3h-1.3zM163.93 610.59h1.3v1.3h-1.3zM188.2 623.78h1.3v1.3h-1.3zM182.57 623.32h1.3v1.3h-1.3zM162.41 609.72h1.3v1.3h-1.3zM162.79 606.67h1.3v1.3h-1.3zM176.48 620.49h1.3v1.3h-1.3zM162.75 616.85h1.3v1.3h-1.3zM186.21 622.56h1.3v1.3h-1.3zM163.12 614.62h1.3v1.3h-1.3zM179.57 624.09h1.3v1.3h-1.3zM170.85 623.66h1.3v1.3h-1.3zM158.72 624.48h1.3v1.3h-1.3zM168.64 619.35h1.3v1.3h-1.3zM157.63 616.22h1.3v1.3h-1.3zM170.22 614.32h1.3v1.3h-1.3zM168.93 613.19h1.3v1.3h-1.3zM161.25 609.22h1.3v1.3h-1.3zM192.79 624.07h1.3v1.3h-1.3zM180.1 622.41h1.3v1.3h-1.3zM173.7 618.82h1.3v1.3h-1.3zM164.32 608.4h1.3v1.3h-1.3zM163.81 624.34h1.3v1.3h-1.3zM167.66 617.2h1.3v1.3h-1.3zM184.75 623.76h1.3v1.3h-1.3zM165.9 609.28h1.3v1.3h-1.3zM172.67 616.84h1.3v1.3h-1.3zM162.46 620.41h1.3v1.3h-1.3zM158.61 619.32h1.3v1.3h-1.3zM159.13 618.01h1.3v1.3h-1.3zM166.99 618.99h1.3v1.3h-1.3zM163.24 617.98h1.3v1.3h-1.3zM165.89 611.6h1.3v1.3h-1.3zM176.26 618.92h1.3v1.3h-1.3zM184.26 623.82h1.3v1.3h-1.3zM172.65 620.95h1.3v1.3h-1.3zM160.16 606.04h1.3v1.3h-1.3zM180.15 621.52h1.3v1.3h-1.3zM160.51 607.74h1.3v1.3h-1.3zM189.24 623.35h1.3v1.3h-1.3zM159.1 620.59h1.3v1.3h-1.3zM171.26 617.97h1.3v1.3h-1.3zM181.13 624.84h1.3v1.3h-1.3zM160.94 619.94h1.3v1.3h-1.3zM171.07 615.67h1.3v1.3h-1.3zM180.9 622.71h1.3v1.3h-1.3zM166.17 610.89h1.3v1.3h-1.3zM177.76 620.62h1.3v1.3h-1.3zM163.29 607.19h1.3v1.3h-1.3zM166.81 621.45h1.3v1.3h-1.3zM164.19 621.9h1.3v1.3h-1.3zM158.4 622.31h1.3v1.3h-1.3zM165.35 611.48h1.3v1.3h-1.3zM171.95 619.03h1.3v1.3h-1.3zM184.19 624.41h1.3v1.3h-1.3zM161.56 607.05h1.3v1.3h-1.3zM182.61 623.48h1.3v1.3h-1.3zM196.78 624.66h1.3v1.3h-1.3zM163.13 624.04h1.3v1.3h-1.3zM187.51 624.89h1.3v1.3h-1.3zM199.34 624.93h1.3v1.3h-1.3zM166.88 616.27h1.3v1.3h-1.3zM166.94 618.48h1.3v1.3h-1.3zM165.17 613.01h1.3v1.3h-1.3zM164.7 612.62h1.3v1.3h-1.3zM159.05 614.32h1.3v1.3h-1.3zM169.7 619.09h1.3v1.3h-1.3zM164.7 614.93h1.3v1.3h-1.3zM165.19 614.72h1.3v1.3h-1.3zM165.29 614.11h1.3v1.3h-1.3zM186.98 623.68h1.3v1.3h-1.3zM169.87 623.63h1.3v1.3h-1.3zM170.04 613.41h1.3v1.3h-1.3zM162.22 624.11h1.3v1.3h-1.3zM162.19 616.68h1.3v1.3h-1.3zM159.04 622.99h1.3v1.3h-1.3zM172.19 615.52h1.3v1.3h-1.3zM172.65 623.01h1.3v1.3h-1.3zM173.77 624.53h1.3v1.3h-1.3zM160.18 609.11h1.3v1.3h-1.3zM157.68 614.28h1.3v1.3h-1.3zM179.69 620.47h1.3v1.3h-1.3zM167.04 613.75h1.3v1.3h-1.3zM157.8 621.26h1.3v1.3h-1.3zM162.39 610.66h1.3v1.3h-1.3zM171.9 616.89h1.3v1.3h-1.3zM159.62 620.99h1.3v1.3h-1.3zM159.93 612.27h1.3v1.3h-1.3zM166.89 621.56h1.3v1.3h-1.3zM174.25 622.33h1.3v1.3h-1.3zM160.5 607.94h1.3v1.3h-1.3zM166.68 613.43h1.3v1.3h-1.3zM164.76 618.76h1.3v1.3h-1.3zM194.43 624.85h1.3v1.3h-1.3zM190.29 623.48h1.3v1.3h-1.3zM165.69 608.36h1.3v1.3h-1.3zM165.35 617.99h1.3v1.3h-1.3zM194.61 624.2h1.3v1.3h-1.3zM161.61 619.34h1.3v1.3h-1.3zM158 615.96h1.3v1.3h-1.3zM164.1 620.31h1.3v1.3h-1.3zM170.33 621.25h1.3v1.3h-1.3zM169.77 623.72h1.3v1.3h-1.3zM178.56 620.02h1.3v1.3h-1.3zM158.93 615.08h1.3v1.3h-1.3zM160.06 618.14h1.3v1.3h-1.3zM162.03 623.01h1.3v1.3h-1.3zM159.48 606.89h1.3v1.3h-1.3zM169.47 624.11h1.3v1.3h-1.3zM158.05 622.48h1.3v1.3h-1.3zM162.57 623.03h1.3v1.3h-1.3zM174.5 619.45h1.3v1.3h-1.3zM166.3 620.37h1.3v1.3h-1.3zM188.57 623.05h1.3v1.3h-1.3zM165.46 609.81h1.3v1.3h-1.3zM167.41 620.45h1.3v1.3h-1.3zM171.45 615.23h1.3v1.3h-1.3zM169.88 615.74h1.3v1.3h-1.3zM171.19 624.02h1.3v1.3h-1.3zM161.3 618.42h1.3v1.3h-1.3zM162.23 624.11h1.3v1.3h-1.3zM162.57 621.31h1.3v1.3h-1.3zM164.16 609.47h1.3v1.3h-1.3zM185.21 623.53h1.3v1.3h-1.3zM166.58 609.6h1.3v1.3h-1.3zM166.3 614.66h1.3v1.3h-1.3zM188.07 624.46h1.3v1.3h-1.3zM157.99 617.92h1.3v1.3h-1.3zM166.74 623.23h1.3v1.3h-1.3zM195.88 624.8h1.3v1.3h-1.3zM160.14 606.64h1.3v1.3h-1.3zM161.05 609.14h1.3v1.3h-1.3zM168.58 622.69h1.3v1.3h-1.3zM160.9 622.45h1.3v1.3h-1.3zM169.57 617.23h1.3v1.3h-1.3zM162.8 617.89h1.3v1.3h-1.3zM167.28 610.55h1.3v1.3h-1.3zM199.69 624.65h1.3v1.3h-1.3zM160.97 616.51h1.3v1.3h-1.3zM165.21 621.71h1.3v1.3h-1.3zM190.13 623.37h1.3v1.3h-1.3zM171.93 616.76h1.3v1.3h-1.3zM162.71 607.92h1.3v1.3h-1.3zM158.14 615.77h1.3v1.3h-1.3zM168.21 624.42h1.3v1.3h-1.3zM188.95 624.35h1.3v1.3h-1.3zM161.73 619.15h1.3v1.3h-1.3zM183.47 622.89h1.3v1.3h-1.3zM166.15 610.52h1.3v1.3h-1.3zM159.78 614.33h1.3v1.3h-1.3zM170.82 618.82h1.3v1.3h-1.3zM158.26 619.13h1.3v1.3h-1.3zM174.98 619.38h1.3v1.3h-1.3zM160.51 612.87h1.3v1.3h-1.3zM158.74 615h1.3v1.3h-1.3zM167.11 620.06h1.3v1.3h-1.3zM211.17 624.33h1.3v1.3h-1.3zM162.74 598.64h1.3v1.3h-1.3zM189.87 619.05h1.3v1.3h-1.3zM166.41 601.62h1.3v1.3h-1.3zM176 618.49h1.3v1.3h-1.3zM157.68 608.67h1.3v1.3h-1.3zM161.83 608.24h1.3v1.3h-1.3zM189.59 622.61h1.3v1.3h-1.3zM163.14 578.36h1.3v1.3h-1.3zM196.23 623.73h1.3v1.3h-1.3zM203.05 622.61h1.3v1.3h-1.3zM160.82 607.33h1.3v1.3h-1.3zM167.71 600.66h1.3v1.3h-1.3zM210.32 621.77h1.3v1.3h-1.3zM163.02 601.78h1.3v1.3h-1.3zM161.19 598.82h1.3v1.3h-1.3zM178.72 619.74h1.3v1.3h-1.3zM174.64 607.45h1.3v1.3h-1.3zM161.28 593.04h1.3v1.3h-1.3zM158.03 609.19h1.3v1.3h-1.3zM159.4 606.72h1.3v1.3h-1.3zM158.17 578.73h1.3v1.3h-1.3zM158.67 609.21h1.3v1.3h-1.3zM168.3 613.86h1.3v1.3h-1.3zM174.58 618.05h1.3v1.3h-1.3zM162.22 608.21h1.3v1.3h-1.3zM177.13 613.5h1.3v1.3h-1.3zM167.29 609.95h1.3v1.3h-1.3zM160.89 596.74h1.3v1.3h-1.3zM165.68 608.94h1.3v1.3h-1.3zM157.71 605.73h1.3v1.3h-1.3zM167.24 603.97h1.3v1.3h-1.3zM164.77 594.64h1.3v1.3h-1.3zM158.52 605.54h1.3v1.3h-1.3zM158.91 578.43h1.3v1.3h-1.3zM159.87 608.45h1.3v1.3h-1.3zM167.15 612.35h1.3v1.3h-1.3zM168.47 613.51h1.3v1.3h-1.3zM160.16 592.55h1.3v1.3h-1.3zM171.92 616.47h1.3v1.3h-1.3zM161.42 605.23h1.3v1.3h-1.3zM164.1 607.35h1.3v1.3h-1.3zM189 623.13h1.3v1.3h-1.3zM169.04 610.47h1.3v1.3h-1.3zM172.85 616.11h1.3v1.3h-1.3zM182.46 615.74h1.3v1.3h-1.3zM161.57 606.31h1.3v1.3h-1.3zM169.85 612.84h1.3v1.3h-1.3zM159.08 599h1.3v1.3h-1.3zM162.75 602.52h1.3v1.3h-1.3zM166.93 606.04h1.3v1.3h-1.3zM182.26 620.24h1.3v1.3h-1.3zM210.75 622.99h1.3v1.3h-1.3zM176.88 611.5h1.3v1.3h-1.3zM184.14 619.07h1.3v1.3h-1.3zM159.28 608.31h1.3v1.3h-1.3zM178.48 619.74h1.3v1.3h-1.3zM181 620.42h1.3v1.3h-1.3zM156.91 607.35h1.3v1.3h-1.3zM189.4 622.76h1.3v1.3h-1.3zM172.93 610.56h1.3v1.3h-1.3zM170.73 610.03h1.3v1.3h-1.3zM163.36 595.51h1.3v1.3h-1.3zM177.93 613.85h1.3v1.3h-1.3zM165.54 600.98h1.3v1.3h-1.3zM163.69 601.51h1.3v1.3h-1.3zM181.15 621.17h1.3v1.3h-1.3zM159.54 606.8h1.3v1.3h-1.3zM160.43 596.82h1.3v1.3h-1.3zM160.11 602.08h1.3v1.3h-1.3zM171.3 612.3h1.3v1.3h-1.3zM165.97 589.8h1.3v1.3h-1.3zM166.93 605.35h1.3v1.3h-1.3zM163.5 606.94h1.3v1.3h-1.3zM186.86 621.63h1.3v1.3h-1.3zM170.44 614.89h1.3v1.3h-1.3zM163.94 599.01h1.3v1.3h-1.3zM159.22 605h1.3v1.3h-1.3zM203.27 624.02h1.3v1.3h-1.3zM164.83 577.19h1.3v1.3h-1.3zM164.16 609.11h1.3v1.3h-1.3zM165.56 609.68h1.3v1.3h-1.3zM173.4 601.21h1.3v1.3h-1.3zM193.89 622.57h1.3v1.3h-1.3zM174.4 614.66h1.3v1.3h-1.3zM164.75 609.41h1.3v1.3h-1.3zM172.47 616.09h1.3v1.3h-1.3zM175.3 618.5h1.3v1.3h-1.3zM177.05 619.51h1.3v1.3h-1.3zM181.18 620.72h1.3v1.3h-1.3zM174 616.42h1.3v1.3h-1.3zM209.84 623.91h1.3v1.3h-1.3zM180.5 613.12h1.3v1.3h-1.3zM164.49 582.08h1.3v1.3h-1.3zM187.2 613.05h1.3v1.3h-1.3zM185.31 622.37h1.3v1.3h-1.3zM208.26 621.7h1.3v1.3h-1.3zM165 600.8h1.3v1.3h-1.3zM168.1 609.75h1.3v1.3h-1.3zM166.24 610.69h1.3v1.3h-1.3zM168.55 611.01h1.3v1.3h-1.3zM175.52 618.26h1.3v1.3h-1.3zM179.12 619.69h1.3v1.3h-1.3zM159.31 609.06h1.3v1.3h-1.3zM182.74 618.19h1.3v1.3h-1.3zM161.58 607.05h1.3v1.3h-1.3zM171.77 615.48h1.3v1.3h-1.3zM190.32 620.39h1.3v1.3h-1.3zM164.21 607.3h1.3v1.3h-1.3zM160.22 599.83h1.3v1.3h-1.3zM166.6 601.77h1.3v1.3h-1.3zM161.14 603.83h1.3v1.3h-1.3zM163.33 607.76h1.3v1.3h-1.3zM167.4 611.19h1.3v1.3h-1.3zM164.59 603.3h1.3v1.3h-1.3zM158.36 610.35h1.3v1.3h-1.3zM165.27 602.6h1.3v1.3h-1.3zM160.26 603.26h1.3v1.3h-1.3zM172.99 612.92h1.3v1.3h-1.3zM180.63 617.94h1.3v1.3h-1.3zM139.64 617.83h1.3v1.3h-1.3zM139.98 622.82h1.3v1.3h-1.3zM135.64 609.33h1.3v1.3h-1.3zM140.25 623.55h1.3v1.3h-1.3zM135.01 611.53h1.3v1.3h-1.3zM136.59 607.54h1.3v1.3h-1.3zM116.2 597.59h1.3v1.3h-1.3zM135.42 603.39h1.3v1.3h-1.3zM136.26 614.91h1.3v1.3h-1.3zM142.24 621.15h1.3v1.3h-1.3zM140.03 621.41h1.3v1.3h-1.3zM141.35 622.93h1.3v1.3h-1.3zM143.45 618.27h1.3v1.3h-1.3zM138.82 610.23h1.3v1.3h-1.3zM131.64 599.51h1.3v1.3h-1.3zM120.43 622.36h1.3v1.3h-1.3zM133.82 601.99h1.3v1.3h-1.3zM143.69 623.8h1.3v1.3h-1.3zM144.34 623.45h1.3v1.3h-1.3zM115.21 592.48h1.3v1.3h-1.3zM143.01 625.03h1.3v1.3h-1.3zM143.42 613.48h1.3v1.3h-1.3zM140.65 616.35h1.3v1.3h-1.3zM140.09 618.77h1.3v1.3h-1.3zM134.46 602.28h1.3v1.3h-1.3zM143.88 620.39h1.3v1.3h-1.3zM132.04 604.49h1.3v1.3h-1.3zM134.68 619.77h1.3v1.3h-1.3zM144.28 622.88h1.3v1.3h-1.3zM136.34 605.58h1.3v1.3h-1.3zM135.67 612.63h1.3v1.3h-1.3zM139.72 612.16h1.3v1.3h-1.3zM109.47 609.53h1.3v1.3h-1.3zM134.25 613.47h1.3v1.3h-1.3zM141.62 610.9h1.3v1.3h-1.3zM143.77 620.34h1.3v1.3h-1.3zM118.75 605.6h1.3v1.3h-1.3zM139.61 622.26h1.3v1.3h-1.3zM139.89 612.36h1.3v1.3h-1.3zM133.11 610.31h1.3v1.3h-1.3zM114.57 613.58h1.3v1.3h-1.3zM141.2 615.77h1.3v1.3h-1.3zM117.99 600.01h1.3v1.3h-1.3zM125.07 596.5h1.3v1.3h-1.3zM144.33 617.66h1.3v1.3h-1.3zM141.73 615.09h1.3v1.3h-1.3zM129.07 601.17h1.3v1.3h-1.3zM142.43 620.49h1.3v1.3h-1.3zM142.84 613.52h1.3v1.3h-1.3zM132.35 611.6h1.3v1.3h-1.3zM136.6 609.84h1.3v1.3h-1.3zM138.5 622.54h1.3v1.3h-1.3zM113.75 597.12h1.3v1.3h-1.3zM137.71 614.72h1.3v1.3h-1.3zM142.23 622.39h1.3v1.3h-1.3zM144 617.06h1.3v1.3h-1.3zM127.78 618.53h1.3v1.3h-1.3zM142.39 619.57h1.3v1.3h-1.3zM141.21 613.3h1.3v1.3h-1.3zM141.71 621.92h1.3v1.3h-1.3zM139.36 609.52h1.3v1.3h-1.3zM132.09 622.98h1.3v1.3h-1.3zM143.04 624.65h1.3v1.3h-1.3zM133.5 609.63h1.3v1.3h-1.3zM142.73 621.85h1.3v1.3h-1.3zM125.46 624.1h1.3v1.3h-1.3zM131.4 602.57h1.3v1.3h-1.3zM133.93 618.68h1.3v1.3h-1.3zM131.09 599.15h1.3v1.3h-1.3zM136.39 612.5h1.3v1.3h-1.3zM135.36 603.6h1.3v1.3h-1.3zM108.1 601.79h1.3v1.3h-1.3zM137.85 623.38h1.3v1.3h-1.3zM137.86 617.77h1.3v1.3h-1.3zM133.17 614.1h1.3v1.3h-1.3zM141.78 622.78h1.3v1.3h-1.3zM130.72 610.25h1.3v1.3h-1.3zM129.86 620.88h1.3v1.3h-1.3zM138.65 623.57h1.3v1.3h-1.3zM142.65 620.9h1.3v1.3h-1.3zM141.34 609.7h1.3v1.3h-1.3zM143.43 618.88h1.3v1.3h-1.3zM143.58 613.32h1.3v1.3h-1.3zM143.46 613.67h1.3v1.3h-1.3zM140.76 620.1h1.3v1.3h-1.3zM143.52 617.27h1.3v1.3h-1.3zM143.8 616.85h1.3v1.3h-1.3zM136.94 620.47h1.3v1.3h-1.3zM134.06 608.51h1.3v1.3h-1.3zM143.88 613.21h1.3v1.3h-1.3zM123.72 596.51h1.3v1.3h-1.3zM118.86 614.52h1.3v1.3h-1.3zM143.17 619.92h1.3v1.3h-1.3zM119.63 601.15h1.3v1.3h-1.3zM143.39 615.28h1.3v1.3h-1.3zM128.05 612.34h1.3v1.3h-1.3zM134.09 603.9h1.3v1.3h-1.3zM139.04 610.74h1.3v1.3h-1.3zM136.11 608.18h1.3v1.3h-1.3zM125.75 621.53h1.3v1.3h-1.3zM142.46 617.19h1.3v1.3h-1.3zM140.28 620.96h1.3v1.3h-1.3zM144.55 620.38h1.3v1.3h-1.3zM83.05 612.07h1.3v1.3h-1.3zM142.13 620.37h1.3v1.3h-1.3zM135.38 624.75h1.3v1.3h-1.3zM142.69 618.29h1.3v1.3h-1.3zM140.02 613.52h1.3v1.3h-1.3zM143.16 624.54h1.3v1.3h-1.3zM120.21 598.11h1.3v1.3h-1.3zM134.23 611.55h1.3v1.3h-1.3zM142.41 623.53h1.3v1.3h-1.3zM138.66 612.72h1.3v1.3h-1.3zM138.34 616.4h1.3v1.3h-1.3zM143.72 612.48h1.3v1.3h-1.3zM141.82 620h1.3v1.3h-1.3zM128.19 595.06h1.3v1.3h-1.3zM139.96 618.17h1.3v1.3h-1.3zM126.26 610.51h1.3v1.3h-1.3zM143.29 622.83h1.3v1.3h-1.3zM140.43 625.03h1.3v1.3h-1.3zM143.9 613.53h1.3v1.3h-1.3zM126.6 597.97h1.3v1.3h-1.3zM140.93 620.33h1.3v1.3h-1.3zM116.68 623.95h1.3v1.3h-1.3zM138.88 619.35h1.3v1.3h-1.3zM130.94 606.8h1.3v1.3h-1.3zM93.26 588.58h1.3v1.3h-1.3zM135.21 603.76h1.3v1.3h-1.3zM135.44 621.54h1.3v1.3h-1.3zM137.45 620.73h1.3v1.3h-1.3zM120.55 595.91h1.3v1.3h-1.3zM143.47 616.9h1.3v1.3h-1.3zM134.22 606.9h1.3v1.3h-1.3zM142.97 617.58h1.3v1.3h-1.3zM143.39 620.09h1.3v1.3h-1.3zM140.06 619.91h1.3v1.3h-1.3zM139.3 616.62h1.3v1.3h-1.3zM143.37 618.64h1.3v1.3h-1.3zM143.77 616.35h1.3v1.3h-1.3zM144.18 619.67h1.3v1.3h-1.3zM144.51 615.79h1.3v1.3h-1.3zM115.97 598.36h1.3v1.3h-1.3zM138.47 617.24h1.3v1.3h-1.3zM130.47 623.71h1.3v1.3h-1.3zM140.16 617.72h1.3v1.3h-1.3zM142.65 619.3h1.3v1.3h-1.3zM140.23 623.4h1.3v1.3h-1.3zM135.66 616.53h1.3v1.3h-1.3zM143.21 618.44h1.3v1.3h-1.3zM141.99 617.19h1.3v1.3h-1.3zM140.71 613.62h1.3v1.3h-1.3zM135.43 625.03h1.3v1.3h-1.3zM140.45 612.62h1.3v1.3h-1.3zM140.44 612.37h1.3v1.3h-1.3zM124.76 592.1h1.3v1.3h-1.3zM130.62 614.59h1.3v1.3h-1.3zM138.01 623.98h1.3v1.3h-1.3zM141.07 621.73h1.3v1.3h-1.3zM128.56 601.43h1.3v1.3h-1.3zM134.59 607.44h1.3v1.3h-1.3zM138.92 613.84h1.3v1.3h-1.3zM140.14 624.94h1.3v1.3h-1.3zM137.15 606.86h1.3v1.3h-1.3zM137.67 606.78h1.3v1.3h-1.3zM139.66 621.53h1.3v1.3h-1.3zM142.82 619.79h1.3v1.3h-1.3zM140.84 623.86h1.3v1.3h-1.3zM140.8 609.1h1.3v1.3h-1.3zM129.4 614.23h1.3v1.3h-1.3zM141.87 618.31h1.3v1.3h-1.3zM140.5 615.34h1.3v1.3h-1.3zM141.26 615.8h1.3v1.3h-1.3zM129.99 618.56h1.3v1.3h-1.3zM142.05 617.25h1.3v1.3h-1.3zM136.04 605.62h1.3v1.3h-1.3zM127.8 612.19h1.3v1.3h-1.3zM137.74 609.6h1.3v1.3h-1.3zM135.99 623.26h1.3v1.3h-1.3zM139.74 623.69h1.3v1.3h-1.3zM133.46 605.96h1.3v1.3h-1.3zM134.45 624.3h1.3v1.3h-1.3zM139.36 624.9h1.3v1.3h-1.3zM133.05 606.42h1.3v1.3h-1.3zM142.31 614.95h1.3v1.3h-1.3zM144.04 623.77h1.3v1.3h-1.3zM118.43 619h1.3v1.3h-1.3zM134.09 602.04h1.3v1.3h-1.3zM130 613.43h1.3v1.3h-1.3zM138.96 618.65h1.3v1.3h-1.3zM142.87 614.27h1.3v1.3h-1.3zM137.21 609.7h1.3v1.3h-1.3zM138.02 621.47h1.3v1.3h-1.3zM141.56 623.81h1.3v1.3h-1.3zM131.84 613h1.3v1.3h-1.3zM139.68 607.34h1.3v1.3h-1.3zM140.02 619.89h1.3v1.3h-1.3zM142.03 621.73h1.3v1.3h-1.3zM141.7 617.97h1.3v1.3h-1.3zM139.11 617.4h1.3v1.3h-1.3zM183.42 612.33h1.3v1.3h-1.3zM171.22 611.6h1.3v1.3h-1.3zM199.41 600.86h1.3v1.3h-1.3zM195.54 611.8h1.3v1.3h-1.3zM161.16 622.32h1.3v1.3h-1.3zM182.08 621.86h1.3v1.3h-1.3zM162.95 608.51h1.3v1.3h-1.3zM159.06 614.9h1.3v1.3h-1.3zM165.14 621.29h1.3v1.3h-1.3zM198.98 587.53h1.3v1.3h-1.3zM161.5 623.43h1.3v1.3h-1.3zM169.48 623.83h1.3v1.3h-1.3zM198.97 613.26h1.3v1.3h-1.3zM163.47 624.41h1.3v1.3h-1.3zM167.53 612.23h1.3v1.3h-1.3zM160.05 614.17h1.3v1.3h-1.3zM168.23 604.14h1.3v1.3h-1.3zM193.45 586.93h1.3v1.3h-1.3zM166.24 618.28h1.3v1.3h-1.3zM172.35 614.35h1.3v1.3h-1.3zM166.65 620.46h1.3v1.3h-1.3zM160.41 623.93h1.3v1.3h-1.3zM172.22 597.03h1.3v1.3h-1.3zM214.46 615.85h1.3v1.3h-1.3zM161.36 624.09h1.3v1.3h-1.3zM159.7 612.22h1.3v1.3h-1.3zM164.1 618.55h1.3v1.3h-1.3zM161.2 613.26h1.3v1.3h-1.3zM161.12 608.08h1.3v1.3h-1.3zM158.48 611.54h1.3v1.3h-1.3zM165.53 616.28h1.3v1.3h-1.3zM167.89 620.4h1.3v1.3h-1.3zM192.88 604.58h1.3v1.3h-1.3zM169.16 601.62h1.3v1.3h-1.3zM173.29 598.69h1.3v1.3h-1.3zM159.92 621.16h1.3v1.3h-1.3zM161.49 616.8h1.3v1.3h-1.3zM162.4 607.93h1.3v1.3h-1.3zM161.44 619.14h1.3v1.3h-1.3zM165.41 619.21h1.3v1.3h-1.3zM175.44 610.02h1.3v1.3h-1.3zM180.4 613.3h1.3v1.3h-1.3zM183.48 589.01h1.3v1.3h-1.3zM165.37 603.71h1.3v1.3h-1.3zM194.92 617.55h1.3v1.3h-1.3zM169.36 601.45h1.3v1.3h-1.3zM161.79 609.22h1.3v1.3h-1.3zM163.21 608.9h1.3v1.3h-1.3zM164.78 604.18h1.3v1.3h-1.3zM187.5 610.98h1.3v1.3h-1.3zM158.33 616.83h1.3v1.3h-1.3zM169.85 618.45h1.3v1.3h-1.3zM192.8 609.23h1.3v1.3h-1.3zM168.69 620.53h1.3v1.3h-1.3zM176.54 607.82h1.3v1.3h-1.3zM160.36 609.23h1.3v1.3h-1.3zM162.7 623.23h1.3v1.3h-1.3zM176.11 612.35h1.3v1.3h-1.3zM181.07 610.02h1.3v1.3h-1.3zM169.46 606.22h1.3v1.3h-1.3zM187.17 619.92h1.3v1.3h-1.3zM159.81 618.25h1.3v1.3h-1.3zM160.48 611.99h1.3v1.3h-1.3zM163.99 618.85h1.3v1.3h-1.3zM159.4 621.69h1.3v1.3h-1.3zM164.45 620.58h1.3v1.3h-1.3zM161.47 621.03h1.3v1.3h-1.3zM176.17 622.15h1.3v1.3h-1.3zM167.99 609.45h1.3v1.3h-1.3zM158.46 613.43h1.3v1.3h-1.3zM177.99 617.99h1.3v1.3h-1.3zM158.99 624.39h1.3v1.3h-1.3zM187.16 624.05h1.3v1.3h-1.3zM171.25 609.19h1.3v1.3h-1.3zM173.18 612.65h1.3v1.3h-1.3zM166.54 615.31h1.3v1.3h-1.3zM177.96 622.62h1.3v1.3h-1.3zM162.53 616.62h1.3v1.3h-1.3zM165.67 612.06h1.3v1.3h-1.3zM165.13 603.15h1.3v1.3h-1.3zM161.52 608.33h1.3v1.3h-1.3zM158.39 613.59h1.3v1.3h-1.3zM159.66 621.4h1.3v1.3h-1.3zM165.89 603.9h1.3v1.3h-1.3zM160.14 617.58h1.3v1.3h-1.3zM180.05 607.85h1.3v1.3h-1.3zM176.09 589.16h1.3v1.3h-1.3zM180.87 617.15h1.3v1.3h-1.3zM163.66 614.82h1.3v1.3h-1.3zM177.58 588.21h1.3v1.3h-1.3zM184.5 591.62h1.3v1.3h-1.3zM171.32 604.97h1.3v1.3h-1.3zM186.87 590.62h1.3v1.3h-1.3zM160.79 622.1h1.3v1.3h-1.3zM165.46 602.86h1.3v1.3h-1.3zM163.43 608.86h1.3v1.3h-1.3zM163.04 611.66h1.3v1.3h-1.3zM186.93 580.63h1.3v1.3h-1.3zM170.01 609.66h1.3v1.3h-1.3zM160.73 610.64h1.3v1.3h-1.3zM161.48 623.52h1.3v1.3h-1.3zM185.79 604.39h1.3v1.3h-1.3zM166.82 621.65h1.3v1.3h-1.3zM194.09 596.39h1.3v1.3h-1.3zM186.13 610.5h1.3v1.3h-1.3zM167.33 613.68h1.3v1.3h-1.3zM159.5 624.91h1.3v1.3h-1.3zM170.78 616.42h1.3v1.3h-1.3zM183.99 592.52h1.3v1.3h-1.3zM173.61 608.09h1.3v1.3h-1.3zM162.02 615.11h1.3v1.3h-1.3zM173.51 618.61h1.3v1.3h-1.3zM166.91 624.03h1.3v1.3h-1.3zM173.8 612.91h1.3v1.3h-1.3zM161.59 612.76h1.3v1.3h-1.3zM180.57 618.41h1.3v1.3h-1.3zM158.25 617.44h1.3v1.3h-1.3zM200.65 622.63h1.3v1.3h-1.3zM180.86 602.22h1.3v1.3h-1.3zM175.23 624.86h1.3v1.3h-1.3zM165.21 624.53h1.3v1.3h-1.3zM199.39 580.7h1.3v1.3h-1.3zM175.59 606.14h1.3v1.3h-1.3zM179 621.61h1.3v1.3h-1.3zM216.48 610.68h1.3v1.3h-1.3zM165.98 624.94h1.3v1.3h-1.3zM159.33 610.62h1.3v1.3h-1.3zM161.2 617.13h1.3v1.3h-1.3zM176.26 600.28h1.3v1.3h-1.3zM166.31 609.52h1.3v1.3h-1.3zM183.33 618.45h1.3v1.3h-1.3zM164.96 613.4h1.3v1.3h-1.3zM174.66 607.7h1.3v1.3h-1.3zM158.6 622.3h1.3v1.3h-1.3zM164.34 606.68h1.3v1.3h-1.3zM171.57 618.68h1.3v1.3h-1.3zM169.86 618.44h1.3v1.3h-1.3zM205.88 596h1.3v1.3h-1.3zM187.77 610.47h1.3v1.3h-1.3zM160.11 612.45h1.3v1.3h-1.3zM160.94 610.4h1.3v1.3h-1.3zM178.6 592.38h1.3v1.3h-1.3zM170.04 608.16h1.3v1.3h-1.3zM158.56 621.83h1.3v1.3h-1.3zM159.94 624.45h1.3v1.3h-1.3zM168.8 624.08h1.3v1.3h-1.3zM167.71 622.26h1.3v1.3h-1.3zM161.07 611.33h1.3v1.3h-1.3zM218.66 599.1h1.3v1.3h-1.3zM171.5 621.19h1.3v1.3h-1.3zM165.89 604.45h1.3v1.3h-1.3zM159.2 620.17h1.3v1.3h-1.3zM162.04 621.9h1.3v1.3h-1.3zM160.43 613.24h1.3v1.3h-1.3zM163.94 604.07h1.3v1.3h-1.3zM163.59 611.23h1.3v1.3h-1.3zM164.49 608.95h1.3v1.3h-1.3zM159.02 609.91h1.3v1.3h-1.3zM162.14 611.69h1.3v1.3h-1.3zM163.61 624.89h1.3v1.3h-1.3zM168.98 622.77h1.3v1.3h-1.3zM179.5 618.73h1.3v1.3h-1.3zM158.86 617.79h1.3v1.3h-1.3zM170.48 607.91h1.3v1.3h-1.3zM175.65 624.07h1.3v1.3h-1.3zM191.1 590.23h1.3v1.3h-1.3zM177.39 624.97h1.3v1.3h-1.3zM162.96 622.04h1.3v1.3h-1.3zM188.09 615.71h1.3v1.3h-1.3zM165.23 621.55h1.3v1.3h-1.3zM176.54 622.16h1.3v1.3h-1.3zM166.92 607.29h1.3v1.3h-1.3zM164.44 621.36h1.3v1.3h-1.3zM168.21 621.44h1.3v1.3h-1.3zM176.34 596.75h1.3v1.3h-1.3zM161.9 624.53h1.3v1.3h-1.3zM164.68 624.95h1.3v1.3h-1.3zM184.63 582.56h1.3v1.3h-1.3zM170.73 611.49h1.3v1.3h-1.3zM170.58 616.39h1.3v1.3h-1.3zM169.03 609.74h1.3v1.3h-1.3zM184.51 614.62h1.3v1.3h-1.3zM160.38 618.6h1.3v1.3h-1.3zM158.85 621.29h1.3v1.3h-1.3zM168.14 603.18h1.3v1.3h-1.3zM170.57 596.2h1.3v1.3h-1.3zM179.67 585.55h1.3v1.3h-1.3zM188.06 613.2h1.3v1.3h-1.3zM160.92 613.54h1.3v1.3h-1.3zM176.97 612.46h1.3v1.3h-1.3zM182.21 599.5h1.3v1.3h-1.3zM182.06 625.03h1.3v1.3h-1.3zM183.75 586.5h1.3v1.3h-1.3zM161.88 609.74h1.3v1.3h-1.3zM162.43 608.98h1.3v1.3h-1.3zM183.24 589.45h1.3v1.3h-1.3zM159.55 622.79h1.3v1.3h-1.3zM169.27 620.08h1.3v1.3h-1.3zM164.85 603.7h1.3v1.3h-1.3zM192.16 619.96h1.3v1.3h-1.3zM160.72 612.09h1.3v1.3h-1.3zM169.92 624.95h1.3v1.3h-1.3zM203.3 619.19h1.3v1.3h-1.3zM159.4 611.32h1.3v1.3h-1.3zM182.66 622.27h1.3v1.3h-1.3zM170.18 598.17h1.3v1.3h-1.3zM235.26 584.96h1.3v1.3h-1.3zM183.73 583.44h1.3v1.3h-1.3zM165.28 609.82h1.3v1.3h-1.3zM185.23 589.57h1.3v1.3h-1.3zM170.88 600.99h1.3v1.3h-1.3zM177.98 590.38h1.3v1.3h-1.3zM191.33 586.8h1.3v1.3h-1.3zM161.02 620.16h1.3v1.3h-1.3zM167.7 625.02h1.3v1.3h-1.3zM162.81 608.09h1.3v1.3h-1.3zM210 605.9h1.3v1.3h-1.3zM168.33 623.13h1.3v1.3h-1.3zM168.93 599.91h1.3v1.3h-1.3zM163.32 612.62h1.3v1.3h-1.3zM181.89 608.37h1.3v1.3h-1.3zM166.07 609.11h1.3v1.3h-1.3zM160.88 620.23h1.3v1.3h-1.3zM161.83 624.35h1.3v1.3h-1.3zM162.06 609.75h1.3v1.3h-1.3zM177.49 612.41h1.3v1.3h-1.3zM159.85 617.67h1.3v1.3h-1.3zM162.87 613.53h1.3v1.3h-1.3zM185.33 611.8h1.3v1.3h-1.3zM163.69 608.29h1.3v1.3h-1.3zM185.36 596.05h1.3v1.3h-1.3zM163.87 605.66h1.3v1.3h-1.3zM159.07 609.76h1.3v1.3h-1.3zM176.09 623.78h1.3v1.3h-1.3zM160.75 611.72h1.3v1.3h-1.3zM196.33 622.26h1.3v1.3h-1.3zM171.66 599.59h1.3v1.3h-1.3zM173.53 595.01h1.3v1.3h-1.3zM187.59 619.42h1.3v1.3h-1.3zM159.39 611.18h1.3v1.3h-1.3zM162.11 608.7h1.3v1.3h-1.3zM202.01 610.66h1.3v1.3h-1.3zM178.51 619.07h1.3v1.3h-1.3zM168.18 622.91h1.3v1.3h-1.3zM171.95 622.07h1.3v1.3h-1.3zM165.91 624.78h1.3v1.3h-1.3zM211.52 599.92h1.3v1.3h-1.3zM163.92 621.49h1.3v1.3h-1.3zM179.58 607.97h1.3v1.3h-1.3zM169.84 624.42h1.3v1.3h-1.3zM164.51 616.22h1.3v1.3h-1.3zM183.82 618.36h1.3v1.3h-1.3zM158.86 617.8h1.3v1.3h-1.3zM161.58 624.68h1.3v1.3h-1.3zM159.76 618.28h1.3v1.3h-1.3zM165.95 620.22h1.3v1.3h-1.3zM175.2 624.09h1.3v1.3h-1.3zM163.02 616.34h1.3v1.3h-1.3zM162.07 606.71h1.3v1.3h-1.3zM163.94 616.73h1.3v1.3h-1.3zM200.19 604.53h1.3v1.3h-1.3zM161.87 617.3h1.3v1.3h-1.3zM224.34 589h1.3v1.3h-1.3zM163.36 624.15h1.3v1.3h-1.3zM194.46 614.46h1.3v1.3h-1.3zM159.33 619.47h1.3v1.3h-1.3zM178.33 613.27h1.3v1.3h-1.3zM180.89 586.45h1.3v1.3h-1.3zM173.76 596.55h1.3v1.3h-1.3zM170.6 623.53h1.3v1.3h-1.3zM173.98 618.56h1.3v1.3h-1.3zM181.29 588.02h1.3v1.3h-1.3zM166.93 608.66h1.3v1.3h-1.3zM158.85 617.2h1.3v1.3h-1.3zM173.24 595.69h1.3v1.3h-1.3zM159.16 622.83h1.3v1.3h-1.3zM178.18 603.7h1.3v1.3h-1.3zM166.52 601.45h1.3v1.3h-1.3zM159.18 611.81h1.3v1.3h-1.3zM159.82 622.06h1.3v1.3h-1.3zM173.16 624.13h1.3v1.3h-1.3zM178.45 615.6h1.3v1.3h-1.3zM180.41 602.77h1.3v1.3h-1.3zM162.29 610.43h1.3v1.3h-1.3zM193.21 591.11h1.3v1.3h-1.3zM159.53 619.02h1.3v1.3h-1.3zM159.13 619.1h1.3v1.3h-1.3zM162.79 615.74h1.3v1.3h-1.3zM186.46 593.44h1.3v1.3h-1.3zM180.24 623.76h1.3v1.3h-1.3zM167.45 616.13h1.3v1.3h-1.3zM176.25 593.78h1.3v1.3h-1.3zM158.25 612.89h1.3v1.3h-1.3zM163.77 624.7h1.3v1.3h-1.3zM171.67 610.59h1.3v1.3h-1.3zM203.45 590.45h1.3v1.3h-1.3zM167 606.49h1.3v1.3h-1.3zM189.09 604.7h1.3v1.3h-1.3zM163.51 612.56h1.3v1.3h-1.3zM184.79 595.11h1.3v1.3h-1.3zM171.64 621.56h1.3v1.3h-1.3zM176.43 605.4h1.3v1.3h-1.3zM176.14 610.9h1.3v1.3h-1.3zM158.69 622.14h1.3v1.3h-1.3zM170.7 621.89h1.3v1.3h-1.3zM163.66 617.85h1.3v1.3h-1.3zM160.3 621.34h1.3v1.3h-1.3zM166.51 603.16h1.3v1.3h-1.3zM175.92 622.74h1.3v1.3h-1.3zM165.1 607.41h1.3v1.3h-1.3zM158.15 615.53h1.3v1.3h-1.3zM175.87 618.26h1.3v1.3h-1.3zM158.34 621.47h1.3v1.3h-1.3zM163.72 612.14h1.3v1.3h-1.3zM159.26 623.22h1.3v1.3h-1.3zM176.05 624.3h1.3v1.3h-1.3zM170.8 616.03h1.3v1.3h-1.3zM163.87 617.78h1.3v1.3h-1.3zM163.98 608.82h1.3v1.3h-1.3zM192.7 602.14h1.3v1.3h-1.3zM174.3 597.48h1.3v1.3h-1.3zM159.76 618.47h1.3v1.3h-1.3zM158.53 614.44h1.3v1.3h-1.3zM189.57 620.94h1.3v1.3h-1.3zM165.84 611.7h1.3v1.3h-1.3zM168.79 624.23h1.3v1.3h-1.3zM165.5 618.72h1.3v1.3h-1.3zM171.07 598.95h1.3v1.3h-1.3zM159.29 617.51h1.3v1.3h-1.3zM166.82 617.12h1.3v1.3h-1.3zM161.14 618.12h1.3v1.3h-1.3zM159.91 614.76h1.3v1.3h-1.3zM163.03 607.86h1.3v1.3h-1.3zM162.05 622.1h1.3v1.3h-1.3zM161.06 612.84h1.3v1.3h-1.3zM183.84 587.05h1.3v1.3h-1.3zM168.3 609.55h1.3v1.3h-1.3zM164.32 614.74h1.3v1.3h-1.3zM159.82 611.12h1.3v1.3h-1.3zM165.9 615.21h1.3v1.3h-1.3zM159.67 617.76h1.3v1.3h-1.3zM161.2 607.34h1.3v1.3h-1.3zM159.23 620.53h1.3v1.3h-1.3zM159.29 622.74h1.3v1.3h-1.3zM167.91 624.02h1.3v1.3h-1.3zM172.22 608.12h1.3v1.3h-1.3zM178.49 614.36h1.3v1.3h-1.3zM172.28 616.53h1.3v1.3h-1.3zM174.44 591.61h1.3v1.3h-1.3zM160.9 613.88h1.3v1.3h-1.3zM180.49 617.32h1.3v1.3h-1.3zM158.87 618.22h1.3v1.3h-1.3zM168.15 610.43h1.3v1.3h-1.3zM178.19 614.75h1.3v1.3h-1.3zM181.13 597.1h1.3v1.3h-1.3zM162.08 621.74h1.3v1.3h-1.3zM166.59 604.65h1.3v1.3h-1.3zM187.26 603.97h1.3v1.3h-1.3zM168.69 613.42h1.3v1.3h-1.3zM177.43 624.66h1.3v1.3h-1.3zM175.39 609.19h1.3v1.3h-1.3zM169.74 601.6h1.3v1.3h-1.3zM159.75 617.75h1.3v1.3h-1.3zM200.47 616.72h1.3v1.3h-1.3zM171.56 618.51h1.3v1.3h-1.3zM178.61 602.29h1.3v1.3h-1.3zM160.25 623.47h1.3v1.3h-1.3zM164.11 616.9h1.3v1.3h-1.3zM180.51 586.63h1.3v1.3h-1.3zM169.41 623.5h1.3v1.3h-1.3zM166.75 601.97h1.3v1.3h-1.3zM159.29 619.14h1.3v1.3h-1.3zM162.49 613.44h1.3v1.3h-1.3zM161.48 624.61h1.3v1.3h-1.3zM161.04 616.81h1.3v1.3h-1.3zM165.82 605.81h1.3v1.3h-1.3zM161.5 614.05h1.3v1.3h-1.3zM194.73 624.49h1.3v1.3h-1.3zM167.61 621.14h1.3v1.3h-1.3zM164.97 620.6h1.3v1.3h-1.3zM114.15 544.15h1.3v1.3h-1.3zM124.35 544.95h1.3v1.3h-1.3zM126.25 554.75h1.3v1.3h-1.3zM118.95 559.95h1.3v1.3h-1.3zM126.65 558.05h1.3v1.3h-1.3zM126.65 560.85h1.3v1.3h-1.3zM119.35 578.15h1.3v1.3h-1.3zM128.55 581.65h1.3v1.3h-1.3zM131.05 580.65h1.3v1.3h-1.3zM133.35 580.15h1.3v1.3h-1.3zM135.55 580.55h1.3v1.3h-1.3zM136.85 588.15h1.3v1.3h-1.3zM134.35 590.65h1.3v1.3h-1.3zM130.55 592.05h1.3v1.3h-1.3zM129.55 593.55h1.3v1.3h-1.3zM113.75 597.85h1.3v1.3h-1.3zM125.65 597.05h1.3v1.3h-1.3zM132.35 596.35h1.3v1.3h-1.3zM136.35 595.85h1.3v1.3h-1.3zM82.75 621.05h1.3v1.3h-1.3zM88.75 620.35h1.3v1.3h-1.3zM93.05 623.35h1.3v1.3h-1.3zM100.55 618.05h1.3v1.3h-1.3zM98.25 623.35h1.3v1.3h-1.3zM108.65 620.65h1.3v1.3h-1.3zM107.45 606.45h1.3v1.3h-1.3zM111.25 602.55h1.3v1.3h-1.3zM113.85 597.85h1.3v1.3h-1.3zM114.35 601.15h1.3v1.3h-1.3zM115.05 610.65h1.3v1.3h-1.3zM173.05 531.75h1.3v1.3h-1.3zM185.35 541.25h1.3v1.3h-1.3zM176.85 543.85h1.3v1.3h-1.3zM176.15 548.65h1.3v1.3h-1.3zM172.65 555.65h1.3v1.3h-1.3zM168.85 560.35h1.3v1.3h-1.3zM169.85 561.35h1.3v1.3h-1.3zM173.65 561.95h1.3v1.3h-1.3zM182.55 565.55h1.3v1.3h-1.3zM168.35 569.15h1.3v1.3h-1.3zM212.35 574.25h1.3v1.3h-1.3zM223.75 575.55h1.3v1.3h-1.3zM174.05 577.65h1.3v1.3h-1.3zM175.15 577.25h1.3v1.3h-1.3zM208.15 584.65h1.3v1.3h-1.3zM187.35 584.65h1.3v1.3h-1.3zM175.75 584.15h1.3v1.3h-1.3zM172.65 586.05h1.3v1.3h-1.3zM180.05 586.75h1.3v1.3h-1.3zM166.65 587.35h1.3v1.3h-1.3zM165.25 590.35h1.3v1.3h-1.3zM166.25 591.55h1.3v1.3h-1.3zM175.75 593.05h1.3v1.3h-1.3zM188.45 592.45h1.3v1.3h-1.3zM193.75 590.35h1.3v1.3h-1.3zM200.05 595.15h1.3v1.3h-1.3zM170.45 597.35h1.3v1.3h-1.3zM180.05 598.75h1.3v1.3h-1.3zM194.85 598.35h1.3v1.3h-1.3zM163.05 598.35h1.3v1.3h-1.3zM219.15 602.35h1.3v1.3h-1.3zM211.75 605.45h1.3v1.3h-1.3zM202.25 605.45h1.3v1.3h-1.3zM228.65 605.45h1.3v1.3h-1.3zM210.65 611.35h1.3v1.3h-1.3zM206.45 616.05h1.3v1.3h-1.3zM201.15 612.85h1.3v1.3h-1.3zM195.85 609.75h1.3v1.3h-1.3zM189.55 607.65h1.3v1.3h-1.3zM185.25 604.45h1.3v1.3h-1.3zM183.15 610.75h1.3v1.3h-1.3zM224.35 618.15h1.3v1.3h-1.3zM217.05 620.35h1.3v1.3h-1.3zM212.75 622.35h1.3v1.3h-1.3zM255.05 611.85h1.3v1.3h-1.3zM245.55 624.55h1.3v1.3h-1.3z" fill="#c9282e"/>
<path d="M212.61 625.61h0.9v0.9h-0.9zM258.12 625.56h0.9v0.9h-0.9zM118.71 625.99h0.9v0.9h-0.9zM84.17 625.52h0.9v0.9h-0.9zM126.71 626.01h0.9v0.9h-0.9zM225.36 625.94h0.9v0.9h-0.9zM117.03 625.91h0.9v0.9h-0.9zM257.96 625.72h0.9v0.9h-0.9zM82.02 625.39h0.9v0.9h-0.9zM150.74 626.3h0.9v0.9h-0.9zM249.59 626.05h0.9v0.9h-0.9zM106.07 625.73h0.9v0.9h-0.9zM102.13 625.79h0.9v0.9h-0.9zM215.19 625.38h0.9v0.9h-0.9zM164.54 625.56h0.9v0.9h-0.9zM184.37 626.14h0.9v0.9h-0.9zM214.08 625.7h0.9v0.9h-0.9zM240.7 625.36h0.9v0.9h-0.9zM118.85 625.5h0.9v0.9h-0.9zM197.5 625.83h0.9v0.9h-0.9zM181.05 625.41h0.9v0.9h-0.9zM80.03 626.1h0.9v0.9h-0.9zM190.38 626.27h0.9v0.9h-0.9zM146.79 625.95h0.9v0.9h-0.9zM145.89 626.23h0.9v0.9h-0.9zM118.87 625.84h0.9v0.9h-0.9zM218.52 625.72h0.9v0.9h-0.9zM146.9 625.45h0.9v0.9h-0.9zM253.74 625.85h0.9v0.9h-0.9zM154.37 625.52h0.9v0.9h-0.9zM142.03 625.7h0.9v0.9h-0.9zM96.8 625.71h0.9v0.9h-0.9zM130.74 625.99h0.9v0.9h-0.9zM73.91 626.34h0.9v0.9h-0.9zM229.85 625.36h0.9v0.9h-0.9zM151.04 626.08h0.9v0.9h-0.9zM67.34 626.24h0.9v0.9h-0.9zM255.14 625.42h0.9v0.9h-0.9zM124.47 626.32h0.9v0.9h-0.9zM116.65 626.09h0.9v0.9h-0.9zM221.42 625.35h0.9v0.9h-0.9zM155.9 625.68h0.9v0.9h-0.9zM225.96 625.43h0.9v0.9h-0.9zM194.72 625.37h0.9v0.9h-0.9zM181.98 625.83h0.9v0.9h-0.9zM246.8 626.34h0.9v0.9h-0.9zM225.62 626.05h0.9v0.9h-0.9zM135.42 625.94h0.9v0.9h-0.9zM144.96 626.09h0.9v0.9h-0.9zM256.68 626.01h0.9v0.9h-0.9zM88.88 625.9h0.9v0.9h-0.9zM166.72 626.25h0.9v0.9h-0.9zM124.08 625.75h0.9v0.9h-0.9zM199.7 625.95h0.9v0.9h-0.9zM159.01 625.95h0.9v0.9h-0.9zM105.41 625.44h0.9v0.9h-0.9zM147.36 625.88h0.9v0.9h-0.9zM206.73 625.75h0.9v0.9h-0.9zM126.97 626.31h0.9v0.9h-0.9zM242.98 625.56h0.9v0.9h-0.9zM232.19 625.69h0.9v0.9h-0.9zM69.5 626.15h0.9v0.9h-0.9zM165.73 626.28h0.9v0.9h-0.9zM147.06 625.39h0.9v0.9h-0.9zM138.39 626.05h0.9v0.9h-0.9zM106.38 626.01h0.9v0.9h-0.9zM105.26 626.02h0.9v0.9h-0.9zM61.4 626.06h0.9v0.9h-0.9zM100.45 625.74h0.9v0.9h-0.9zM255.2 625.45h0.9v0.9h-0.9zM74.33 626.32h0.9v0.9h-0.9zM223.56 625.92h0.9v0.9h-0.9zM165.46 625.81h0.9v0.9h-0.9zM189.46 626.17h0.9v0.9h-0.9zM86.68 625.71h0.9v0.9h-0.9zM160.92 625.51h0.9v0.9h-0.9zM81.02 625.99h0.9v0.9h-0.9zM258.32 626.16h0.9v0.9h-0.9zM123.24 625.69h0.9v0.9h-0.9zM259.09 626.17h0.9v0.9h-0.9z" fill="#777"/>
<line x1="56.5" y1="525" x2="56.5" y2="634" stroke="#111" stroke-width="1"/>
<line x1="56" y1="633.5" x2="265" y2="633.5" stroke="#111" stroke-width="1"/>
<text x="53.3" y="629.4" font-size="6.8" fill="#222" text-anchor="end">0</text>
<text x="53.3" y="616.71" font-size="6.8" fill="#222" text-anchor="end">10</text>
<text x="53.3" y="604.02" font-size="6.8" fill="#222" text-anchor="end">20</text>
<text x="53.3" y="591.33" font-size="6.8" fill="#222" text-anchor="end">30</text>
<text x="53.3" y="578.64" font-size="6.8" fill="#222" text-anchor="end">40</text>
<text x="53.3" y="565.95" font-size="6.8" fill="#222" text-anchor="end">50</text>
<text x="53.3" y="553.26" font-size="6.8" fill="#222" text-anchor="end">60</text>
<text x="53.3" y="540.57" font-size="6.8" fill="#222" text-anchor="end">70</text>
<text x="53.3" y="527.88" font-size="6.8" fill="#222" text-anchor="end">80</text>
<text x="66" y="642" font-size="6.8" fill="#222" text-anchor="middle">−10</text>
<text x="109" y="642" font-size="6.8" fill="#222" text-anchor="middle">−5</text>
<text x="152" y="642" font-size="6.8" fill="#222" text-anchor="middle">0</text>
<text x="195" y="642" font-size="6.8" fill="#222" text-anchor="middle">5</text>
<text x="238" y="642" font-size="6.8" fill="#222" text-anchor="middle">10</text>
<text x="68" y="654.3" font-size="8.8" fill="#222" font-weight="bold" textLength="183.3" lengthAdjust="spacingAndGlyphs">Log<tspan font-size="5.8" dy="2">2</tspan><tspan dy="-2"> fold change pom 1 μM HRI shRNA #2 vs DMSO control shRNA</tspan></text>
<text transform="translate(40.6 579.4) rotate(-90)" x="0" y="0" font-size="8.6" fill="#222" text-anchor="middle" textLength="65" lengthAdjust="spacingAndGlyphs">-Log<tspan font-size="5.6" dy="2">10</tspan><tspan dy="-2">(adjusted P-value)</tspan></text>
<text x="65" y="538.3" font-size="5.3" fill="#222">Log<tspan font-size="3.6" dy="1.2">2</tspan><tspan dy="-1.2"> fold changes</tspan></text>
<text x="65" y="544.7" font-size="5.3" fill="#222">(erythroid targets)</text>
<text x="65" y="555.8" font-size="5.5" fill="#222">BCL11A (-2.99)</text>
<text x="65" y="562" font-size="5.5" fill="#222">HBG1 (3.28)</text>
<text x="65" y="568.3" font-size="5.5" fill="#222">HBG2 (7.89)</text>
<text x="195.6" y="549.6" font-size="5.5" fill="#222" textLength="46.8" lengthAdjust="spacingAndGlyphs">DEG = 2061 genes</text>
<line x1="195.6" y1="550.5" x2="242.4" y2="550.5" stroke="#222" stroke-width="0.5"/>
<text x="126" y="576.5" font-size="5.6" fill="#222">BCL11A</text>
<line x1="128.3" y1="578.5" x2="126" y2="597" stroke="#333" stroke-width="0.6"/>
<text x="184.9" y="575.7" font-size="5.6" fill="#222">HBG1</text>
<line x1="189.7" y1="577.9" x2="180" y2="587.8" stroke="#333" stroke-width="0.6"/>
<text x="231.6" y="611.4" font-size="5.6" fill="#222">HBG2</text>
<line x1="234.1" y1="614.2" x2="220.8" y2="624.1" stroke="#333" stroke-width="0.6"/>
<text x="313.8" y="520" font-size="8.5" fill="#111" textLength="187.7" lengthAdjust="spacingAndGlyphs">Pom 0.1 μM (low-dose) HRI shRNA #2 vs Control</text>
<line x1="313.8" y1="521.3" x2="501.5" y2="521.3" stroke="#111" stroke-width="0.7"/>
<line x1="303.5" y1="627" x2="511" y2="627" stroke="#b4b4b4" stroke-width="1.5"/>
<line x1="345" y1="627.2" x2="455" y2="627.2" stroke="#8f8f8f" stroke-width="1.7"/>
<line x1="394.5" y1="532" x2="394.5" y2="625.8" stroke="#a0a0a0" stroke-width="0.8"/>
<line x1="403.5" y1="532" x2="403.5" y2="625.8" stroke="#a0a0a0" stroke-width="0.8"/>
<path d="M394 626.3L394 626.3L390 623.5L386 621.05L382 620L378 620L374 621.4L369 623.5L364 625.25L360 626.3L360 626.3Z" fill="#c9282e"/>
<path d="M404 626.3L404 626.3L408 623.15L412 620.35L415 619.65L418 620.7L422 622.8L427 624.9L432 626.3L432 626.3Z" fill="#c9282e"/>
<path d="M386.39 620.9h1.3v1.3h-1.3zM380.9 622.38h1.3v1.3h-1.3zM368.57 621.03h1.3v1.3h-1.3zM372.61 623.3h1.3v1.3h-1.3zM382.03 616.98h1.3v1.3h-1.3zM370.52 620.24h1.3v1.3h-1.3zM369.95 624.67h1.3v1.3h-1.3zM374.57 617.67h1.3v1.3h-1.3zM375.44 621.04h1.3v1.3h-1.3zM382.2 619.69h1.3v1.3h-1.3zM382.54 620.06h1.3v1.3h-1.3zM377.91 619.75h1.3v1.3h-1.3zM380.56 620.8h1.3v1.3h-1.3zM375.24 623.87h1.3v1.3h-1.3zM374.06 621.99h1.3v1.3h-1.3zM380.5 624.51h1.3v1.3h-1.3zM374.44 619.58h1.3v1.3h-1.3zM385.8 624.54h1.3v1.3h-1.3zM378.68 616.72h1.3v1.3h-1.3zM376.99 619.99h1.3v1.3h-1.3zM374.84 617.11h1.3v1.3h-1.3zM380.62 617.47h1.3v1.3h-1.3zM371.07 623.67h1.3v1.3h-1.3zM369.12 623.44h1.3v1.3h-1.3zM380.67 622.51h1.3v1.3h-1.3zM386.51 624.24h1.3v1.3h-1.3zM376.67 621.32h1.3v1.3h-1.3zM364.29 624.09h1.3v1.3h-1.3zM363.79 624.57h1.3v1.3h-1.3zM375.99 618.26h1.3v1.3h-1.3zM368.23 623.72h1.3v1.3h-1.3zM384.8 624.32h1.3v1.3h-1.3zM370.01 620.22h1.3v1.3h-1.3zM370.69 621.81h1.3v1.3h-1.3zM372.13 621.39h1.3v1.3h-1.3zM384.72 623.61h1.3v1.3h-1.3zM381.01 617.6h1.3v1.3h-1.3zM370.88 620.17h1.3v1.3h-1.3zM380.34 619.88h1.3v1.3h-1.3zM386.25 623.75h1.3v1.3h-1.3zM378.86 617.91h1.3v1.3h-1.3zM379.5 622.72h1.3v1.3h-1.3zM387.15 622.7h1.3v1.3h-1.3zM384.63 617.83h1.3v1.3h-1.3zM387.45 620.66h1.3v1.3h-1.3zM372.3 619.65h1.3v1.3h-1.3zM364.59 624.87h1.3v1.3h-1.3zM386.59 619.63h1.3v1.3h-1.3zM381.35 616.82h1.3v1.3h-1.3zM381.72 622.42h1.3v1.3h-1.3zM382.51 621.85h1.3v1.3h-1.3zM381.35 620.32h1.3v1.3h-1.3zM378.55 617.52h1.3v1.3h-1.3zM382.22 617.57h1.3v1.3h-1.3zM375.17 623.55h1.3v1.3h-1.3zM384.52 623.6h1.3v1.3h-1.3zM364.76 623.73h1.3v1.3h-1.3zM379.71 619.31h1.3v1.3h-1.3zM377.04 624.35h1.3v1.3h-1.3zM369.85 623.2h1.3v1.3h-1.3zM387.39 620.98h1.3v1.3h-1.3zM385.27 620.3h1.3v1.3h-1.3zM371.25 619.39h1.3v1.3h-1.3zM372.75 622.9h1.3v1.3h-1.3zM381.18 619.64h1.3v1.3h-1.3zM386.7 619.82h1.3v1.3h-1.3zM373.73 622.57h1.3v1.3h-1.3zM384.99 619.84h1.3v1.3h-1.3zM373.17 622.83h1.3v1.3h-1.3zM373.82 618.82h1.3v1.3h-1.3zM379.98 619.33h1.3v1.3h-1.3zM384.91 623.74h1.3v1.3h-1.3zM367.61 622.49h1.3v1.3h-1.3zM382.18 623.53h1.3v1.3h-1.3zM384.72 621.78h1.3v1.3h-1.3zM370.58 625.02h1.3v1.3h-1.3zM377.64 623.1h1.3v1.3h-1.3zM387.19 622.76h1.3v1.3h-1.3zM376.45 623.92h1.3v1.3h-1.3zM375.61 620.72h1.3v1.3h-1.3zM377.32 619.35h1.3v1.3h-1.3zM384.89 618.69h1.3v1.3h-1.3zM390.93 624.95h1.3v1.3h-1.3zM381.25 618.31h1.3v1.3h-1.3zM384.79 621.55h1.3v1.3h-1.3zM373.6 618.25h1.3v1.3h-1.3zM374.36 617.59h1.3v1.3h-1.3zM379.56 619.02h1.3v1.3h-1.3zM382.83 618.35h1.3v1.3h-1.3zM386.88 621.26h1.3v1.3h-1.3zM381.92 620.61h1.3v1.3h-1.3zM387.02 624.2h1.3v1.3h-1.3zM383.8 618.65h1.3v1.3h-1.3zM371.19 620.74h1.3v1.3h-1.3zM367.74 624.6h1.3v1.3h-1.3zM376.71 622.78h1.3v1.3h-1.3zM379.37 616.89h1.3v1.3h-1.3zM367.58 621.51h1.3v1.3h-1.3zM382.09 617.87h1.3v1.3h-1.3zM388.64 624.46h1.3v1.3h-1.3zM384.88 621.54h1.3v1.3h-1.3zM376.28 618.03h1.3v1.3h-1.3zM380.92 623.49h1.3v1.3h-1.3zM382.63 618.69h1.3v1.3h-1.3zM380.58 621.94h1.3v1.3h-1.3zM379.3 622.67h1.3v1.3h-1.3zM385.45 622.88h1.3v1.3h-1.3zM384.91 621.06h1.3v1.3h-1.3zM372.77 621.64h1.3v1.3h-1.3zM366.52 622.51h1.3v1.3h-1.3zM376.1 619.99h1.3v1.3h-1.3zM384.51 624.52h1.3v1.3h-1.3zM387.26 621.96h1.3v1.3h-1.3zM384.62 620.81h1.3v1.3h-1.3zM384.73 620.24h1.3v1.3h-1.3zM375.39 624.72h1.3v1.3h-1.3zM382.23 621.3h1.3v1.3h-1.3zM364.29 624.75h1.3v1.3h-1.3zM375.71 621.13h1.3v1.3h-1.3zM384.22 623.99h1.3v1.3h-1.3zM382.61 617.9h1.3v1.3h-1.3zM383.6 623.69h1.3v1.3h-1.3zM383.38 617.31h1.3v1.3h-1.3zM383.46 618.91h1.3v1.3h-1.3zM378.62 617.92h1.3v1.3h-1.3zM384.66 624.07h1.3v1.3h-1.3zM379.91 620.09h1.3v1.3h-1.3zM374.83 624h1.3v1.3h-1.3zM380.62 620.03h1.3v1.3h-1.3zM369.4 620.16h1.3v1.3h-1.3zM372.37 621.89h1.3v1.3h-1.3zM378.39 621.06h1.3v1.3h-1.3zM373.27 624.86h1.3v1.3h-1.3zM383.14 617.94h1.3v1.3h-1.3zM378.88 624.32h1.3v1.3h-1.3zM386.48 623.42h1.3v1.3h-1.3zM374.88 623.98h1.3v1.3h-1.3zM375.14 618.36h1.3v1.3h-1.3zM388.25 622.6h1.3v1.3h-1.3zM364.88 623.61h1.3v1.3h-1.3zM374.13 622.76h1.3v1.3h-1.3zM373.03 623.29h1.3v1.3h-1.3zM377.36 619.54h1.3v1.3h-1.3zM380.59 621.19h1.3v1.3h-1.3zM379.08 621.61h1.3v1.3h-1.3zM384.92 619.86h1.3v1.3h-1.3zM371.39 619.29h1.3v1.3h-1.3zM370.01 622.53h1.3v1.3h-1.3zM374.83 620.28h1.3v1.3h-1.3zM377.49 624.55h1.3v1.3h-1.3zM375.55 623.7h1.3v1.3h-1.3zM374.87 620.05h1.3v1.3h-1.3zM384.78 624.81h1.3v1.3h-1.3zM382.27 620.96h1.3v1.3h-1.3zM372.8 620.69h1.3v1.3h-1.3zM371.2 622.21h1.3v1.3h-1.3zM381.4 616.63h1.3v1.3h-1.3zM368.32 621.98h1.3v1.3h-1.3zM376.35 616.4h1.3v1.3h-1.3zM371.69 623.58h1.3v1.3h-1.3zM375.57 620.37h1.3v1.3h-1.3zM368.34 622.84h1.3v1.3h-1.3zM371.17 620.04h1.3v1.3h-1.3zM387.04 624.17h1.3v1.3h-1.3zM368.9 620.98h1.3v1.3h-1.3zM376.21 624.61h1.3v1.3h-1.3zM371.81 619.54h1.3v1.3h-1.3zM389.14 622.55h1.3v1.3h-1.3zM381.56 620.96h1.3v1.3h-1.3zM382.79 617.65h1.3v1.3h-1.3zM365.66 623.77h1.3v1.3h-1.3zM370.71 621.64h1.3v1.3h-1.3zM389.59 622.41h1.3v1.3h-1.3zM380.78 619.28h1.3v1.3h-1.3zM383.04 620.45h1.3v1.3h-1.3zM386.64 620.56h1.3v1.3h-1.3zM371.18 620.72h1.3v1.3h-1.3zM368.28 623.57h1.3v1.3h-1.3zM375.73 617.11h1.3v1.3h-1.3zM366.9 622.83h1.3v1.3h-1.3zM379.96 621.07h1.3v1.3h-1.3zM384.33 621h1.3v1.3h-1.3zM363.47 623.56h1.3v1.3h-1.3zM366.32 625.14h1.3v1.3h-1.3zM384.38 624.26h1.3v1.3h-1.3zM364.02 623.12h1.3v1.3h-1.3zM365.94 622.38h1.3v1.3h-1.3zM374.48 619.35h1.3v1.3h-1.3zM375.67 623.45h1.3v1.3h-1.3zM390.91 623.85h1.3v1.3h-1.3zM382.74 620.72h1.3v1.3h-1.3zM368.44 621.5h1.3v1.3h-1.3zM385.87 621.54h1.3v1.3h-1.3zM381.61 620.61h1.3v1.3h-1.3zM390.9 624.81h1.3v1.3h-1.3zM376.22 620.18h1.3v1.3h-1.3zM383.71 622.81h1.3v1.3h-1.3zM379.58 621.5h1.3v1.3h-1.3zM365.24 624.41h1.3v1.3h-1.3zM379.21 624.99h1.3v1.3h-1.3zM390.8 623.61h1.3v1.3h-1.3zM383.88 621.04h1.3v1.3h-1.3zM381.51 617.92h1.3v1.3h-1.3zM387.27 621.87h1.3v1.3h-1.3zM372.3 620.53h1.3v1.3h-1.3zM374.48 619.06h1.3v1.3h-1.3zM386.71 621.91h1.3v1.3h-1.3zM376.05 621.85h1.3v1.3h-1.3zM376.45 622.72h1.3v1.3h-1.3zM371.17 620.04h1.3v1.3h-1.3zM379.92 617.72h1.3v1.3h-1.3zM370.38 620.9h1.3v1.3h-1.3zM382.02 616.8h1.3v1.3h-1.3zM375.68 621.55h1.3v1.3h-1.3zM364.98 623.3h1.3v1.3h-1.3zM374.95 621.47h1.3v1.3h-1.3zM378.49 619.5h1.3v1.3h-1.3zM385.26 621.48h1.3v1.3h-1.3zM361.27 624.79h1.3v1.3h-1.3zM366.42 622.37h1.3v1.3h-1.3zM368.58 623.12h1.3v1.3h-1.3zM374.51 620.92h1.3v1.3h-1.3zM370.32 620.4h1.3v1.3h-1.3zM374.19 622.71h1.3v1.3h-1.3zM380.33 618.63h1.3v1.3h-1.3zM368.15 622.82h1.3v1.3h-1.3zM381.97 619.64h1.3v1.3h-1.3zM386.09 623.22h1.3v1.3h-1.3zM362.78 624.17h1.3v1.3h-1.3zM379.64 618.45h1.3v1.3h-1.3zM376.31 620.53h1.3v1.3h-1.3zM368.21 621.68h1.3v1.3h-1.3zM386.85 623.13h1.3v1.3h-1.3zM382.72 621.5h1.3v1.3h-1.3zM358.88 625.09h1.3v1.3h-1.3zM372.95 619.56h1.3v1.3h-1.3zM371.03 622.02h1.3v1.3h-1.3zM380.6 616.8h1.3v1.3h-1.3zM374.25 622.42h1.3v1.3h-1.3zM388.74 624.37h1.3v1.3h-1.3zM388.39 623.57h1.3v1.3h-1.3zM379.05 622.03h1.3v1.3h-1.3zM381.53 620.74h1.3v1.3h-1.3zM371.01 622.3h1.3v1.3h-1.3zM386.18 622.23h1.3v1.3h-1.3zM373.4 622.6h1.3v1.3h-1.3zM362.22 624.34h1.3v1.3h-1.3zM374.64 619.61h1.3v1.3h-1.3zM386.67 623.12h1.3v1.3h-1.3zM391.33 624.21h1.3v1.3h-1.3zM378.4 619.51h1.3v1.3h-1.3zM378.42 618.5h1.3v1.3h-1.3zM378.09 618.16h1.3v1.3h-1.3zM370.72 619.83h1.3v1.3h-1.3zM389.01 623.62h1.3v1.3h-1.3zM386.06 621.63h1.3v1.3h-1.3zM375.53 617.63h1.3v1.3h-1.3zM378.01 618.3h1.3v1.3h-1.3zM371.78 618.76h1.3v1.3h-1.3zM380.46 618.05h1.3v1.3h-1.3zM383.65 619.25h1.3v1.3h-1.3zM380.89 624.48h1.3v1.3h-1.3zM385.91 622.24h1.3v1.3h-1.3zM368.82 623.41h1.3v1.3h-1.3zM372.66 620.21h1.3v1.3h-1.3zM374.41 618.55h1.3v1.3h-1.3zM364.09 623.05h1.3v1.3h-1.3zM391.1 623.89h1.3v1.3h-1.3zM369.66 620.12h1.3v1.3h-1.3zM367.18 622.75h1.3v1.3h-1.3zM381.55 619.29h1.3v1.3h-1.3zM386.81 622.26h1.3v1.3h-1.3zM390.11 624.24h1.3v1.3h-1.3zM374.57 619.69h1.3v1.3h-1.3zM377.91 620.01h1.3v1.3h-1.3zM378.56 622.12h1.3v1.3h-1.3zM377.83 616.36h1.3v1.3h-1.3zM379.91 616.7h1.3v1.3h-1.3zM383.01 619.28h1.3v1.3h-1.3zM378.77 623.74h1.3v1.3h-1.3zM390.22 624.82h1.3v1.3h-1.3zM368.68 622.79h1.3v1.3h-1.3zM370.29 623.07h1.3v1.3h-1.3zM377.24 619.34h1.3v1.3h-1.3zM372.59 620.03h1.3v1.3h-1.3zM371.6 625.13h1.3v1.3h-1.3zM378.04 616.22h1.3v1.3h-1.3zM368.54 623.88h1.3v1.3h-1.3zM387.38 620.24h1.3v1.3h-1.3zM373.99 621.07h1.3v1.3h-1.3zM380.63 622.53h1.3v1.3h-1.3zM375.97 623.01h1.3v1.3h-1.3zM388.8 624.31h1.3v1.3h-1.3zM372.32 620.92h1.3v1.3h-1.3zM367.85 621.82h1.3v1.3h-1.3zM379.63 619.48h1.3v1.3h-1.3zM366.43 622.69h1.3v1.3h-1.3zM391.14 624.21h1.3v1.3h-1.3zM363.53 623.39h1.3v1.3h-1.3zM375.67 623.14h1.3v1.3h-1.3zM383.27 618.19h1.3v1.3h-1.3zM387.8 619.85h1.3v1.3h-1.3zM385.02 610.96h1.3v1.3h-1.3zM374.76 605.98h1.3v1.3h-1.3zM360.47 623.56h1.3v1.3h-1.3zM386.13 616.87h1.3v1.3h-1.3zM380.45 609.66h1.3v1.3h-1.3zM385.1 607.12h1.3v1.3h-1.3zM370.63 619.5h1.3v1.3h-1.3zM366.29 621.87h1.3v1.3h-1.3zM380.9 613.65h1.3v1.3h-1.3zM389.42 619.34h1.3v1.3h-1.3zM376.08 603.77h1.3v1.3h-1.3zM389.82 611.54h1.3v1.3h-1.3zM388.1 618.33h1.3v1.3h-1.3zM382.26 617.16h1.3v1.3h-1.3zM372.91 608.69h1.3v1.3h-1.3zM375.26 616.56h1.3v1.3h-1.3zM384.06 613.23h1.3v1.3h-1.3zM379.51 607.15h1.3v1.3h-1.3zM367.37 618.23h1.3v1.3h-1.3zM364.09 619.08h1.3v1.3h-1.3zM369.18 616.91h1.3v1.3h-1.3zM368.5 620.66h1.3v1.3h-1.3zM384.12 618.17h1.3v1.3h-1.3zM387.56 614.94h1.3v1.3h-1.3zM373.72 605.67h1.3v1.3h-1.3zM386.16 607.15h1.3v1.3h-1.3zM376.35 614.69h1.3v1.3h-1.3zM374.7 613.2h1.3v1.3h-1.3zM386.4 610.78h1.3v1.3h-1.3zM380.1 616.48h1.3v1.3h-1.3zM374.79 617.2h1.3v1.3h-1.3zM375.45 617.95h1.3v1.3h-1.3zM372.91 618.97h1.3v1.3h-1.3zM368.43 619.38h1.3v1.3h-1.3zM379.17 617.55h1.3v1.3h-1.3zM380.74 613.46h1.3v1.3h-1.3zM376.62 595.38h1.3v1.3h-1.3zM376.3 607.84h1.3v1.3h-1.3zM367.32 621.61h1.3v1.3h-1.3zM390.12 619.07h1.3v1.3h-1.3zM378 615.75h1.3v1.3h-1.3zM368.02 615.37h1.3v1.3h-1.3zM375.19 614.18h1.3v1.3h-1.3zM385.3 614.09h1.3v1.3h-1.3zM383.33 616.69h1.3v1.3h-1.3zM377.88 612.74h1.3v1.3h-1.3zM382.05 617.72h1.3v1.3h-1.3zM367.26 608.16h1.3v1.3h-1.3zM419.28 621.57h1.3v1.3h-1.3zM418.4 621.19h1.3v1.3h-1.3zM415.81 623.78h1.3v1.3h-1.3zM426.23 623.31h1.3v1.3h-1.3zM421.88 622.8h1.3v1.3h-1.3zM427.66 624.47h1.3v1.3h-1.3zM418.86 621.09h1.3v1.3h-1.3zM407.06 624.37h1.3v1.3h-1.3zM411.97 622.94h1.3v1.3h-1.3zM412.73 617.52h1.3v1.3h-1.3zM411.25 619.76h1.3v1.3h-1.3zM410.02 623.97h1.3v1.3h-1.3zM407.86 623.09h1.3v1.3h-1.3zM412.52 617.21h1.3v1.3h-1.3zM415.06 621.6h1.3v1.3h-1.3zM415.05 621.34h1.3v1.3h-1.3zM426.35 624.45h1.3v1.3h-1.3zM410.95 624.64h1.3v1.3h-1.3zM411.08 618.77h1.3v1.3h-1.3zM408.7 623.79h1.3v1.3h-1.3zM413.62 622.45h1.3v1.3h-1.3zM410.44 619.34h1.3v1.3h-1.3zM423.06 622.75h1.3v1.3h-1.3zM418.53 622.94h1.3v1.3h-1.3zM420.44 620.15h1.3v1.3h-1.3zM407.34 621.62h1.3v1.3h-1.3zM421 622.89h1.3v1.3h-1.3zM409.85 624.55h1.3v1.3h-1.3zM408.79 620.02h1.3v1.3h-1.3zM425.88 623.04h1.3v1.3h-1.3zM420.34 619.9h1.3v1.3h-1.3zM427.09 623.91h1.3v1.3h-1.3zM413.76 619.27h1.3v1.3h-1.3zM416.61 623.42h1.3v1.3h-1.3zM428.88 624.98h1.3v1.3h-1.3zM412.58 622.45h1.3v1.3h-1.3zM423.54 621.52h1.3v1.3h-1.3zM414.84 617.06h1.3v1.3h-1.3zM411.4 619.4h1.3v1.3h-1.3zM408.88 620.38h1.3v1.3h-1.3zM422.27 622.36h1.3v1.3h-1.3zM411.44 621.25h1.3v1.3h-1.3zM415.35 617.48h1.3v1.3h-1.3zM416.31 617.89h1.3v1.3h-1.3zM424.66 622.25h1.3v1.3h-1.3zM411.34 620.38h1.3v1.3h-1.3zM422.02 620.82h1.3v1.3h-1.3zM407.03 623.52h1.3v1.3h-1.3zM410.99 622.19h1.3v1.3h-1.3zM423.18 623.48h1.3v1.3h-1.3zM417.04 622.78h1.3v1.3h-1.3zM423.84 621.95h1.3v1.3h-1.3zM409.59 624.71h1.3v1.3h-1.3zM414.65 616.46h1.3v1.3h-1.3zM405.47 624h1.3v1.3h-1.3zM419.12 619.15h1.3v1.3h-1.3zM418.36 621.73h1.3v1.3h-1.3zM417.9 620.61h1.3v1.3h-1.3zM421.46 621.71h1.3v1.3h-1.3zM425.63 624.97h1.3v1.3h-1.3zM410.16 623.74h1.3v1.3h-1.3zM419.86 621.63h1.3v1.3h-1.3zM425.59 622.45h1.3v1.3h-1.3zM425.98 623.04h1.3v1.3h-1.3zM428.03 624.46h1.3v1.3h-1.3zM423.97 624.21h1.3v1.3h-1.3zM412.05 618.61h1.3v1.3h-1.3zM418.16 617.35h1.3v1.3h-1.3zM413.64 616.83h1.3v1.3h-1.3zM414.81 619.49h1.3v1.3h-1.3zM419.28 623.25h1.3v1.3h-1.3zM410.52 624.64h1.3v1.3h-1.3zM414.08 619.98h1.3v1.3h-1.3zM409.94 622.78h1.3v1.3h-1.3zM406.61 623.04h1.3v1.3h-1.3zM427.95 623.83h1.3v1.3h-1.3zM425.16 623.97h1.3v1.3h-1.3zM425.84 622.76h1.3v1.3h-1.3zM414.07 616.71h1.3v1.3h-1.3zM417.99 618.31h1.3v1.3h-1.3zM415.65 621.41h1.3v1.3h-1.3zM413.11 624.11h1.3v1.3h-1.3zM415.67 621.19h1.3v1.3h-1.3zM417.67 620.82h1.3v1.3h-1.3zM410.72 618.44h1.3v1.3h-1.3zM427.15 623.77h1.3v1.3h-1.3zM411.83 620.39h1.3v1.3h-1.3zM420.14 623.03h1.3v1.3h-1.3zM415 616.28h1.3v1.3h-1.3zM417.12 619.93h1.3v1.3h-1.3zM411.85 620.93h1.3v1.3h-1.3zM410.21 619.38h1.3v1.3h-1.3zM423.1 621.18h1.3v1.3h-1.3zM412.39 620.58h1.3v1.3h-1.3zM409.21 624.06h1.3v1.3h-1.3zM411.09 623.87h1.3v1.3h-1.3zM425.7 622.64h1.3v1.3h-1.3zM413.17 616.96h1.3v1.3h-1.3zM409.05 620.31h1.3v1.3h-1.3zM421.82 624.33h1.3v1.3h-1.3zM411.99 621.79h1.3v1.3h-1.3zM416.09 617.45h1.3v1.3h-1.3zM419.44 620.51h1.3v1.3h-1.3zM418.28 624.75h1.3v1.3h-1.3zM419.3 618.88h1.3v1.3h-1.3zM420.01 619.52h1.3v1.3h-1.3zM418.88 621.64h1.3v1.3h-1.3zM417.24 623.25h1.3v1.3h-1.3zM415.61 619.34h1.3v1.3h-1.3zM407.29 624.97h1.3v1.3h-1.3zM418.29 620.8h1.3v1.3h-1.3zM422.56 623.18h1.3v1.3h-1.3zM412.44 621.75h1.3v1.3h-1.3zM414.42 624.75h1.3v1.3h-1.3zM408.69 621.72h1.3v1.3h-1.3zM420.85 619.87h1.3v1.3h-1.3zM411.2 617.96h1.3v1.3h-1.3zM409.27 623.73h1.3v1.3h-1.3zM419.25 618.85h1.3v1.3h-1.3zM421.03 623.55h1.3v1.3h-1.3zM415.48 622.06h1.3v1.3h-1.3zM419.96 620.05h1.3v1.3h-1.3zM416.06 621.25h1.3v1.3h-1.3zM413.88 621.01h1.3v1.3h-1.3zM418.51 624.01h1.3v1.3h-1.3zM410.19 622.56h1.3v1.3h-1.3zM416.47 621.23h1.3v1.3h-1.3zM416.24 623.75h1.3v1.3h-1.3zM416.24 620.72h1.3v1.3h-1.3zM412.14 620.7h1.3v1.3h-1.3zM410.84 624.2h1.3v1.3h-1.3zM415.12 621.39h1.3v1.3h-1.3zM429.07 624.34h1.3v1.3h-1.3zM414.18 620.44h1.3v1.3h-1.3zM408.63 623.73h1.3v1.3h-1.3zM417.71 619.96h1.3v1.3h-1.3zM423.7 624.63h1.3v1.3h-1.3zM414.38 617.7h1.3v1.3h-1.3zM424.08 622.83h1.3v1.3h-1.3zM411.9 619.25h1.3v1.3h-1.3zM417.72 624.33h1.3v1.3h-1.3zM421.43 621.86h1.3v1.3h-1.3zM418.16 620.27h1.3v1.3h-1.3zM415.73 620.89h1.3v1.3h-1.3zM417.39 624.34h1.3v1.3h-1.3zM415.15 620.4h1.3v1.3h-1.3zM422.34 621.74h1.3v1.3h-1.3zM419.11 622.38h1.3v1.3h-1.3zM417.23 620.65h1.3v1.3h-1.3zM423.38 621.36h1.3v1.3h-1.3zM407.06 624.56h1.3v1.3h-1.3zM414.33 621.11h1.3v1.3h-1.3zM408.36 622.89h1.3v1.3h-1.3zM417.63 620.14h1.3v1.3h-1.3zM414.85 616.19h1.3v1.3h-1.3zM410.06 621.35h1.3v1.3h-1.3zM413.72 621.8h1.3v1.3h-1.3zM411.09 618.25h1.3v1.3h-1.3zM412.37 620.4h1.3v1.3h-1.3zM417.35 622.43h1.3v1.3h-1.3zM423.8 624.66h1.3v1.3h-1.3zM416.65 617.49h1.3v1.3h-1.3zM420.16 621.93h1.3v1.3h-1.3zM424.42 623.04h1.3v1.3h-1.3zM414.53 617.31h1.3v1.3h-1.3zM420.49 621.09h1.3v1.3h-1.3zM428.47 624.62h1.3v1.3h-1.3zM411.65 623.82h1.3v1.3h-1.3zM409.02 621.13h1.3v1.3h-1.3zM409.83 622.2h1.3v1.3h-1.3zM417.52 619.18h1.3v1.3h-1.3zM407.9 620.93h1.3v1.3h-1.3zM415.93 618.99h1.3v1.3h-1.3zM413.34 618.26h1.3v1.3h-1.3zM414.76 619.51h1.3v1.3h-1.3zM413.82 618.74h1.3v1.3h-1.3zM414.38 617.29h1.3v1.3h-1.3zM415.62 623.2h1.3v1.3h-1.3zM408.72 621.46h1.3v1.3h-1.3zM410.94 621.59h1.3v1.3h-1.3zM425.51 622.53h1.3v1.3h-1.3zM411.98 622.43h1.3v1.3h-1.3zM406.17 623.84h1.3v1.3h-1.3zM417.76 619.25h1.3v1.3h-1.3zM411.64 620.63h1.3v1.3h-1.3zM420.9 624.5h1.3v1.3h-1.3zM412.41 623.88h1.3v1.3h-1.3zM421.37 625.13h1.3v1.3h-1.3zM418.64 618.47h1.3v1.3h-1.3zM412.52 620.93h1.3v1.3h-1.3zM421.98 621.31h1.3v1.3h-1.3zM421.5 620.01h1.3v1.3h-1.3zM416.96 625.01h1.3v1.3h-1.3zM420.44 622.29h1.3v1.3h-1.3zM421.83 622.96h1.3v1.3h-1.3zM413.72 620.58h1.3v1.3h-1.3zM413.33 618.75h1.3v1.3h-1.3zM413.14 617.77h1.3v1.3h-1.3zM419.18 622.52h1.3v1.3h-1.3zM426.48 624.7h1.3v1.3h-1.3zM412.4 623.91h1.3v1.3h-1.3zM415.68 619.75h1.3v1.3h-1.3zM415.96 621.01h1.3v1.3h-1.3zM410.35 622.74h1.3v1.3h-1.3zM426.38 624.75h1.3v1.3h-1.3zM416.35 617.38h1.3v1.3h-1.3zM419.63 621.52h1.3v1.3h-1.3zM418.61 622.58h1.3v1.3h-1.3zM416.74 621.08h1.3v1.3h-1.3zM406.26 623h1.3v1.3h-1.3zM413.35 624.4h1.3v1.3h-1.3zM420.17 624.54h1.3v1.3h-1.3zM424.57 623.23h1.3v1.3h-1.3zM429.6 624.27h1.3v1.3h-1.3zM421.35 621.05h1.3v1.3h-1.3zM404.63 624.86h1.3v1.3h-1.3zM421.75 620.77h1.3v1.3h-1.3zM414.82 615.96h1.3v1.3h-1.3zM426.74 623.84h1.3v1.3h-1.3zM413.34 618.5h1.3v1.3h-1.3zM424.41 622.77h1.3v1.3h-1.3zM414.45 616.87h1.3v1.3h-1.3zM411.31 620.57h1.3v1.3h-1.3zM418.26 618.24h1.3v1.3h-1.3zM409.56 621.62h1.3v1.3h-1.3zM409.08 622.92h1.3v1.3h-1.3zM408.75 622.74h1.3v1.3h-1.3zM410.08 620.03h1.3v1.3h-1.3zM413.7 622.92h1.3v1.3h-1.3zM413.53 620.35h1.3v1.3h-1.3zM413.25 625.02h1.3v1.3h-1.3zM424.07 623.53h1.3v1.3h-1.3zM420.37 621.69h1.3v1.3h-1.3zM417.97 619.16h1.3v1.3h-1.3zM416.32 622.1h1.3v1.3h-1.3zM413 620.51h1.3v1.3h-1.3zM412.01 619.47h1.3v1.3h-1.3zM418.43 619.51h1.3v1.3h-1.3zM411.22 622.02h1.3v1.3h-1.3zM417.17 620.15h1.3v1.3h-1.3zM408.62 624.57h1.3v1.3h-1.3zM415.42 621.82h1.3v1.3h-1.3zM409.63 620.67h1.3v1.3h-1.3zM427.97 623.58h1.3v1.3h-1.3zM407.13 621.87h1.3v1.3h-1.3zM425.63 623.66h1.3v1.3h-1.3zM413.6 624.5h1.3v1.3h-1.3zM428.07 624.76h1.3v1.3h-1.3zM414.82 624.29h1.3v1.3h-1.3zM411 617.89h1.3v1.3h-1.3zM413.54 606.04h1.3v1.3h-1.3zM415.47 615.54h1.3v1.3h-1.3zM418.09 616.59h1.3v1.3h-1.3zM417.85 617.33h1.3v1.3h-1.3zM416.99 616.16h1.3v1.3h-1.3zM414.66 608.31h1.3v1.3h-1.3zM417.3 617.06h1.3v1.3h-1.3zM416.8 616.63h1.3v1.3h-1.3zM409.9 617.72h1.3v1.3h-1.3zM412.69 612.4h1.3v1.3h-1.3zM420.52 615.62h1.3v1.3h-1.3zM421.85 617.95h1.3v1.3h-1.3zM408.24 619.52h1.3v1.3h-1.3zM411.53 616.84h1.3v1.3h-1.3zM411.5 618.07h1.3v1.3h-1.3zM419.62 616.26h1.3v1.3h-1.3zM408.99 617.07h1.3v1.3h-1.3zM407.71 617.14h1.3v1.3h-1.3zM410.7 615.7h1.3v1.3h-1.3zM404.67 623.87h1.3v1.3h-1.3zM413.94 616.14h1.3v1.3h-1.3zM423.47 615.32h1.3v1.3h-1.3zM407.78 621.01h1.3v1.3h-1.3zM413.17 615.85h1.3v1.3h-1.3zM416.33 617.52h1.3v1.3h-1.3zM408.21 618.95h1.3v1.3h-1.3zM420.61 617.42h1.3v1.3h-1.3zM414.48 601.43h1.3v1.3h-1.3zM414.23 603.16h1.3v1.3h-1.3zM414.2 610.09h1.3v1.3h-1.3zM416.56 608.86h1.3v1.3h-1.3zM423.93 612.65h1.3v1.3h-1.3zM416.52 617.57h1.3v1.3h-1.3zM421.38 618.79h1.3v1.3h-1.3zM415.02 604.84h1.3v1.3h-1.3zM373.08 617.17h1.3v1.3h-1.3zM381.65 619.55h1.3v1.3h-1.3zM367.5 624.55h1.3v1.3h-1.3zM391.03 620.4h1.3v1.3h-1.3zM382.12 623.27h1.3v1.3h-1.3zM388.24 624.31h1.3v1.3h-1.3zM382.04 624.94h1.3v1.3h-1.3zM388.14 619.02h1.3v1.3h-1.3zM362.11 609.32h1.3v1.3h-1.3zM387.13 623.61h1.3v1.3h-1.3zM362.73 611.81h1.3v1.3h-1.3zM386.57 619.58h1.3v1.3h-1.3zM388.86 619.08h1.3v1.3h-1.3zM375.5 621.85h1.3v1.3h-1.3zM365.05 615.16h1.3v1.3h-1.3zM370.51 616.08h1.3v1.3h-1.3zM390.69 620.77h1.3v1.3h-1.3zM331.36 623.91h1.3v1.3h-1.3zM352.65 606.27h1.3v1.3h-1.3zM354.98 609.54h1.3v1.3h-1.3zM372.68 624.02h1.3v1.3h-1.3zM353.78 617.63h1.3v1.3h-1.3zM368.84 621.98h1.3v1.3h-1.3zM362.49 625.02h1.3v1.3h-1.3zM381.63 617.32h1.3v1.3h-1.3zM377.05 619.84h1.3v1.3h-1.3zM365.02 612.68h1.3v1.3h-1.3zM385.24 621.01h1.3v1.3h-1.3zM373.5 615.51h1.3v1.3h-1.3zM389.53 623.14h1.3v1.3h-1.3zM348.23 624.78h1.3v1.3h-1.3zM379.53 619.74h1.3v1.3h-1.3zM382.44 623.96h1.3v1.3h-1.3zM385.24 622.05h1.3v1.3h-1.3zM330.64 612.09h1.3v1.3h-1.3zM390.46 622.55h1.3v1.3h-1.3zM380.7 615.98h1.3v1.3h-1.3zM347.96 608.8h1.3v1.3h-1.3zM362.16 613.22h1.3v1.3h-1.3zM365 610.31h1.3v1.3h-1.3zM367.32 622.12h1.3v1.3h-1.3zM378.67 624.85h1.3v1.3h-1.3zM382.01 621.58h1.3v1.3h-1.3zM368.1 620.94h1.3v1.3h-1.3zM388.9 624.1h1.3v1.3h-1.3zM354.86 611.52h1.3v1.3h-1.3zM377.58 624.4h1.3v1.3h-1.3zM375.11 622.26h1.3v1.3h-1.3zM372.79 614.69h1.3v1.3h-1.3zM367.01 618.87h1.3v1.3h-1.3zM391.08 620.71h1.3v1.3h-1.3zM387.84 621.59h1.3v1.3h-1.3zM389.79 621.69h1.3v1.3h-1.3zM387.2 624.07h1.3v1.3h-1.3zM381.63 621.64h1.3v1.3h-1.3zM369.73 611.32h1.3v1.3h-1.3zM384.15 623.77h1.3v1.3h-1.3zM360.39 606.92h1.3v1.3h-1.3zM387.52 623.74h1.3v1.3h-1.3zM383.5 621.23h1.3v1.3h-1.3zM370.2 619.75h1.3v1.3h-1.3zM373.61 619.07h1.3v1.3h-1.3zM382.5 621.06h1.3v1.3h-1.3zM355.11 623.42h1.3v1.3h-1.3zM391.31 623.93h1.3v1.3h-1.3zM370.49 617.5h1.3v1.3h-1.3zM387.87 621.33h1.3v1.3h-1.3zM357.94 607.53h1.3v1.3h-1.3zM385.91 618.4h1.3v1.3h-1.3zM388.66 625h1.3v1.3h-1.3zM455.16 615.18h1.3v1.3h-1.3zM427.05 621.45h1.3v1.3h-1.3zM406.51 624.76h1.3v1.3h-1.3zM409.22 619.82h1.3v1.3h-1.3zM411.56 624.93h1.3v1.3h-1.3zM409.14 619.5h1.3v1.3h-1.3zM409.04 619.54h1.3v1.3h-1.3zM417.79 615.3h1.3v1.3h-1.3zM408.87 622.74h1.3v1.3h-1.3zM437.27 606.55h1.3v1.3h-1.3zM407.83 624.66h1.3v1.3h-1.3zM441.5 609.72h1.3v1.3h-1.3zM409.02 620.69h1.3v1.3h-1.3zM412.66 621.24h1.3v1.3h-1.3zM417.38 615.52h1.3v1.3h-1.3zM416.18 623.86h1.3v1.3h-1.3zM408.62 623.51h1.3v1.3h-1.3zM406.33 625.02h1.3v1.3h-1.3zM407.93 624.28h1.3v1.3h-1.3zM419.33 624.25h1.3v1.3h-1.3zM416.4 616.29h1.3v1.3h-1.3zM406.4 624.85h1.3v1.3h-1.3zM420.86 613.71h1.3v1.3h-1.3zM409.05 622.08h1.3v1.3h-1.3zM418.62 624.77h1.3v1.3h-1.3zM407.06 620.7h1.3v1.3h-1.3zM413.22 618.32h1.3v1.3h-1.3zM415.02 624.13h1.3v1.3h-1.3zM410.01 624.96h1.3v1.3h-1.3zM406.59 623.44h1.3v1.3h-1.3zM459.6 614.11h1.3v1.3h-1.3zM414.55 616.15h1.3v1.3h-1.3zM415.55 623.21h1.3v1.3h-1.3zM418.41 615.2h1.3v1.3h-1.3zM411.86 622.5h1.3v1.3h-1.3zM426.81 618.48h1.3v1.3h-1.3zM424.45 619.16h1.3v1.3h-1.3zM407.52 621.21h1.3v1.3h-1.3zM417.87 618.38h1.3v1.3h-1.3zM409.74 623.94h1.3v1.3h-1.3zM408.44 622.3h1.3v1.3h-1.3zM407.38 623.47h1.3v1.3h-1.3zM430.36 609.86h1.3v1.3h-1.3zM405.85 621.66h1.3v1.3h-1.3zM413.87 618.48h1.3v1.3h-1.3zM417.03 620h1.3v1.3h-1.3zM444.43 622.14h1.3v1.3h-1.3zM405.69 623.7h1.3v1.3h-1.3zM427.73 624.11h1.3v1.3h-1.3zM418.41 620.71h1.3v1.3h-1.3zM431.85 622.21h1.3v1.3h-1.3zM410.01 623.79h1.3v1.3h-1.3zM412.25 619.54h1.3v1.3h-1.3zM425.33 611.34h1.3v1.3h-1.3zM421.91 618.14h1.3v1.3h-1.3zM420.81 623.78h1.3v1.3h-1.3zM414.7 624.12h1.3v1.3h-1.3zM429.06 615.09h1.3v1.3h-1.3zM415.66 618.59h1.3v1.3h-1.3zM433.56 624.14h1.3v1.3h-1.3zM364.75 576.25h1.3v1.3h-1.3zM359.15 584.95h1.3v1.3h-1.3zM369.35 586.65h1.3v1.3h-1.3zM373.35 594.45h1.3v1.3h-1.3zM369.05 599.65h1.3v1.3h-1.3zM363.35 603.05h1.3v1.3h-1.3zM376.85 603.65h1.3v1.3h-1.3zM355.15 611.25h1.3v1.3h-1.3zM366.45 612.25h1.3v1.3h-1.3zM358.35 613.95h1.3v1.3h-1.3zM342.25 620.75h1.3v1.3h-1.3zM345.35 619.55h1.3v1.3h-1.3zM354.65 618.35h1.3v1.3h-1.3zM351.75 623.85h1.3v1.3h-1.3zM347.75 624.35h1.3v1.3h-1.3zM362.95 621.25h1.3v1.3h-1.3zM368.15 616.05h1.3v1.3h-1.3zM370.75 615.15h1.3v1.3h-1.3zM377.65 610.05h1.3v1.3h-1.3zM379.35 610.05h1.3v1.3h-1.3zM380.35 613.45h1.3v1.3h-1.3zM429.25 589.25h1.3v1.3h-1.3zM464.15 591.85h1.3v1.3h-1.3zM428.75 597.35h1.3v1.3h-1.3zM449.55 600.95h1.3v1.3h-1.3zM419.25 604.75h1.3v1.3h-1.3zM420.35 605.85h1.3v1.3h-1.3zM423.25 604.75h1.3v1.3h-1.3zM446.45 606.45h1.3v1.3h-1.3zM449.15 608.45h1.3v1.3h-1.3zM415.95 611.35h1.3v1.3h-1.3zM430.35 610.65h1.3v1.3h-1.3zM427.05 613.55h1.3v1.3h-1.3zM440.25 614.65h1.3v1.3h-1.3zM452.05 613.55h1.3v1.3h-1.3zM457.35 614.65h1.3v1.3h-1.3zM453.55 616.45h1.3v1.3h-1.3zM450.25 619.05h1.3v1.3h-1.3zM445.85 620.15h1.3v1.3h-1.3zM469.05 619.05h1.3v1.3h-1.3zM457.35 622.35h1.3v1.3h-1.3zM432.55 621.75h1.3v1.3h-1.3zM436.95 623.05h1.3v1.3h-1.3zM425.85 618.65h1.3v1.3h-1.3zM443.35 537.55h1.3v1.3h-1.3zM459.35 538.15h1.3v1.3h-1.3zM364.55 576.05h1.3v1.3h-1.3zM359.35 584.95h1.3v1.3h-1.3zM369.55 586.55h1.3v1.3h-1.3zM429.15 589.55h1.3v1.3h-1.3zM463.95 591.45h1.3v1.3h-1.3zM429.15 597.55h1.3v1.3h-1.3z" fill="#c9282e"/>
<path d="M491.11 626.22h0.9v0.9h-0.9zM494.45 625.44h0.9v0.9h-0.9zM354.77 625.5h0.9v0.9h-0.9zM306.66 625.74h0.9v0.9h-0.9zM346.62 625.94h0.9v0.9h-0.9zM401.32 625.9h0.9v0.9h-0.9zM443.27 625.58h0.9v0.9h-0.9zM436.07 625.77h0.9v0.9h-0.9zM331.22 625.99h0.9v0.9h-0.9zM471.3 625.57h0.9v0.9h-0.9zM388.9 625.82h0.9v0.9h-0.9zM374.32 625.39h0.9v0.9h-0.9zM345.75 626.28h0.9v0.9h-0.9zM327.19 625.4h0.9v0.9h-0.9zM456.23 625.84h0.9v0.9h-0.9zM406.59 625.69h0.9v0.9h-0.9zM328.56 625.62h0.9v0.9h-0.9zM323.66 626.27h0.9v0.9h-0.9zM308.06 625.46h0.9v0.9h-0.9zM373.29 626.31h0.9v0.9h-0.9zM491.94 625.73h0.9v0.9h-0.9zM398.16 625.51h0.9v0.9h-0.9zM372.54 625.43h0.9v0.9h-0.9zM468.26 626.1h0.9v0.9h-0.9zM385.38 625.79h0.9v0.9h-0.9zM349.47 626.25h0.9v0.9h-0.9zM363.64 625.55h0.9v0.9h-0.9zM377.85 626.17h0.9v0.9h-0.9zM488.08 625.99h0.9v0.9h-0.9zM345 626.17h0.9v0.9h-0.9zM493.43 625.8h0.9v0.9h-0.9zM449.27 625.86h0.9v0.9h-0.9zM396.22 626.09h0.9v0.9h-0.9zM353.87 626.07h0.9v0.9h-0.9zM370.9 625.8h0.9v0.9h-0.9zM379.56 626.17h0.9v0.9h-0.9zM322.88 625.52h0.9v0.9h-0.9zM458.19 625.56h0.9v0.9h-0.9zM450.38 625.82h0.9v0.9h-0.9zM421.57 625.59h0.9v0.9h-0.9zM306.43 626.32h0.9v0.9h-0.9zM492.53 625.45h0.9v0.9h-0.9zM436.83 625.81h0.9v0.9h-0.9zM495.35 625.71h0.9v0.9h-0.9zM448.67 625.86h0.9v0.9h-0.9zM351.49 625.93h0.9v0.9h-0.9zM387.83 626.03h0.9v0.9h-0.9zM490.47 626.2h0.9v0.9h-0.9zM311.61 625.77h0.9v0.9h-0.9zM308.04 626.09h0.9v0.9h-0.9zM320.79 626.06h0.9v0.9h-0.9zM440.07 625.6h0.9v0.9h-0.9zM474.11 626.32h0.9v0.9h-0.9zM462.56 626.33h0.9v0.9h-0.9zM452.46 625.94h0.9v0.9h-0.9zM487.87 625.99h0.9v0.9h-0.9zM371.39 625.73h0.9v0.9h-0.9zM336.47 626.1h0.9v0.9h-0.9zM343.89 626.35h0.9v0.9h-0.9zM391.69 626h0.9v0.9h-0.9zM456.68 626.16h0.9v0.9h-0.9zM374.1 625.48h0.9v0.9h-0.9zM470 625.57h0.9v0.9h-0.9zM418.62 625.46h0.9v0.9h-0.9zM351.89 625.74h0.9v0.9h-0.9zM492.13 625.83h0.9v0.9h-0.9zM413.56 626.32h0.9v0.9h-0.9zM412 625.36h0.9v0.9h-0.9zM490.17 626.22h0.9v0.9h-0.9zM344.07 626.23h0.9v0.9h-0.9zM462.12 625.9h0.9v0.9h-0.9zM477.87 625.58h0.9v0.9h-0.9zM322.6 626.3h0.9v0.9h-0.9zM441.55 625.55h0.9v0.9h-0.9zM416.38 625.61h0.9v0.9h-0.9zM435.96 625.95h0.9v0.9h-0.9zM310.43 625.9h0.9v0.9h-0.9zM439.67 626.3h0.9v0.9h-0.9zM421.97 626.22h0.9v0.9h-0.9zM308.68 625.53h0.9v0.9h-0.9zM334.32 625.67h0.9v0.9h-0.9zM452.58 625.59h0.9v0.9h-0.9zM348.2 625.4h0.9v0.9h-0.9zM434.96 626.16h0.9v0.9h-0.9zM330.28 625.79h0.9v0.9h-0.9zM459.17 625.77h0.9v0.9h-0.9zM395.03 626.11h0.9v0.9h-0.9zM324.03 626.18h0.9v0.9h-0.9zM332.38 626.12h0.9v0.9h-0.9zM506.54 625.87h0.9v0.9h-0.9z" fill="#777"/>
<line x1="303.5" y1="526" x2="303.5" y2="634" stroke="#111" stroke-width="1"/>
<line x1="303" y1="633.5" x2="511" y2="633.5" stroke="#111" stroke-width="1"/>
<text x="300.3" y="629.4" font-size="6.8" fill="#222" text-anchor="end">0</text>
<text x="300.3" y="616.8" font-size="6.8" fill="#222" text-anchor="end">10</text>
<text x="300.3" y="604.2" font-size="6.8" fill="#222" text-anchor="end">20</text>
<text x="300.3" y="591.6" font-size="6.8" fill="#222" text-anchor="end">30</text>
<text x="300.3" y="579" font-size="6.8" fill="#222" text-anchor="end">40</text>
<text x="300.3" y="566.4" font-size="6.8" fill="#222" text-anchor="end">50</text>
<text x="300.3" y="553.8" font-size="6.8" fill="#222" text-anchor="end">60</text>
<text x="300.3" y="541.2" font-size="6.8" fill="#222" text-anchor="end">70</text>
<text x="300.3" y="528.6" font-size="6.8" fill="#222" text-anchor="end">80</text>
<text x="312.8" y="642" font-size="6.8" fill="#222" text-anchor="middle">−10</text>
<text x="355.9" y="642" font-size="6.8" fill="#222" text-anchor="middle">−5</text>
<text x="399" y="642" font-size="6.8" fill="#222" text-anchor="middle">0</text>
<text x="442.1" y="642" font-size="6.8" fill="#222" text-anchor="middle">5</text>
<text x="485.2" y="642" font-size="6.8" fill="#222" text-anchor="middle">10</text>
<text x="312.5" y="654.3" font-size="8.8" fill="#222" font-weight="bold" textLength="188.3" lengthAdjust="spacingAndGlyphs">Log<tspan font-size="5.8" dy="2">2</tspan><tspan dy="-2"> fold change pom 0.1 μM HRI shRNA #2 vs DMSO control shRNA</tspan></text>
<text transform="translate(288.4 579.4) rotate(-90)" x="0" y="0" font-size="8.6" fill="#222" text-anchor="middle" textLength="65" lengthAdjust="spacingAndGlyphs">-Log<tspan font-size="5.6" dy="2">10</tspan><tspan dy="-2">(adjusted P-value)</tspan></text>
<text x="312.5" y="538.75" font-size="5.3" fill="#222">Log<tspan font-size="3.6" dy="1.2">2</tspan><tspan dy="-1.2"> fold changes</tspan></text>
<text x="312.5" y="545" font-size="5.3" fill="#222">(erythroid targets)</text>
<text x="312.5" y="556.25" font-size="5.5" fill="#222">BCL11A (-2.55)</text>
<text x="312.5" y="563" font-size="5.5" fill="#222">HBG1 (2.64)</text>
<text x="312.5" y="569.25" font-size="5.5" fill="#222">HBG2 (8.08)</text>
<text x="432" y="550.8" font-size="5.5" fill="#222" textLength="47.2" lengthAdjust="spacingAndGlyphs">DEG = 1093 genes</text>
<line x1="432" y1="551.7" x2="479.2" y2="551.7" stroke="#222" stroke-width="0.5"/>
<text x="370.6" y="598.5" font-size="5.6" fill="#222">BCL11A</text>
<line x1="373.5" y1="599.8" x2="373.5" y2="607.2" stroke="#333" stroke-width="0.6"/>
<text x="432.7" y="604.2" font-size="5.6" fill="#222">HBG1</text>
<line x1="432.7" y1="606.9" x2="419.5" y2="615.3" stroke="#333" stroke-width="0.6"/>
<text x="474" y="617.5" font-size="5.6" fill="#222">HBG2</text>
<line x1="474.8" y1="618.6" x2="467.5" y2="626" stroke="#333" stroke-width="0.6"/>
<rect x="0.5" y="0.5" width="518.85" height="664.9" fill="none" stroke="#000" stroke-width="1.2"/>
</svg>
</body></html>
